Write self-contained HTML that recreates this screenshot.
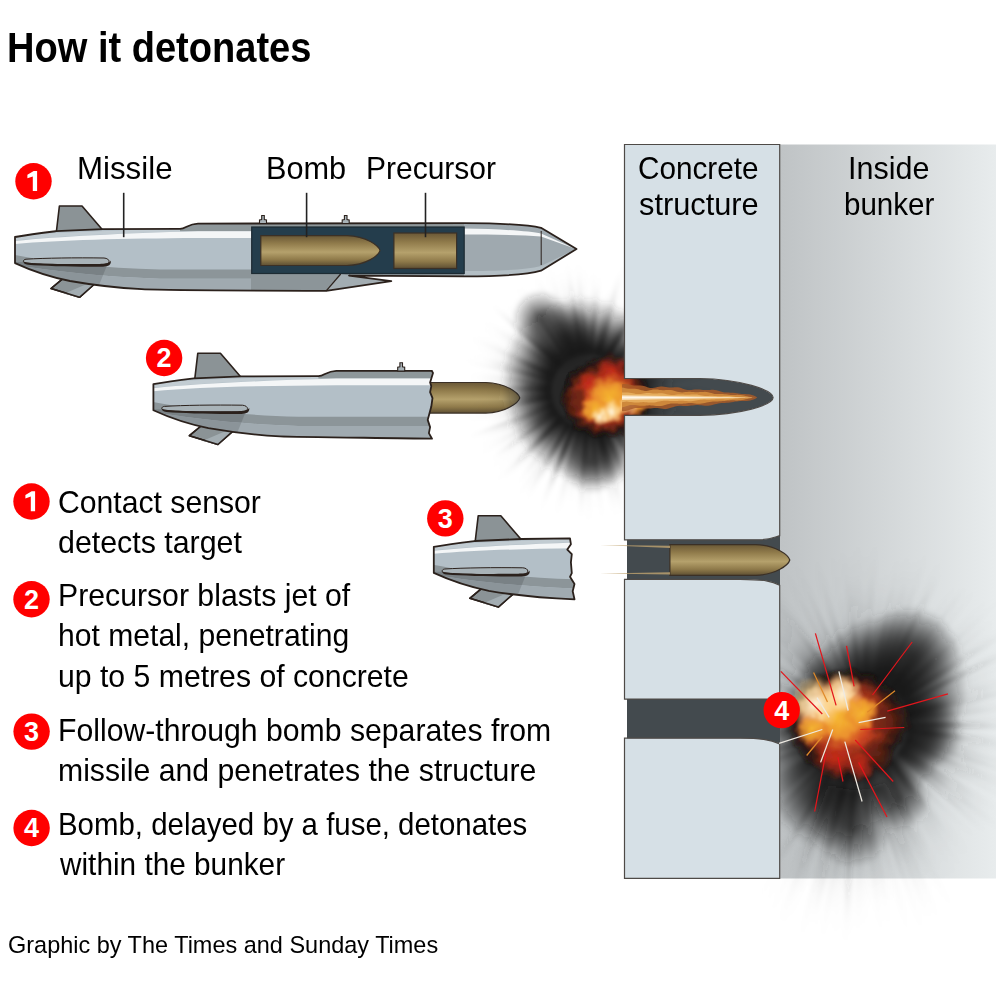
<!DOCTYPE html>
<html><head><meta charset="utf-8"><style>
html,body{margin:0;padding:0;background:#fff;width:996px;height:982px;overflow:hidden}
.t{position:absolute;white-space:pre;font-family:"Liberation Sans",sans-serif;color:#000;transform-origin:0 0}
svg{position:absolute;left:0;top:0}
.bd{font-family:"Liberation Sans",sans-serif;font-weight:bold;font-size:27px}
</style></head><body>
<svg width="996" height="982" viewBox="0 0 996 982">
<defs>
<linearGradient id="bunk" x1="0" x2="1" y1="0" y2="0"><stop offset="0" stop-color="#bfc3c5"/><stop offset="1" stop-color="#e8eced"/></linearGradient>
<linearGradient id="brass" x1="0" x2="0" y1="0" y2="1"><stop offset="0" stop-color="#6a5836"/><stop offset="0.25" stop-color="#8f7a4a"/><stop offset="0.55" stop-color="#b5a16c"/><stop offset="0.8" stop-color="#8f7a4a"/><stop offset="1" stop-color="#5e4f33"/></linearGradient>
</defs>
<g id="m1">
<polygon points="59.4,206.0 82.0,206.0 103.5,231.0 56.0,235.0" fill="#8b9396" stroke="#2b211c" stroke-width="1.6" stroke-linejoin="round"/>
<polygon points="51.0,288.5 79.5,297.3 94.0,284.5 65.0,276.8" fill="#8b9396" stroke="#2b211c" stroke-width="1.6" stroke-linejoin="round"/>
<polygon points="64.0,293.8 79.5,297.3 94.0,284.5 88.0,283.5" fill="#a3adb2"/>
<polygon points="51.0,288.5 79.5,297.3 94.0,284.5 65.0,276.8" fill="none" stroke="#2b211c" stroke-width="1.6" stroke-linejoin="round"/>
<clipPath id="c1"><path d="M15,237 C30,234.5 45,232.6 56,231.2 L103,229.2 L180,228.9 C186,228.8 188,223.8 198,223.6 L464,223.2 C505,223.4 530,225 541,227.8 L576.5,249 L541,270.7 C528,274.5 500,276.3 464,276.3 L349,275.6 L391.3,281.2 L326.2,290.8 C250,290.7 160,290 141.6,289.2 C110,287.5 90,284.5 70,281 C50,277 30,270 15,263.1 Z"/></clipPath>
<g clip-path="url(#c1)">
<rect x="0" y="200" width="600" height="100" fill="#b3bfc7"/>
<path d="M10,235 L180,228 L200,222 L600,222 L600,231.3 L198,231.3 C120,233 60,236 10,241 Z" fill="#c2ccd2"/>
<path d="M180,220 L600,220 L600,231.3 L180,231.3 Z" fill="#8e979a"/>
<path d="M15,241 C60,236.5 120,233.5 198,231.3 L600,231.3 L600,238 L198,238 C120,238.5 60,240 15,244 Z" fill="#f4f6f7"/>
<path d="M10,254 C50,262 100,268 160,269.6 L600,269.6 L600,278.7 L160,278.7 C100,277 50,271 10,264 Z" fill="#8c9599"/>
<path d="M10,264 C50,271 100,277 160,278.7 L600,278.7 L600,300 L10,300 Z" fill="#a0aab0"/>
<path d="M22,262 L108,263 L93,300 L10,300 L10,262 Z" fill="#000" opacity="0.13"/>

<rect x="464" y="200" width="130" height="100" fill="#9fa9af"/>
<path d="M464,228.5 C500,229 530,231 541,233.5 L576,249 L541,236.5 C520,235 490,234.5 464,234.5 Z" fill="#f4f6f7"/>
<path d="M464,271 C500,271 525,270 541,266 L576,249 L576,300 L464,300 Z" fill="#b3bec4"/>
<path d="M251,273.5 L464,273.5 L464,300 L251,300Z" fill="#8c9599"/>
<path d="M326.2,291 L340.7,274 L349,275.6 L391.3,281.2 Z" fill="#a3adb2"/>
<path d="M326.2,291 L200,300 L200,278.7 L340.7,278.7 Z" fill="none"/>

</g>
<path d="M15,237 C30,234.5 45,232.6 56,231.2 L103,229.2 L180,228.9 C186,228.8 188,223.8 198,223.6 L464,223.2 C505,223.4 530,225 541,227.8 L576.5,249 L541,270.7 C528,274.5 500,276.3 464,276.3 L349,275.6 L391.3,281.2 L326.2,290.8 C250,290.7 160,290 141.6,289.2 C110,287.5 90,284.5 70,281 C50,277 30,270 15,263.1 Z" fill="none" stroke="#2b211c" stroke-width="1.8" stroke-linejoin="round"/>
<path d="M26,259.2 C45,258 75,257.6 104,258.0 C110.5,258.5 111,264 104,264.6 C75,265.3 45,264.6 26,263.2 C22.5,262.8 22.5,259.6 26,259.2 Z" fill="#a9b3b8" stroke="#2b211c" stroke-width="1.0"/>
<path d="M23.6,261.6 C26,263.3 40,264.1 75,264.1 C90,264.1 100,263.9 103,263.7 C108,263.5 110.4,262 110.8,260.6 C111.5,265 108.5,266.6 103,266.7 C75,267.1 45,266 28,264.8 C24.6,264.5 23.4,263 23.6,261.6 Z" fill="#2b211c"/>

<line x1="541.2" y1="231" x2="541.2" y2="265" stroke="#2b211c" stroke-width="1"/>
<line x1="326.2" y1="290.8" x2="340.7" y2="274" stroke="#2b211c" stroke-width="1.2"/>
<rect x="251.7" y="227" width="212.5" height="46.5" fill="#243d4c" stroke="#1d2b33" stroke-width="1.2"/>
<path d="M260.8,235.7 L347,235.7 C366.8,236.296 378.68,245.832 380,250.6 C378.68,255.368 366.8,264.904 347,265.5 L260.8,265.5 Z" fill="url(#brass)" stroke="#3b3026" stroke-width="1.2"/>
<rect x="393.9" y="233" width="62.7" height="35.5" fill="url(#brass)" stroke="#3b3026" stroke-width="1.2"/>
<path d="M261.7,215.5 L264.3,215.5 L264.3,219.5 L266.5,220.0 L266.5,223.5 L259.5,223.5 L259.5,220.0 L261.7,219.5 Z" fill="#a9b3b8" stroke="#2b211c" stroke-width="1.1"/><path d="M344.4,215.5 L347.0,215.5 L347.0,219.5 L349.2,220.0 L349.2,223.5 L342.2,223.5 L342.2,220.0 L344.4,219.5 Z" fill="#a9b3b8" stroke="#2b211c" stroke-width="1.1"/>

</g>
<path d="M415,382.5 L485.79999999999995,382.5 C506.19999999999993,383.112 518.4399999999999,392.904 519.8,397.8 C518.4399999999999,402.696 506.19999999999993,412.488 485.79999999999995,413.1 L415,413.1 Z" fill="url(#brass)" stroke="#3b3026" stroke-width="1.2"/>
<g transform="translate(138.4,147.2)">
<polygon points="59.4,206.0 82.0,206.0 103.5,231.0 56.0,235.0" fill="#8b9396" stroke="#2b211c" stroke-width="1.6" stroke-linejoin="round"/>
<polygon points="51.0,288.5 79.5,297.3 94.0,284.5 65.0,276.8" fill="#8b9396" stroke="#2b211c" stroke-width="1.6" stroke-linejoin="round"/>
<polygon points="64.0,293.8 79.5,297.3 94.0,284.5 88.0,283.5" fill="#a3adb2"/>
<polygon points="51.0,288.5 79.5,297.3 94.0,284.5 65.0,276.8" fill="none" stroke="#2b211c" stroke-width="1.6" stroke-linejoin="round"/>
<clipPath id="c2"><path d="M15,237 C30,234.5 45,232.6 56,231.2 L103,229.2 L180,228.9 C186,228.8 188,223.8 198,223.6 L293.6,223.6 L293.6,224 L294.6,225.7 L291.7,235.3 L292.9,238.9 L291.7,245 L294.1,251 L292.9,259.4 L289.3,272.7 L291.7,279.9 L290.5,285.9 L293.6,291.5 C250,290.7 160,290 141.6,289.2 C110,287.5 90,284.5 70,281 C50,277 30,270 15,263.1 Z"/></clipPath>
<g clip-path="url(#c2)">
<rect x="0" y="200" width="600" height="100" fill="#b3bfc7"/>
<path d="M10,235 L180,228 L200,222 L600,222 L600,231.3 L198,231.3 C120,233 60,236 10,241 Z" fill="#c2ccd2"/>
<path d="M180,220 L600,220 L600,231.3 L180,231.3 Z" fill="#8e979a"/>
<path d="M15,241 C60,236.5 120,233.5 198,231.3 L600,231.3 L600,238 L198,238 C120,238.5 60,240 15,244 Z" fill="#f4f6f7"/>
<path d="M10,254 C50,262 100,268 160,269.6 L600,269.6 L600,278.7 L160,278.7 C100,277 50,271 10,264 Z" fill="#8c9599"/>
<path d="M10,264 C50,271 100,277 160,278.7 L600,278.7 L600,300 L10,300 Z" fill="#a0aab0"/>
<path d="M22,262 L108,263 L93,300 L10,300 L10,262 Z" fill="#000" opacity="0.13"/>

</g>
<path d="M15,237 C30,234.5 45,232.6 56,231.2 L103,229.2 L180,228.9 C186,228.8 188,223.8 198,223.6 L293.6,223.6 L293.6,224 L294.6,225.7 L291.7,235.3 L292.9,238.9 L291.7,245 L294.1,251 L292.9,259.4 L289.3,272.7 L291.7,279.9 L290.5,285.9 L293.6,291.5 C250,290.7 160,290 141.6,289.2 C110,287.5 90,284.5 70,281 C50,277 30,270 15,263.1 Z" fill="none" stroke="#2b211c" stroke-width="1.8" stroke-linejoin="round"/>
<path d="M26,259.2 C45,258 75,257.6 104,258.0 C110.5,258.5 111,264 104,264.6 C75,265.3 45,264.6 26,263.2 C22.5,262.8 22.5,259.6 26,259.2 Z" fill="#a9b3b8" stroke="#2b211c" stroke-width="1.0"/>
<path d="M23.6,261.6 C26,263.3 40,264.1 75,264.1 C90,264.1 100,263.9 103,263.7 C108,263.5 110.4,262 110.8,260.6 C111.5,265 108.5,266.6 103,266.7 C75,267.1 45,266 28,264.8 C24.6,264.5 23.4,263 23.6,261.6 Z" fill="#2b211c"/>
<path d="M261.5,215.5 L264.1,215.5 L264.1,219.5 L266.3,220.0 L266.3,223.8 L259.3,223.8 L259.3,220.0 L261.5,219.5 Z" fill="#a9b3b8" stroke="#2b211c" stroke-width="1.1"/>
</g>
<g transform="translate(418.8,309.8)">
<polygon points="59.4,206.0 82.0,206.0 103.5,231.0 56.0,235.0" fill="#8b9396" stroke="#2b211c" stroke-width="1.6" stroke-linejoin="round"/>
<polygon points="51.0,288.5 79.5,297.3 94.0,284.5 65.0,276.8" fill="#8b9396" stroke="#2b211c" stroke-width="1.6" stroke-linejoin="round"/>
<polygon points="64.0,293.8 79.5,297.3 94.0,284.5 88.0,283.5" fill="#a3adb2"/>
<polygon points="51.0,288.5 79.5,297.3 94.0,284.5 65.0,276.8" fill="none" stroke="#2b211c" stroke-width="1.6" stroke-linejoin="round"/>
<clipPath id="c3"><path d="M15,237 C30,234.5 45,232.6 56,231.2 L103,229.2 L151.2,228.6 L151.2,228.6 L152.1,234.4 L148.5,239.8 L153,244.4 L152.1,252.5 L153,263.3 L151.2,267 L155.7,274.2 L153.9,281.4 L155.7,289.5 C120,288 90,284.5 70,281 C50,277 30,270 15,263.1 Z"/></clipPath>
<g clip-path="url(#c3)">
<rect x="0" y="200" width="600" height="100" fill="#b3bfc7"/>
<path d="M10,235 L180,228 L200,222 L600,222 L600,231.3 L198,231.3 C120,233 60,236 10,241 Z" fill="#c2ccd2"/>
<path d="M180,220 L600,220 L600,231.3 L180,231.3 Z" fill="#8e979a"/>
<path d="M15,241 C60,236.5 120,233.5 198,231.3 L600,231.3 L600,238 L198,238 C120,238.5 60,240 15,244 Z" fill="#f4f6f7"/>
<path d="M10,254 C50,262 100,268 160,269.6 L600,269.6 L600,278.7 L160,278.7 C100,277 50,271 10,264 Z" fill="#8c9599"/>
<path d="M10,264 C50,271 100,277 160,278.7 L600,278.7 L600,300 L10,300 Z" fill="#a0aab0"/>
<path d="M22,262 L108,263 L93,300 L10,300 L10,262 Z" fill="#000" opacity="0.13"/>

</g>
<path d="M15,237 C30,234.5 45,232.6 56,231.2 L103,229.2 L151.2,228.6 L151.2,228.6 L152.1,234.4 L148.5,239.8 L153,244.4 L152.1,252.5 L153,263.3 L151.2,267 L155.7,274.2 L153.9,281.4 L155.7,289.5 C120,288 90,284.5 70,281 C50,277 30,270 15,263.1 Z" fill="none" stroke="#2b211c" stroke-width="1.8" stroke-linejoin="round"/>
<path d="M26,259.2 C45,258 75,257.6 104,258.0 C110.5,258.5 111,264 104,264.6 C75,265.3 45,264.6 26,263.2 C22.5,262.8 22.5,259.6 26,259.2 Z" fill="#a9b3b8" stroke="#2b211c" stroke-width="1.0"/>
<path d="M23.6,261.6 C26,263.3 40,264.1 75,264.1 C90,264.1 100,263.9 103,263.7 C108,263.5 110.4,262 110.8,260.6 C111.5,265 108.5,266.6 103,266.7 C75,267.1 45,266 28,264.8 C24.6,264.5 23.4,263 23.6,261.6 Z" fill="#2b211c"/>

</g>
<rect x="780" y="144.5" width="216" height="734" fill="url(#bunk)"/>
<path d="M627,378.5 L700,378.5 C740,379 773.1,390 773.1,397.6 C773.1,405 740,415 700,415.3 L627,415.3 Z" fill="#434a4e"/>
<radialGradient id="s1g" gradientUnits="userSpaceOnUse" cx="588" cy="391" r="140.6"><stop offset="0" stop-color="#111" stop-opacity="1"/><stop offset="0.421" stop-color="#151515" stop-opacity="0.85"/><stop offset="0.632" stop-color="#2a2a2a" stop-opacity="0.35"/><stop offset="1" stop-color="#555" stop-opacity="0"/></radialGradient>
<radialGradient id="s1c" gradientUnits="userSpaceOnUse" cx="588" cy="391" r="85.1"><stop offset="0" stop-color="#111" stop-opacity="0.93"/><stop offset="0.45" stop-color="#141414" stop-opacity="0.93"/><stop offset="0.72" stop-color="#1c1c1c" stop-opacity="0.51"/><stop offset="1" stop-color="#333" stop-opacity="0"/></radialGradient>
<radialGradient id="s1l" gradientUnits="objectBoundingBox" cx="0.5" cy="0.5" r="0.5"><stop offset="0" stop-color="#111" stop-opacity="0.7"/><stop offset="0.4" stop-color="#151515" stop-opacity="0.45"/><stop offset="1" stop-color="#222" stop-opacity="0"/></radialGradient>
<filter id="s1f" x="-50%" y="-50%" width="200%" height="200%"><feTurbulence type="fractalNoise" baseFrequency="0.025" numOctaves="2" seed="11" result="n"/><feDisplacementMap in="SourceGraphic" in2="n" scale="0" xChannelSelector="R" yChannelSelector="G" result="d"/><feGaussianBlur in="d" stdDeviation="2.2"/></filter>
<g filter="url(#s1f)">
<g transform="translate(588,391) rotate(-25) scale(1.0,1.15) translate(-588,-391)"><circle cx="588" cy="391" r="85.1" fill="url(#s1c)"/></g>
<circle cx="562" cy="338" r="36" fill="url(#s1l)"/>
<circle cx="592" cy="462" r="32" fill="url(#s1l)"/>
<circle cx="540" cy="318" r="28" fill="url(#s1l)"/>
<path d="M553.0,403.1 L484.8,422.8 L552.3,400.7 Z" fill="url(#s1g)" opacity="0.36"/>
<path d="M551.0,389.7 L478.1,385.6 L551.1,388.6 Z" fill="url(#s1g)" opacity="0.38"/>
<path d="M562.3,364.4 L502.2,299.7 L563.0,363.7 Z" fill="url(#s1g)" opacity="0.29"/>
<path d="M619.7,410.1 L694.5,459.2 L618.6,411.8 Z" fill="url(#s1g)" opacity="0.17"/>
<path d="M624.6,385.9 L725.1,375.6 L624.9,387.8 Z" fill="url(#s1g)" opacity="0.43"/>
<path d="M609.0,421.4 L625.2,447.6 L607.6,422.4 Z" fill="url(#s1g)" opacity="0.18"/>
<path d="M601.9,425.3 L619.0,469.6 L601.2,425.6 Z" fill="url(#s1g)" opacity="0.36"/>
<path d="M553.9,405.3 L468.0,438.1 L553.3,403.7 Z" fill="url(#s1g)" opacity="0.44"/>
<path d="M551.0,391.8 L472.4,391.2 L551.0,390.3 Z" fill="url(#s1g)" opacity="0.28"/>
<path d="M625.0,389.3 L728.3,388.9 L625.0,391.6 Z" fill="url(#s1g)" opacity="0.47"/>
<path d="M573.8,425.2 L554.7,467.7 L572.7,424.7 Z" fill="url(#s1g)" opacity="0.18"/>
<path d="M590.6,354.1 L597.8,295.3 L592.9,354.3 Z" fill="url(#s1g)" opacity="0.32"/>
<path d="M623.6,381.0 L712.8,357.3 L623.8,381.7 Z" fill="url(#s1g)" opacity="0.24"/>
<path d="M618.6,370.2 L673.7,336.8 L619.9,372.3 Z" fill="url(#s1g)" opacity="0.33"/>
<path d="M621.6,406.4 L689.5,441.1 L620.7,408.4 Z" fill="url(#s1g)" opacity="0.27"/>
<path d="M620.2,409.2 L665.9,438.5 L618.9,411.3 Z" fill="url(#s1g)" opacity="0.49"/>
<path d="M615.6,415.6 L650.6,448.3 L615.0,416.3 Z" fill="url(#s1g)" opacity="0.18"/>
<path d="M597.9,355.4 L611.2,314.7 L599.6,355.9 Z" fill="url(#s1g)" opacity="0.35"/>
<path d="M601.9,425.3 L632.0,503.5 L601.0,425.6 Z" fill="url(#s1g)" opacity="0.44"/>
<path d="M615.9,415.3 L660.7,456.3 L615.1,416.1 Z" fill="url(#s1g)" opacity="0.27"/>
<path d="M624.3,383.6 L712.0,368.1 L624.5,384.9 Z" fill="url(#s1g)" opacity="0.55"/>
<path d="M598.2,426.6 L611.4,483.9 L595.9,427.1 Z" fill="url(#s1g)" opacity="0.44"/>
<path d="M618.2,412.3 L700.9,473.4 L617.6,413.3 Z" fill="url(#s1g)" opacity="0.27"/>
<path d="M592.6,354.3 L600.9,301.0 L593.9,354.5 Z" fill="url(#s1g)" opacity="0.18"/>
<path d="M619.5,410.3 L680.6,449.9 L618.9,411.3 Z" fill="url(#s1g)" opacity="0.42"/>
<path d="M563.3,418.6 L518.7,463.3 L561.5,416.8 Z" fill="url(#s1g)" opacity="0.37"/>
<path d="M554.7,374.8 L471.4,332.0 L555.2,373.8 Z" fill="url(#s1g)" opacity="0.22"/>
<path d="M618.7,370.4 L694.6,321.8 L619.4,371.4 Z" fill="url(#s1g)" opacity="0.24"/>
<path d="M585.0,354.1 L579.0,255.1 L586.1,354.0 Z" fill="url(#s1g)" opacity="0.58"/>
<path d="M614.8,365.5 L670.1,316.0 L615.8,366.6 Z" fill="url(#s1g)" opacity="0.20"/>
<path d="M624.0,399.3 L721.8,424.2 L623.8,400.5 Z" fill="url(#s1g)" opacity="0.47"/>
<path d="M587.3,428.0 L582.4,518.4 L585.5,427.9 Z" fill="url(#s1g)" opacity="0.28"/>
<path d="M605.1,423.8 L642.1,498.0 L604.3,424.2 Z" fill="url(#s1g)" opacity="0.25"/>
<path d="M553.2,378.4 L467.2,343.7 L553.9,376.6 Z" fill="url(#s1g)" opacity="0.28"/>
<path d="M619.9,372.3 L658.9,350.5 L620.3,373.0 Z" fill="url(#s1g)" opacity="0.27"/>
<path d="M553.3,403.9 L521.0,414.8 L553.0,402.9 Z" fill="url(#s1g)" opacity="0.32"/>
<path d="M554.4,375.4 L519.4,357.6 L555.1,374.2 Z" fill="url(#s1g)" opacity="0.55"/>
<path d="M624.6,385.5 L702.3,376.9 L624.8,387.5 Z" fill="url(#s1g)" opacity="0.41"/>
<path d="M611.8,419.3 L632.0,444.4 L611.2,419.8 Z" fill="url(#s1g)" opacity="0.56"/>
<path d="M576.4,355.9 L546.2,259.6 L577.2,355.6 Z" fill="url(#s1g)" opacity="0.44"/>
<path d="M551.3,395.8 L468.1,404.4 L551.2,394.5 Z" fill="url(#s1g)" opacity="0.60"/>
<path d="M621.4,406.9 L683.3,439.7 L620.4,408.8 Z" fill="url(#s1g)" opacity="0.56"/>
<path d="M583.9,354.2 L578.4,272.7 L586.1,354.0 Z" fill="url(#s1g)" opacity="0.56"/>
<path d="M566.9,421.4 L518.0,485.1 L565.0,419.9 Z" fill="url(#s1g)" opacity="0.54"/>
<path d="M556.5,410.4 L479.5,453.2 L555.3,408.4 Z" fill="url(#s1g)" opacity="0.41"/>
<path d="M561.2,365.5 L520.9,323.9 L562.5,364.2 Z" fill="url(#s1g)" opacity="0.42"/>
<path d="M621.0,407.7 L687.8,446.0 L619.8,410.0 Z" fill="url(#s1g)" opacity="0.55"/>
<path d="M581.9,354.5 L575.0,296.5 L584.0,354.2 Z" fill="url(#s1g)" opacity="0.41"/>
<path d="M553.7,404.9 L468.2,438.0 L553.4,404.1 Z" fill="url(#s1g)" opacity="0.49"/>
<path d="M624.5,397.1 L697.2,411.7 L624.2,398.7 Z" fill="url(#s1g)" opacity="0.25"/>
<path d="M575.3,356.2 L555.0,293.0 L577.1,355.6 Z" fill="url(#s1g)" opacity="0.56"/>
<path d="M587.3,428.0 L585.5,458.4 L586.0,427.9 Z" fill="url(#s1g)" opacity="0.46"/>
<path d="M600.0,426.0 L611.2,466.7 L597.7,426.7 Z" fill="url(#s1g)" opacity="0.45"/>
<path d="M553.7,404.8 L464.1,438.3 L553.2,403.6 Z" fill="url(#s1g)" opacity="0.45"/>
<path d="M600.8,425.7 L619.3,484.4 L598.7,426.4 Z" fill="url(#s1g)" opacity="0.56"/>
<path d="M614.4,365.1 L657.4,326.1 L615.6,366.4 Z" fill="url(#s1g)" opacity="0.29"/>
<path d="M613.1,418.2 L655.8,469.0 L611.4,419.7 Z" fill="url(#s1g)" opacity="0.53"/>
<path d="M578.5,355.2 L555.0,258.1 L579.7,354.9 Z" fill="url(#s1g)" opacity="0.23"/>
<path d="M552.9,402.8 L505.2,417.5 L552.6,401.7 Z" fill="url(#s1g)" opacity="0.34"/>
<path d="M561.5,365.2 L515.4,317.7 L562.4,364.3 Z" fill="url(#s1g)" opacity="0.53"/>
<path d="M624.7,386.4 L687.4,379.7 L624.8,387.3 Z" fill="url(#s1g)" opacity="0.16"/>
<path d="M613.1,363.8 L636.6,341.1 L614.5,365.2 Z" fill="url(#s1g)" opacity="0.41"/>
<path d="M575.0,425.6 L542.6,507.7 L574.2,425.3 Z" fill="url(#s1g)" opacity="0.21"/>
<path d="M552.8,402.4 L522.3,410.2 L552.2,400.3 Z" fill="url(#s1g)" opacity="0.26"/>
<path d="M612.2,419.0 L632.4,445.2 L610.7,420.2 Z" fill="url(#s1g)" opacity="0.35"/>
<path d="M561.9,364.8 L509.2,307.1 L563.5,363.3 Z" fill="url(#s1g)" opacity="0.58"/>
<path d="M572.5,357.4 L555.5,316.4 L573.9,356.8 Z" fill="url(#s1g)" opacity="0.23"/>
<path d="M625.0,392.5 L689.3,397.9 L624.8,394.5 Z" fill="url(#s1g)" opacity="0.23"/>
<path d="M583.8,427.8 L575.1,482.3 L581.8,427.5 Z" fill="url(#s1g)" opacity="0.38"/>
<path d="M559.7,367.2 L495.8,310.3 L560.7,366.1 Z" fill="url(#s1g)" opacity="0.51"/>
<path d="M618.1,369.4 L648.7,350.4 L619.4,371.5 Z" fill="url(#s1g)" opacity="0.48"/>
<path d="M614.0,417.3 L656.6,464.0 L612.6,418.6 Z" fill="url(#s1g)" opacity="0.56"/>
<path d="M562.4,417.7 L510.3,467.0 L560.7,416.0 Z" fill="url(#s1g)" opacity="0.51"/>
<path d="M622.4,377.4 L682.8,356.4 L623.1,379.2 Z" fill="url(#s1g)" opacity="0.24"/>
<path d="M580.6,354.8 L565.7,265.8 L582.5,354.4 Z" fill="url(#s1g)" opacity="0.47"/>
<path d="M597.7,426.7 L618.4,520.7 L595.2,427.3 Z" fill="url(#s1g)" opacity="0.59"/>
<path d="M551.8,383.1 L466.2,362.2 L552.2,381.8 Z" fill="url(#s1g)" opacity="0.56"/>
<path d="M610.5,361.6 L645.0,318.3 L611.2,362.2 Z" fill="url(#s1g)" opacity="0.35"/>
<path d="M552.6,380.3 L470.7,352.6 L553.1,378.7 Z" fill="url(#s1g)" opacity="0.16"/>
<path d="M600.4,356.1 L613.9,324.5 L602.5,356.9 Z" fill="url(#s1g)" opacity="0.23"/>
<path d="M569.6,423.1 L524.4,498.5 L568.7,422.6 Z" fill="url(#s1g)" opacity="0.22"/>
<path d="M551.1,388.3 L468.5,378.5 L551.3,386.0 Z" fill="url(#s1g)" opacity="0.46"/>
<path d="M622.4,377.5 L685.1,356.5 L623.3,379.8 Z" fill="url(#s1g)" opacity="0.19"/>
<path d="M595.2,427.3 L606.9,494.9 L594.0,427.5 Z" fill="url(#s1g)" opacity="0.48"/>
<path d="M563.3,363.4 L520.3,310.4 L565.1,361.9 Z" fill="url(#s1g)" opacity="0.40"/>
<path d="M575.1,425.7 L552.2,478.8 L573.0,424.8 Z" fill="url(#s1g)" opacity="0.56"/>
<path d="M598.8,426.4 L621.6,516.1 L596.4,427.0 Z" fill="url(#s1g)" opacity="0.39"/>
<path d="M554.4,375.4 L514.9,354.9 L555.2,373.8 Z" fill="url(#s1g)" opacity="0.38"/>
<path d="M558.0,369.3 L533.8,348.8 L559.6,367.3 Z" fill="url(#s1g)" opacity="0.38"/>
<path d="M558.5,413.4 L485.9,464.6 L557.5,411.9 Z" fill="url(#s1g)" opacity="0.37"/>
<path d="M573.8,356.8 L562.1,324.4 L575.4,356.2 Z" fill="url(#s1g)" opacity="0.34"/>
<path d="M623.5,380.5 L718.0,354.9 L623.8,381.7 Z" fill="url(#s1g)" opacity="0.36"/>
<path d="M614.6,416.7 L656.9,461.6 L613.0,418.3 Z" fill="url(#s1g)" opacity="0.56"/>
<path d="M551.5,397.0 L498.9,404.2 L551.3,395.9 Z" fill="url(#s1g)" opacity="0.43"/>
<path d="M620.5,373.3 L655.9,356.5 L621.5,375.2 Z" fill="url(#s1g)" opacity="0.16"/>
<path d="M601.7,425.4 L616.7,469.3 L599.8,426.1 Z" fill="url(#s1g)" opacity="0.29"/>
<path d="M565.6,420.5 L518.9,479.7 L564.9,419.9 Z" fill="url(#s1g)" opacity="0.48"/>
<path d="M614.9,416.4 L662.8,463.8 L614.1,417.2 Z" fill="url(#s1g)" opacity="0.24"/>
<path d="M551.5,384.7 L490.9,372.2 L551.8,383.3 Z" fill="url(#s1g)" opacity="0.34"/>
<path d="M551.5,384.8 L510.9,376.6 L551.7,383.7 Z" fill="url(#s1g)" opacity="0.43"/>
<path d="M563.3,363.5 L519.8,310.1 L565.0,362.0 Z" fill="url(#s1g)" opacity="0.43"/>
<path d="M610.2,361.4 L640.1,325.3 L611.8,362.7 Z" fill="url(#s1g)" opacity="0.51"/>
<path d="M617.9,369.2 L661.7,339.3 L618.7,370.3 Z" fill="url(#s1g)" opacity="0.57"/>
<path d="M596.5,427.0 L615.9,528.7 L594.2,427.5 Z" fill="url(#s1g)" opacity="0.21"/>
<path d="M591.1,427.9 L596.1,511.1 L589.9,428.0 Z" fill="url(#s1g)" opacity="0.19"/>
<path d="M605.3,358.3 L636.3,305.9 L607.2,359.4 Z" fill="url(#s1g)" opacity="0.21"/>
<path d="M557.9,412.5 L491.9,458.3 L557.5,411.9 Z" fill="url(#s1g)" opacity="0.24"/>
<path d="M571.6,357.8 L532.8,268.9 L573.9,356.8 Z" fill="url(#s1g)" opacity="0.20"/>
<path d="M551.0,390.5 L465.4,386.6 L551.1,388.8 Z" fill="url(#s1g)" opacity="0.46"/>
<path d="M602.3,425.1 L614.9,457.6 L601.4,425.5 Z" fill="url(#s1g)" opacity="0.17"/>
<path d="M552.7,380.1 L488.8,357.6 L553.2,378.4 Z" fill="url(#s1g)" opacity="0.22"/>
<path d="M603.8,424.4 L620.7,465.9 L601.7,425.4 Z" fill="url(#s1g)" opacity="0.60"/>
<path d="M621.0,374.2 L654.0,358.3 L621.4,375.0 Z" fill="url(#s1g)" opacity="0.58"/>
<path d="M552.2,400.4 L468.3,420.1 L551.9,399.1 Z" fill="url(#s1g)" opacity="0.36"/>
<path d="M551.1,388.4 L490.0,381.6 L551.3,386.5 Z" fill="url(#s1g)" opacity="0.16"/>
<path d="M576.3,355.9 L548.9,268.0 L577.3,355.6 Z" fill="url(#s1g)" opacity="0.35"/>
<path d="M585.0,354.1 L581.5,294.6 L586.1,354.1 Z" fill="url(#s1g)" opacity="0.22"/>
<path d="M551.0,389.3 L520.5,385.7 L551.2,386.9 Z" fill="url(#s1g)" opacity="0.51"/>
<path d="M576.7,355.8 L551.4,266.0 L578.5,355.2 Z" fill="url(#s1g)" opacity="0.33"/>
<path d="M557.3,370.4 L503.8,330.1 L558.8,368.3 Z" fill="url(#s1g)" opacity="0.51"/>
<path d="M587.1,428.0 L581.0,524.9 L585.0,427.9 Z" fill="url(#s1g)" opacity="0.50"/>
<path d="M601.5,356.6 L626.2,302.2 L603.7,357.5 Z" fill="url(#s1g)" opacity="0.55"/>
<path d="M574.4,356.6 L546.1,275.0 L576.4,355.9 Z" fill="url(#s1g)" opacity="0.33"/>
<path d="M581.0,354.7 L575.7,320.2 L582.3,354.4 Z" fill="url(#s1g)" opacity="0.36"/>
<path d="M625.0,392.5 L680.7,397.2 L624.8,394.4 Z" fill="url(#s1g)" opacity="0.43"/>
<path d="M593.1,427.6 L603.3,526.6 L591.2,427.9 Z" fill="url(#s1g)" opacity="0.30"/>
<path d="M567.4,360.3 L529.6,299.3 L568.9,359.3 Z" fill="url(#s1g)" opacity="0.33"/>
<path d="M625.0,390.0 L702.1,390.9 L625.0,392.0 Z" fill="url(#s1g)" opacity="0.49"/>
<path d="M624.6,385.5 L655.8,382.5 L624.8,387.3 Z" fill="url(#s1g)" opacity="0.48"/>
<path d="M586.9,428.0 L584.0,487.2 L586.0,427.9 Z" fill="url(#s1g)" opacity="0.24"/>
<path d="M562.2,417.5 L535.5,443.0 L561.3,416.6 Z" fill="url(#s1g)" opacity="0.56"/>
<path d="M552.4,380.8 L488.9,358.8 L553.2,378.4 Z" fill="url(#s1g)" opacity="0.41"/>
<path d="M624.9,388.7 L701.8,387.5 L625.0,391.0 Z" fill="url(#s1g)" opacity="0.18"/>
<path d="M557.5,370.1 L487.6,320.4 L558.0,369.4 Z" fill="url(#s1g)" opacity="0.57"/>
<path d="M608.3,421.9 L642.4,476.7 L607.4,422.5 Z" fill="url(#s1g)" opacity="0.37"/>
<path d="M558.9,368.2 L533.7,345.4 L560.5,366.3 Z" fill="url(#s1g)" opacity="0.34"/>
<path d="M551.4,385.5 L478.7,372.5 L551.6,384.1 Z" fill="url(#s1g)" opacity="0.28"/>
<path d="M566.7,360.7 L527.3,301.6 L567.8,360.0 Z" fill="url(#s1g)" opacity="0.47"/>
<path d="M578.0,426.6 L568.7,455.8 L576.9,426.3 Z" fill="url(#s1g)" opacity="0.17"/>
<path d="M609.1,421.4 L655.8,493.0 L607.9,422.2 Z" fill="url(#s1g)" opacity="0.55"/>
<path d="M586.3,354.0 L587.3,320.7 L588.9,354.0 Z" fill="url(#s1g)" opacity="0.58"/>
<path d="M621.5,406.8 L707.6,450.5 L620.8,408.2 Z" fill="url(#s1g)" opacity="0.36"/>
<path d="M624.3,384.0 L671.4,376.8 L624.6,385.6 Z" fill="url(#s1g)" opacity="0.57"/>
<path d="M580.4,354.8 L570.7,291.2 L583.0,354.3 Z" fill="url(#s1g)" opacity="0.52"/>
<path d="M558.0,369.3 L528.2,345.5 L559.2,367.8 Z" fill="url(#s1g)" opacity="0.36"/>
<path d="M599.4,426.2 L608.2,458.5 L597.8,426.7 Z" fill="url(#s1g)" opacity="0.21"/>
<path d="M553.6,404.7 L479.4,431.8 L553.1,403.3 Z" fill="url(#s1g)" opacity="0.27"/>
<path d="M555.3,373.7 L503.1,342.8 L556.4,371.8 Z" fill="url(#s1g)" opacity="0.39"/>
<path d="M625.0,389.4 L725.1,389.0 L625.0,391.5 Z" fill="url(#s1g)" opacity="0.26"/>
<path d="M616.6,414.4 L688.1,478.0 L615.2,416.1 Z" fill="url(#s1g)" opacity="0.43"/>
<path d="M565.3,420.3 L533.1,458.1 L563.8,419.0 Z" fill="url(#s1g)" opacity="0.40"/>
<path d="M556.4,371.7 L492.9,329.2 L557.6,370.0 Z" fill="url(#s1g)" opacity="0.24"/>
<path d="M589.5,428.0 L588.9,530.1 L587.0,428.0 Z" fill="url(#s1g)" opacity="0.55"/>
<path d="M624.0,399.5 L656.9,408.5 L623.7,400.7 Z" fill="url(#s1g)" opacity="0.34"/>
<path d="M561.0,365.7 L535.0,339.1 L562.2,364.5 Z" fill="url(#s1g)" opacity="0.18"/>
<path d="M620.1,409.4 L687.9,451.3 L619.2,410.9 Z" fill="url(#s1g)" opacity="0.43"/>
<path d="M562.5,417.9 L516.7,464.0 L561.7,417.1 Z" fill="url(#s1g)" opacity="0.30"/>
<path d="M586.4,354.0 L583.8,262.4 L587.2,354.0 Z" fill="url(#s1g)" opacity="0.20"/>
<path d="M600.4,356.2 L629.0,286.0 L602.4,356.9 Z" fill="url(#s1g)" opacity="0.25"/>
<path d="M555.6,408.9 L511.8,430.2 L554.6,406.9 Z" fill="url(#s1g)" opacity="0.32"/>
<path d="M566.4,361.0 L508.4,276.0 L567.5,360.2 Z" fill="url(#s1g)" opacity="0.40"/>
<path d="M586.3,354.0 L584.7,256.3 L587.9,354.0 Z" fill="url(#s1g)" opacity="0.32"/>
<path d="M618.6,411.8 L695.7,466.2 L618.1,412.5 Z" fill="url(#s1g)" opacity="0.19"/>
<path d="M553.6,377.4 L493.7,350.8 L554.4,375.6 Z" fill="url(#s1g)" opacity="0.28"/>
<path d="M593.3,354.4 L599.5,319.7 L594.5,354.6 Z" fill="url(#s1g)" opacity="0.45"/>
<path d="M620.7,408.3 L665.6,434.8 L619.7,410.1 Z" fill="url(#s1g)" opacity="0.46"/>
<path d="M581.1,427.3 L572.2,466.5 L579.7,427.1 Z" fill="url(#s1g)" opacity="0.48"/>
<path d="M564.1,419.2 L537.7,447.0 L562.5,417.8 Z" fill="url(#s1g)" opacity="0.41"/>
<path d="M619.6,371.8 L706.7,324.3 L620.8,374.0 Z" fill="url(#s1g)" opacity="0.35"/>
<path d="M599.5,355.8 L617.2,306.8 L600.7,356.3 Z" fill="url(#s1g)" opacity="0.33"/>
<path d="M621.7,375.7 L709.8,338.0 L622.2,376.8 Z" fill="url(#s1g)" opacity="0.31"/>
<path d="M564.0,419.2 L525.9,460.9 L562.9,418.2 Z" fill="url(#s1g)" opacity="0.32"/>
<path d="M601.6,425.4 L624.7,492.9 L599.5,426.2 Z" fill="url(#s1g)" opacity="0.39"/>
<path d="M606.7,359.0 L643.9,298.3 L607.6,359.6 Z" fill="url(#s1g)" opacity="0.49"/>
<path d="M614.8,365.5 L652.1,331.5 L615.4,366.1 Z" fill="url(#s1g)" opacity="0.38"/>
<path d="M552.1,382.1 L483.6,361.3 L552.8,379.7 Z" fill="url(#s1g)" opacity="0.44"/>
<path d="M599.6,355.9 L611.9,323.8 L601.2,356.4 Z" fill="url(#s1g)" opacity="0.50"/>
<path d="M620.5,408.7 L650.7,427.6 L619.4,410.5 Z" fill="url(#s1g)" opacity="0.55"/>
<path d="M620.1,409.3 L685.8,448.6 L619.6,410.2 Z" fill="url(#s1g)" opacity="0.49"/>
<path d="M565.6,361.5 L537.7,322.7 L566.5,360.9 Z" fill="url(#s1g)" opacity="0.49"/>
<path d="M551.2,386.7 L465.9,374.4 L551.4,385.3 Z" fill="url(#s1g)" opacity="0.30"/>
<path d="M624.1,382.9 L702.1,368.0 L624.4,384.5 Z" fill="url(#s1g)" opacity="0.39"/>
<path d="M580.1,354.9 L566.4,274.0 L582.5,354.4 Z" fill="url(#s1g)" opacity="0.33"/>
<path d="M604.0,357.6 L641.4,288.1 L606.1,358.7 Z" fill="url(#s1g)" opacity="0.51"/>
<path d="M605.5,358.4 L654.5,276.6 L607.7,359.7 Z" fill="url(#s1g)" opacity="0.44"/>
<path d="M551.3,386.6 L470.2,373.2 L551.6,384.4 Z" fill="url(#s1g)" opacity="0.34"/>
<path d="M556.0,409.7 L520.1,428.1 L555.0,407.8 Z" fill="url(#s1g)" opacity="0.60"/>
<path d="M562.1,417.5 L532.0,446.7 L561.4,416.7 Z" fill="url(#s1g)" opacity="0.34"/>
<path d="M578.8,426.8 L551.9,524.6 L577.9,426.6 Z" fill="url(#s1g)" opacity="0.29"/>
<path d="M616.5,414.6 L674.0,466.7 L615.1,416.2 Z" fill="url(#s1g)" opacity="0.23"/>
<path d="M622.5,404.3 L680.9,429.4 L621.8,406.0 Z" fill="url(#s1g)" opacity="0.56"/>
<path d="M624.2,398.9 L660.7,407.9 L623.9,399.9 Z" fill="url(#s1g)" opacity="0.25"/>
<path d="M592.3,427.7 L599.0,510.2 L590.5,427.9 Z" fill="url(#s1g)" opacity="0.25"/>
<path d="M603.2,424.7 L622.7,471.2 L602.2,425.2 Z" fill="url(#s1g)" opacity="0.49"/>
<path d="M575.1,425.7 L547.5,490.2 L573.0,424.8 Z" fill="url(#s1g)" opacity="0.37"/>
<path d="M586.8,428.0 L579.3,523.0 L584.4,427.8 Z" fill="url(#s1g)" opacity="0.30"/>
<path d="M552.4,380.9 L456.6,350.7 L552.9,379.4 Z" fill="url(#s1g)" opacity="0.25"/>
<path d="M623.5,401.3 L718.1,433.0 L622.9,403.4 Z" fill="url(#s1g)" opacity="0.32"/>
<path d="M551.5,385.2 L484.8,372.9 L551.7,384.0 Z" fill="url(#s1g)" opacity="0.60"/>
<path d="M567.4,360.3 L541.8,320.6 L568.0,359.9 Z" fill="url(#s1g)" opacity="0.36"/>
<path d="M563.2,418.4 L501.2,481.7 L561.7,417.0 Z" fill="url(#s1g)" opacity="0.42"/>
<path d="M608.9,421.5 L631.0,456.3 L607.8,422.3 Z" fill="url(#s1g)" opacity="0.27"/>
<path d="M612.5,363.3 L659.4,314.3 L613.9,364.6 Z" fill="url(#s1g)" opacity="0.60"/>
<path d="M584.7,427.9 L577.0,496.6 L583.7,427.7 Z" fill="url(#s1g)" opacity="0.50"/>
<path d="M625.0,390.2 L715.4,392.1 L625.0,392.5 Z" fill="url(#s1g)" opacity="0.52"/>
<path d="M620.6,408.4 L663.2,433.9 L619.6,410.2 Z" fill="url(#s1g)" opacity="0.19"/>
<path d="M551.5,396.9 L487.5,403.6 L551.2,394.4 Z" fill="url(#s1g)" opacity="0.41"/>
<path d="M610.2,361.4 L643.6,321.4 L612.0,362.8 Z" fill="url(#s1g)" opacity="0.34"/>
<path d="M619.5,371.5 L651.5,354.4 L620.6,373.5 Z" fill="url(#s1g)" opacity="0.24"/>
<path d="M552.2,381.5 L486.4,362.6 L552.5,380.5 Z" fill="url(#s1g)" opacity="0.52"/>
<path d="M574.5,425.4 L554.3,474.0 L573.7,425.1 Z" fill="url(#s1g)" opacity="0.29"/>
<path d="M551.9,399.3 L471.0,415.4 L551.6,397.9 Z" fill="url(#s1g)" opacity="0.46"/>
<path d="M617.6,413.2 L663.4,450.1 L616.6,414.4 Z" fill="url(#s1g)" opacity="0.59"/>
<path d="M605.4,358.4 L643.2,290.1 L606.1,358.7 Z" fill="url(#s1g)" opacity="0.32"/>
<path d="M577.9,355.4 L567.1,309.5 L579.7,355.0 Z" fill="url(#s1g)" opacity="0.36"/>
<path d="M625.0,392.3 L727.7,400.2 L624.8,394.5 Z" fill="url(#s1g)" opacity="0.24"/>
<path d="M559.9,366.9 L522.3,332.3 L560.9,365.8 Z" fill="url(#s1g)" opacity="0.39"/>
<path d="M577.7,426.5 L560.7,478.4 L576.3,426.1 Z" fill="url(#s1g)" opacity="0.45"/>
<path d="M587.5,428.0 L584.7,472.3 L585.5,427.9 Z" fill="url(#s1g)" opacity="0.30"/>
<path d="M622.4,377.5 L689.9,354.4 L623.2,379.5 Z" fill="url(#s1g)" opacity="0.30"/>
<path d="M604.7,358.0 L622.1,326.0 L605.6,358.5 Z" fill="url(#s1g)" opacity="0.19"/>
<path d="M571.3,358.0 L535.8,284.1 L572.2,357.5 Z" fill="url(#s1g)" opacity="0.33"/>
<path d="M606.8,359.1 L645.4,296.6 L607.6,359.6 Z" fill="url(#s1g)" opacity="0.25"/>
<path d="M609.0,421.5 L629.8,454.2 L607.8,422.3 Z" fill="url(#s1g)" opacity="0.18"/>
<path d="M620.1,372.6 L674.2,344.0 L620.9,374.0 Z" fill="url(#s1g)" opacity="0.44"/>
<path d="M591.2,354.1 L601.5,264.4 L592.6,354.3 Z" fill="url(#s1g)" opacity="0.30"/>
<path d="M556.9,411.0 L530.3,426.5 L556.1,409.8 Z" fill="url(#s1g)" opacity="0.46"/>
<path d="M624.6,385.8 L712.2,376.9 L624.9,387.8 Z" fill="url(#s1g)" opacity="0.42"/>
<path d="M624.8,394.6 L678.5,401.6 L624.7,396.0 Z" fill="url(#s1g)" opacity="0.44"/>
<path d="M617.6,413.2 L662.2,449.5 L616.5,414.6 Z" fill="url(#s1g)" opacity="0.50"/>
<path d="M604.4,357.8 L638.9,291.4 L605.3,358.3 Z" fill="url(#s1g)" opacity="0.49"/>
<path d="M617.9,369.3 L675.9,329.7 L618.7,370.4 Z" fill="url(#s1g)" opacity="0.38"/>
<path d="M612.3,418.9 L663.1,483.8 L610.3,420.6 Z" fill="url(#s1g)" opacity="0.38"/>
<path d="M579.5,355.0 L560.3,265.6 L580.6,354.8 Z" fill="url(#s1g)" opacity="0.58"/>
<path d="M561.9,364.8 L531.3,332.8 L562.5,364.2 Z" fill="url(#s1g)" opacity="0.26"/>
<path d="M554.9,374.5 L483.2,336.4 L555.5,373.3 Z" fill="url(#s1g)" opacity="0.57"/>
<path d="M564.6,419.6 L523.1,468.2 L563.8,419.0 Z" fill="url(#s1g)" opacity="0.59"/>
<path d="M613.0,418.3 L675.9,491.5 L611.7,419.4 Z" fill="url(#s1g)" opacity="0.40"/>
<path d="M553.2,378.4 L508.0,359.1 L554.1,376.2 Z" fill="url(#s1g)" opacity="0.60"/>
<path d="M602.8,357.1 L633.7,289.7 L603.7,357.5 Z" fill="url(#s1g)" opacity="0.52"/>
<path d="M579.7,427.1 L556.1,520.1 L578.5,426.8 Z" fill="url(#s1g)" opacity="0.41"/>
<path d="M605.2,358.2 L627.0,320.8 L606.7,359.1 Z" fill="url(#s1g)" opacity="0.18"/>
<path d="M624.5,397.1 L666.3,407.0 L624.0,399.6 Z" fill="url(#s1g)" opacity="0.57"/>
<path d="M567.0,360.5 L539.3,316.0 L568.7,359.4 Z" fill="url(#s1g)" opacity="0.48"/>
<path d="M561.5,416.9 L506.7,465.7 L560.0,415.2 Z" fill="url(#s1g)" opacity="0.16"/>
<path d="M600.0,426.0 L619.6,487.2 L599.1,426.3 Z" fill="url(#s1g)" opacity="0.32"/>
<path d="M554.1,376.1 L516.0,357.4 L554.8,374.6 Z" fill="url(#s1g)" opacity="0.27"/>
<path d="M553.9,376.5 L505.0,353.2 L554.7,374.8 Z" fill="url(#s1g)" opacity="0.17"/>
<path d="M569.3,359.1 L551.2,323.0 L571.5,357.9 Z" fill="url(#s1g)" opacity="0.42"/>
<path d="M551.8,398.9 L492.7,409.2 L551.5,397.0 Z" fill="url(#s1g)" opacity="0.46"/>
<path d="M589.0,354.0 L594.2,268.9 L590.7,354.1 Z" fill="url(#s1g)" opacity="0.60"/>
<path d="M606.8,359.2 L656.4,280.6 L608.1,359.9 Z" fill="url(#s1g)" opacity="0.35"/>
<path d="M553.8,376.9 L465.7,337.2 L554.5,375.3 Z" fill="url(#s1g)" opacity="0.39"/>
<path d="M554.6,406.9 L466.4,446.2 L554.0,405.7 Z" fill="url(#s1g)" opacity="0.17"/>
<path d="M581.3,354.6 L567.6,259.4 L583.4,354.3 Z" fill="url(#s1g)" opacity="0.42"/>
<path d="M587.5,354.0 L589.1,301.9 L589.4,354.0 Z" fill="url(#s1g)" opacity="0.18"/>
<path d="M614.8,416.5 L658.7,461.2 L613.7,417.7 Z" fill="url(#s1g)" opacity="0.33"/>
<path d="M623.3,402.1 L699.8,428.9 L622.8,403.7 Z" fill="url(#s1g)" opacity="0.26"/>
<path d="M575.7,425.9 L554.8,480.9 L574.6,425.5 Z" fill="url(#s1g)" opacity="0.18"/>
<path d="M618.9,370.6 L705.2,317.9 L619.9,372.3 Z" fill="url(#s1g)" opacity="0.54"/>
<path d="M555.7,409.0 L476.9,450.8 L555.2,408.0 Z" fill="url(#s1g)" opacity="0.49"/>
<path d="M554.0,376.3 L466.1,336.6 L554.4,375.5 Z" fill="url(#s1g)" opacity="0.51"/>
<path d="M615.2,416.1 L663.8,465.7 L613.5,417.8 Z" fill="url(#s1g)" opacity="0.15"/>
<path d="M590.1,427.9 L591.4,479.7 L588.7,428.0 Z" fill="url(#s1g)" opacity="0.18"/>
<path d="M616.8,367.8 L688.4,313.3 L617.7,368.9 Z" fill="url(#s1g)" opacity="0.31"/>
<path d="M556.0,372.4 L527.9,355.2 L556.4,371.7 Z" fill="url(#s1g)" opacity="0.55"/>
<path d="M576.0,426.0 L551.2,487.7 L573.7,425.1 Z" fill="url(#s1g)" opacity="0.59"/>
<path d="M551.7,398.0 L507.3,405.0 L551.4,396.7 Z" fill="url(#s1g)" opacity="0.57"/>
<path d="M616.8,367.8 L652.6,342.0 L618.2,369.6 Z" fill="url(#s1g)" opacity="0.31"/>
<path d="M551.8,398.5 L509.9,404.6 L551.4,396.2 Z" fill="url(#s1g)" opacity="0.60"/>
<path d="M599.5,426.2 L621.7,499.3 L598.5,426.5 Z" fill="url(#s1g)" opacity="0.55"/>
<path d="M623.5,401.4 L658.8,414.0 L622.9,403.4 Z" fill="url(#s1g)" opacity="0.29"/>
<path d="M617.4,368.5 L694.1,314.2 L618.6,370.2 Z" fill="url(#s1g)" opacity="0.21"/>
<path d="M574.9,356.4 L542.7,262.8 L576.4,355.9 Z" fill="url(#s1g)" opacity="0.19"/>
<path d="M595.2,427.3 L603.0,479.1 L593.2,427.6 Z" fill="url(#s1g)" opacity="0.24"/>
<path d="M604.4,424.2 L623.3,467.3 L602.6,425.0 Z" fill="url(#s1g)" opacity="0.51"/>
<path d="M563.1,418.4 L507.6,474.0 L561.4,416.7 Z" fill="url(#s1g)" opacity="0.42"/>
<path d="M594.1,427.5 L599.7,479.1 L591.6,427.8 Z" fill="url(#s1g)" opacity="0.45"/>
<path d="M582.2,427.5 L568.9,503.3 L581.3,427.4 Z" fill="url(#s1g)" opacity="0.59"/>
<path d="M553.9,405.3 L489.6,429.7 L553.3,403.7 Z" fill="url(#s1g)" opacity="0.17"/>
<path d="M557.7,369.8 L517.0,339.6 L558.4,368.8 Z" fill="url(#s1g)" opacity="0.51"/>
<path d="M620.1,409.3 L662.9,436.7 L619.0,411.2 Z" fill="url(#s1g)" opacity="0.26"/>
<path d="M581.8,427.5 L568.5,496.4 L580.7,427.3 Z" fill="url(#s1g)" opacity="0.55"/>
<path d="M624.8,387.4 L656.9,385.7 L624.9,388.9 Z" fill="url(#s1g)" opacity="0.49"/>
<path d="M560.8,416.1 L486.6,480.7 L559.7,414.9 Z" fill="url(#s1g)" opacity="0.23"/>
<path d="M553.0,378.9 L480.7,351.6 L553.5,377.6 Z" fill="url(#s1g)" opacity="0.45"/>
<path d="M594.8,354.6 L609.6,288.4 L596.4,355.0 Z" fill="url(#s1g)" opacity="0.53"/>
<path d="M572.0,357.6 L545.8,294.7 L574.3,356.6 Z" fill="url(#s1g)" opacity="0.23"/>
<path d="M593.9,354.5 L602.6,313.5 L595.8,354.8 Z" fill="url(#s1g)" opacity="0.26"/>
<path d="M554.0,405.5 L472.8,436.3 L553.2,403.5 Z" fill="url(#s1g)" opacity="0.51"/>
<path d="M591.8,427.8 L597.1,493.4 L590.7,427.9 Z" fill="url(#s1g)" opacity="0.41"/>
<path d="M551.0,392.2 L518.8,391.5 L551.0,390.3 Z" fill="url(#s1g)" opacity="0.47"/>
<path d="M554.6,375.2 L470.2,333.2 L555.0,374.2 Z" fill="url(#s1g)" opacity="0.22"/>
<path d="M624.8,394.4 L690.7,402.5 L624.7,395.9 Z" fill="url(#s1g)" opacity="0.35"/>
<path d="M585.4,427.9 L577.8,516.3 L584.6,427.8 Z" fill="url(#s1g)" opacity="0.56"/>
<path d="M554.0,376.5 L491.1,346.2 L554.9,374.5 Z" fill="url(#s1g)" opacity="0.26"/>
<path d="M610.8,420.2 L642.4,462.2 L610.1,420.7 Z" fill="url(#s1g)" opacity="0.29"/>
<path d="M560.8,365.9 L511.7,318.2 L561.6,365.0 Z" fill="url(#s1g)" opacity="0.41"/>
<path d="M619.7,410.1 L696.1,458.2 L619.1,411.0 Z" fill="url(#s1g)" opacity="0.26"/>
<path d="M608.8,421.6 L651.2,490.3 L606.9,422.8 Z" fill="url(#s1g)" opacity="0.50"/>
<path d="M622.6,404.2 L677.9,427.3 L622.0,405.5 Z" fill="url(#s1g)" opacity="0.25"/>
<path d="M624.2,383.4 L656.5,378.2 L624.5,385.0 Z" fill="url(#s1g)" opacity="0.49"/>
<path d="M624.8,387.0 L665.0,384.3 L624.9,388.6 Z" fill="url(#s1g)" opacity="0.49"/>
<path d="M624.2,398.9 L669.9,411.6 L623.6,401.2 Z" fill="url(#s1g)" opacity="0.21"/>
<path d="M559.5,414.6 L518.7,446.2 L558.6,413.5 Z" fill="url(#s1g)" opacity="0.18"/>
<path d="M624.4,397.9 L725.1,421.0 L623.9,400.0 Z" fill="url(#s1g)" opacity="0.48"/>
<path d="M593.5,427.6 L598.8,475.7 L591.8,427.8 Z" fill="url(#s1g)" opacity="0.26"/>
<path d="M552.2,400.5 L456.3,423.4 L551.9,399.2 Z" fill="url(#s1g)" opacity="0.30"/>
<path d="M624.7,386.2 L699.0,377.9 L624.8,387.1 Z" fill="url(#s1g)" opacity="0.33"/>
<path d="M565.7,361.5 L546.2,333.7 L566.8,360.7 Z" fill="url(#s1g)" opacity="0.46"/>
<path d="M611.5,362.4 L660.6,308.0 L613.3,364.0 Z" fill="url(#s1g)" opacity="0.36"/>
<path d="M559.5,414.6 L487.1,471.4 L558.6,413.5 Z" fill="url(#s1g)" opacity="0.50"/>
<path d="M596.5,427.0 L607.9,481.1 L595.5,427.2 Z" fill="url(#s1g)" opacity="0.40"/>
<path d="M607.5,422.4 L630.1,461.0 L606.6,423.0 Z" fill="url(#s1g)" opacity="0.36"/>
<path d="M575.9,426.0 L552.2,484.0 L573.5,425.0 Z" fill="url(#s1g)" opacity="0.46"/>
<path d="M611.5,362.4 L641.2,328.9 L612.6,363.4 Z" fill="url(#s1g)" opacity="0.18"/>
<path d="M574.1,356.7 L554.3,303.8 L575.3,356.3 Z" fill="url(#s1g)" opacity="0.16"/>
<path d="M604.0,424.4 L623.6,469.3 L602.7,425.0 Z" fill="url(#s1g)" opacity="0.57"/>
<path d="M579.3,355.0 L569.2,306.6 L580.7,354.7 Z" fill="url(#s1g)" opacity="0.22"/>
<path d="M621.7,375.7 L673.9,354.9 L622.5,377.7 Z" fill="url(#s1g)" opacity="0.48"/>
<path d="M618.5,370.0 L644.8,353.5 L619.2,371.2 Z" fill="url(#s1g)" opacity="0.32"/>
<path d="M620.4,408.9 L702.3,456.8 L619.7,410.0 Z" fill="url(#s1g)" opacity="0.50"/>
<path d="M551.2,387.3 L517.9,382.5 L551.4,385.8 Z" fill="url(#s1g)" opacity="0.26"/>
<path d="M624.0,399.5 L663.2,410.7 L623.5,401.3 Z" fill="url(#s1g)" opacity="0.16"/>
<path d="M574.7,425.5 L550.6,481.6 L573.1,424.9 Z" fill="url(#s1g)" opacity="0.21"/>
<path d="M577.0,355.7 L564.9,308.3 L579.0,355.1 Z" fill="url(#s1g)" opacity="0.45"/>
<path d="M610.8,420.2 L637.2,456.3 L609.8,420.9 Z" fill="url(#s1g)" opacity="0.47"/>
<path d="M558.0,412.7 L509.2,444.4 L556.7,410.8 Z" fill="url(#s1g)" opacity="0.25"/>
<path d="M578.9,426.9 L563.9,479.9 L577.8,426.6 Z" fill="url(#s1g)" opacity="0.17"/>
<path d="M624.7,395.8 L699.9,408.4 L624.4,397.6 Z" fill="url(#s1g)" opacity="0.51"/>
<path d="M624.4,384.4 L675.6,377.5 L624.7,386.3 Z" fill="url(#s1g)" opacity="0.56"/>
<path d="M596.8,426.9 L612.8,506.0 L594.8,427.4 Z" fill="url(#s1g)" opacity="0.58"/>
<path d="M612.3,363.1 L644.8,329.2 L613.7,364.4 Z" fill="url(#s1g)" opacity="0.19"/>
<path d="M554.9,407.6 L502.1,433.0 L554.6,406.9 Z" fill="url(#s1g)" opacity="0.32"/>
<path d="M571.1,423.9 L539.2,482.2 L570.0,423.3 Z" fill="url(#s1g)" opacity="0.22"/>
<path d="M558.0,412.7 L504.8,449.5 L557.4,411.9 Z" fill="url(#s1g)" opacity="0.45"/>
<path d="M591.1,427.9 L592.7,464.3 L589.7,428.0 Z" fill="url(#s1g)" opacity="0.34"/>
<path d="M610.4,420.4 L652.0,480.1 L608.8,421.6 Z" fill="url(#s1g)" opacity="0.40"/>
<path d="M575.9,356.0 L567.0,326.0 L577.3,355.6 Z" fill="url(#s1g)" opacity="0.31"/>
<path d="M622.3,404.9 L677.1,428.2 L622.0,405.6 Z" fill="url(#s1g)" opacity="0.37"/>
<path d="M555.9,372.6 L501.1,339.0 L556.6,371.4 Z" fill="url(#s1g)" opacity="0.26"/>
<path d="M624.8,395.3 L679.3,404.6 L624.4,397.6 Z" fill="url(#s1g)" opacity="0.40"/>
<path d="M585.8,427.9 L579.3,506.7 L584.7,427.9 Z" fill="url(#s1g)" opacity="0.36"/>
<path d="M559.8,367.0 L485.2,300.1 L560.8,366.0 Z" fill="url(#s1g)" opacity="0.41"/>
<path d="M622.3,377.0 L703.7,347.2 L622.9,378.8 Z" fill="url(#s1g)" opacity="0.43"/>
<path d="M557.0,411.2 L505.5,442.7 L556.3,410.1 Z" fill="url(#s1g)" opacity="0.52"/>
<path d="M614.1,364.8 L657.0,325.9 L615.7,366.5 Z" fill="url(#s1g)" opacity="0.17"/>
<path d="M612.8,418.4 L656.4,469.5 L611.8,419.3 Z" fill="url(#s1g)" opacity="0.31"/>
<path d="M624.5,385.1 L664.9,379.8 L624.7,386.2 Z" fill="url(#s1g)" opacity="0.25"/>
<path d="M571.9,357.7 L552.3,315.0 L572.6,357.3 Z" fill="url(#s1g)" opacity="0.39"/>
<path d="M559.4,414.5 L521.7,443.1 L558.4,413.2 Z" fill="url(#s1g)" opacity="0.44"/>
<path d="M552.4,380.8 L480.3,357.4 L553.0,379.1 Z" fill="url(#s1g)" opacity="0.52"/>
<path d="M624.2,383.1 L677.5,373.2 L624.4,384.5 Z" fill="url(#s1g)" opacity="0.55"/>
<path d="M574.6,425.5 L541.6,501.2 L572.7,424.7 Z" fill="url(#s1g)" opacity="0.46"/>
<path d="M623.9,382.2 L712.3,362.3 L624.2,383.2 Z" fill="url(#s1g)" opacity="0.43"/>
<path d="M551.1,393.9 L479.9,397.4 L551.0,392.5 Z" fill="url(#s1g)" opacity="0.28"/>
<path d="M587.2,354.0 L587.3,284.9 L588.3,354.0 Z" fill="url(#s1g)" opacity="0.26"/>
<path d="M572.0,424.3 L551.8,462.1 L570.5,423.6 Z" fill="url(#s1g)" opacity="0.21"/>
<path d="M622.3,404.9 L654.1,418.7 L621.9,405.7 Z" fill="url(#s1g)" opacity="0.47"/>
<path d="M616.8,414.2 L663.9,456.1 L615.4,415.9 Z" fill="url(#s1g)" opacity="0.37"/>
<path d="M608.3,421.9 L656.2,502.5 L606.3,423.2 Z" fill="url(#s1g)" opacity="0.17"/>
<path d="M588.2,428.0 L585.5,495.1 L586.0,427.9 Z" fill="url(#s1g)" opacity="0.33"/>
<path d="M579.1,355.1 L569.9,307.7 L581.2,354.6 Z" fill="url(#s1g)" opacity="0.30"/>
<path d="M570.4,423.5 L526.3,497.1 L568.4,422.4 Z" fill="url(#s1g)" opacity="0.52"/>
<path d="M553.9,376.7 L498.9,350.8 L554.7,374.9 Z" fill="url(#s1g)" opacity="0.43"/>
<path d="M605.6,358.5 L649.3,281.1 L606.5,358.9 Z" fill="url(#s1g)" opacity="0.32"/>
<path d="M569.6,358.9 L547.4,317.8 L570.5,358.4 Z" fill="url(#s1g)" opacity="0.16"/>
<path d="M555.6,373.2 L471.0,321.3 L556.9,371.0 Z" fill="url(#s1g)" opacity="0.21"/>
<path d="M573.0,357.2 L550.7,300.8 L574.7,356.5 Z" fill="url(#s1g)" opacity="0.33"/>
<path d="M621.6,375.6 L715.7,334.2 L622.0,376.3 Z" fill="url(#s1g)" opacity="0.47"/>
<path d="M615.7,415.6 L639.3,438.2 L614.8,416.5 Z" fill="url(#s1g)" opacity="0.48"/>
<path d="M624.9,388.8 L663.4,388.0 L625.0,390.2 Z" fill="url(#s1g)" opacity="0.16"/>
<path d="M552.1,381.9 L489.3,364.0 L552.5,380.5 Z" fill="url(#s1g)" opacity="0.29"/>
<path d="M598.9,355.7 L628.1,268.8 L600.1,356.0 Z" fill="url(#s1g)" opacity="0.33"/>
<path d="M559.8,367.0 L497.0,307.9 L561.6,365.1 Z" fill="url(#s1g)" opacity="0.33"/>
<path d="M574.2,356.7 L551.2,290.5 L576.3,355.9 Z" fill="url(#s1g)" opacity="0.22"/>
<path d="M605.9,423.4 L621.8,457.4 L603.7,424.5 Z" fill="url(#s1g)" opacity="0.26"/>
<path d="M551.2,394.4 L512.7,396.6 L551.1,393.1 Z" fill="url(#s1g)" opacity="0.16"/>
<path d="M553.8,377.0 L517.3,359.9 L554.5,375.2 Z" fill="url(#s1g)" opacity="0.27"/>
<path d="M593.9,427.5 L602.4,492.3 L592.5,427.7 Z" fill="url(#s1g)" opacity="0.27"/>
<path d="M623.5,401.6 L655.7,413.6 L622.7,403.8 Z" fill="url(#s1g)" opacity="0.29"/>
<path d="M621.0,407.8 L658.6,428.9 L620.2,409.2 Z" fill="url(#s1g)" opacity="0.60"/>
<path d="M599.7,426.1 L626.7,515.9 L598.2,426.6 Z" fill="url(#s1g)" opacity="0.34"/>
<path d="M600.6,356.2 L621.6,301.2 L601.4,356.5 Z" fill="url(#s1g)" opacity="0.40"/>
<path d="M567.0,360.5 L525.8,297.0 L568.1,359.8 Z" fill="url(#s1g)" opacity="0.57"/>
<path d="M611.8,362.7 L680.4,285.6 L613.0,363.7 Z" fill="url(#s1g)" opacity="0.53"/>
<path d="M581.8,354.5 L575.5,312.4 L582.6,354.4 Z" fill="url(#s1g)" opacity="0.23"/>
<path d="M615.6,415.6 L641.0,440.0 L614.7,416.6 Z" fill="url(#s1g)" opacity="0.49"/>
<path d="M574.7,425.5 L549.5,488.3 L574.0,425.3 Z" fill="url(#s1g)" opacity="0.24"/>
<path d="M623.6,380.8 L653.2,373.9 L624.0,382.5 Z" fill="url(#s1g)" opacity="0.51"/>
<path d="M597.0,355.1 L619.8,274.2 L598.4,355.5 Z" fill="url(#s1g)" opacity="0.51"/>
<path d="M604.2,357.7 L645.9,282.0 L606.5,358.9 Z" fill="url(#s1g)" opacity="0.20"/>
<path d="M622.9,378.7 L679.7,361.4 L623.5,380.6 Z" fill="url(#s1g)" opacity="0.26"/>
<path d="M618.7,370.3 L645.6,354.3 L619.7,371.9 Z" fill="url(#s1g)" opacity="0.25"/>
<path d="M560.4,415.6 L516.2,451.6 L559.1,414.1 Z" fill="url(#s1g)" opacity="0.51"/>
<path d="M564.1,419.3 L512.9,476.5 L563.1,418.3 Z" fill="url(#s1g)" opacity="0.28"/>
<path d="M618.4,369.9 L662.8,340.3 L618.9,370.6 Z" fill="url(#s1g)" opacity="0.30"/>
<path d="M585.0,354.1 L583.7,308.9 L587.1,354.0 Z" fill="url(#s1g)" opacity="0.40"/>
<path d="M571.9,357.7 L554.2,318.8 L572.7,357.3 Z" fill="url(#s1g)" opacity="0.21"/>
<path d="M566.5,421.1 L529.9,470.5 L565.9,420.7 Z" fill="url(#s1g)" opacity="0.38"/>
<path d="M558.1,412.8 L513.8,442.6 L557.1,411.4 Z" fill="url(#s1g)" opacity="0.58"/>
<path d="M599.0,426.3 L625.0,517.5 L597.8,426.7 Z" fill="url(#s1g)" opacity="0.49"/>
<path d="M617.2,413.7 L696.5,478.9 L616.3,414.9 Z" fill="url(#s1g)" opacity="0.58"/>
<path d="M596.0,427.1 L606.4,486.1 L594.0,427.5 Z" fill="url(#s1g)" opacity="0.23"/>
<path d="M583.8,427.8 L570.9,506.5 L581.4,427.4 Z" fill="url(#s1g)" opacity="0.30"/>
<path d="M604.2,424.3 L625.8,476.0 L601.8,425.3 Z" fill="url(#s1g)" opacity="0.22"/>
<path d="M562.8,363.9 L525.3,320.2 L564.2,362.7 Z" fill="url(#s1g)" opacity="0.25"/>
<path d="M559.7,367.2 L489.5,302.7 L561.2,365.5 Z" fill="url(#s1g)" opacity="0.43"/>
<path d="M551.0,390.3 L479.4,387.7 L551.0,389.4 Z" fill="url(#s1g)" opacity="0.53"/>
<path d="M573.4,357.0 L551.0,297.9 L575.3,356.3 Z" fill="url(#s1g)" opacity="0.34"/>
<path d="M560.9,416.2 L525.4,446.4 L559.7,414.8 Z" fill="url(#s1g)" opacity="0.41"/>
<path d="M551.1,388.4 L519.3,384.4 L551.3,386.5 Z" fill="url(#s1g)" opacity="0.35"/>
<path d="M556.5,371.6 L495.9,329.8 L557.9,369.5 Z" fill="url(#s1g)" opacity="0.22"/>
<path d="M551.9,399.3 L450.6,418.4 L551.5,397.2 Z" fill="url(#s1g)" opacity="0.29"/>
<path d="M584.2,354.2 L576.4,251.7 L585.7,354.1 Z" fill="url(#s1g)" opacity="0.54"/>
<path d="M614.5,416.9 L685.8,490.9 L613.3,418.0 Z" fill="url(#s1g)" opacity="0.26"/>
<path d="M606.8,359.1 L649.6,294.3 L608.9,360.5 Z" fill="url(#s1g)" opacity="0.52"/>
<path d="M597.7,355.3 L618.8,291.2 L600.1,356.0 Z" fill="url(#s1g)" opacity="0.18"/>
<path d="M612.9,363.6 L669.7,304.1 L613.8,364.5 Z" fill="url(#s1g)" opacity="0.51"/>
<path d="M552.9,402.6 L486.1,421.3 L552.2,400.4 Z" fill="url(#s1g)" opacity="0.24"/>
<path d="M581.6,427.4 L566.9,503.3 L580.7,427.3 Z" fill="url(#s1g)" opacity="0.40"/>
<path d="M596.0,354.9 L611.8,290.9 L597.1,355.1 Z" fill="url(#s1g)" opacity="0.51"/>
<path d="M610.0,361.2 L663.8,293.3 L611.4,362.3 Z" fill="url(#s1g)" opacity="0.56"/>
<path d="M598.0,355.4 L610.5,316.5 L599.4,355.8 Z" fill="url(#s1g)" opacity="0.20"/>
<path d="M624.3,398.3 L677.7,412.1 L623.7,400.6 Z" fill="url(#s1g)" opacity="0.53"/>
<path d="M615.9,415.3 L647.2,444.8 L614.9,416.4 Z" fill="url(#s1g)" opacity="0.53"/>
<path d="M560.3,366.5 L489.1,301.5 L560.9,365.9 Z" fill="url(#s1g)" opacity="0.59"/>
<path d="M599.1,426.3 L618.4,500.0 L596.8,426.9 Z" fill="url(#s1g)" opacity="0.48"/>
<path d="M600.8,425.7 L625.9,500.7 L599.4,426.2 Z" fill="url(#s1g)" opacity="0.16"/>
<path d="M569.1,422.8 L540.0,467.1 L567.5,421.8 Z" fill="url(#s1g)" opacity="0.28"/>
<path d="M558.2,369.1 L493.9,319.8 L558.8,368.3 Z" fill="url(#s1g)" opacity="0.21"/>
<path d="M574.7,356.5 L553.0,296.1 L575.7,356.1 Z" fill="url(#s1g)" opacity="0.20"/>
<path d="M622.2,377.0 L692.2,350.5 L622.7,378.3 Z" fill="url(#s1g)" opacity="0.24"/>
<path d="M624.9,388.8 L705.7,387.2 L625.0,390.9 Z" fill="url(#s1g)" opacity="0.31"/>
<path d="M574.8,425.6 L552.2,481.0 L573.9,425.2 Z" fill="url(#s1g)" opacity="0.43"/>
<path d="M555.4,408.5 L474.7,449.0 L554.7,407.2 Z" fill="url(#s1g)" opacity="0.36"/>
<path d="M551.0,390.2 L451.8,385.4 L551.1,388.8 Z" fill="url(#s1g)" opacity="0.47"/>
<path d="M592.1,427.8 L598.3,500.0 L590.8,427.9 Z" fill="url(#s1g)" opacity="0.54"/>
<path d="M580.6,427.2 L558.5,517.4 L578.6,426.8 Z" fill="url(#s1g)" opacity="0.35"/>
<path d="M621.4,375.1 L675.1,352.4 L622.2,377.0 Z" fill="url(#s1g)" opacity="0.42"/>
<path d="M553.2,403.5 L520.4,413.7 L552.7,402.1 Z" fill="url(#s1g)" opacity="0.28"/>
<path d="M553.8,405.0 L460.1,440.8 L553.3,403.8 Z" fill="url(#s1g)" opacity="0.46"/>
<path d="M569.9,358.7 L548.2,316.2 L571.3,358.0 Z" fill="url(#s1g)" opacity="0.21"/>
<path d="M616.8,367.8 L655.5,338.9 L617.7,369.0 Z" fill="url(#s1g)" opacity="0.30"/>
<path d="M603.0,357.2 L643.5,274.0 L604.7,358.0 Z" fill="url(#s1g)" opacity="0.40"/>
<path d="M618.3,412.3 L695.8,468.8 L617.7,413.0 Z" fill="url(#s1g)" opacity="0.31"/>
<path d="M562.6,417.9 L503.3,476.2 L561.2,416.5 Z" fill="url(#s1g)" opacity="0.30"/>
<path d="M617.4,368.5 L697.7,309.1 L617.9,369.2 Z" fill="url(#s1g)" opacity="0.43"/>
<path d="M551.9,398.9 L496.4,409.0 L551.5,397.3 Z" fill="url(#s1g)" opacity="0.29"/>
<path d="M569.2,359.1 L534.9,293.1 L571.5,357.9 Z" fill="url(#s1g)" opacity="0.59"/>
<path d="M624.9,388.1 L683.7,386.5 L625.0,390.4 Z" fill="url(#s1g)" opacity="0.44"/>
<path d="M576.4,355.9 L545.5,257.2 L577.2,355.6 Z" fill="url(#s1g)" opacity="0.36"/>
<path d="M558.2,413.0 L494.3,457.9 L557.6,412.0 Z" fill="url(#s1g)" opacity="0.60"/>
<path d="M597.8,426.7 L611.7,481.9 L596.8,426.9 Z" fill="url(#s1g)" opacity="0.33"/>
<path d="M585.6,354.1 L584.3,318.3 L586.6,354.0 Z" fill="url(#s1g)" opacity="0.44"/>
<path d="M561.1,365.6 L501.0,306.2 L561.9,364.7 Z" fill="url(#s1g)" opacity="0.52"/>
<path d="M583.1,354.3 L573.1,267.9 L584.0,354.2 Z" fill="url(#s1g)" opacity="0.36"/>
<path d="M624.9,393.4 L717.6,403.9 L624.7,395.9 Z" fill="url(#s1g)" opacity="0.55"/>
<path d="M624.7,395.7 L679.5,405.0 L624.4,397.5 Z" fill="url(#s1g)" opacity="0.39"/>
<path d="M616.7,414.3 L683.7,471.4 L615.9,415.3 Z" fill="url(#s1g)" opacity="0.38"/>
<path d="M614.6,416.7 L665.0,467.6 L613.9,417.4 Z" fill="url(#s1g)" opacity="0.19"/>
<path d="M551.0,389.3 L499.9,384.2 L551.2,387.1 Z" fill="url(#s1g)" opacity="0.26"/>
<path d="M556.6,410.5 L527.5,427.4 L556.0,409.6 Z" fill="url(#s1g)" opacity="0.35"/>
<path d="M553.0,378.9 L494.0,355.1 L553.9,376.7 Z" fill="url(#s1g)" opacity="0.20"/>
<path d="M608.7,360.4 L633.9,327.9 L610.8,361.8 Z" fill="url(#s1g)" opacity="0.39"/>
<path d="M557.9,412.5 L494.9,453.1 L556.6,410.5 Z" fill="url(#s1g)" opacity="0.58"/>
<path d="M556.6,410.6 L530.3,425.9 L556.1,409.7 Z" fill="url(#s1g)" opacity="0.52"/>
<path d="M583.9,354.2 L576.3,272.2 L584.9,354.1 Z" fill="url(#s1g)" opacity="0.39"/>
<path d="M624.5,397.0 L661.6,404.3 L624.3,398.2 Z" fill="url(#s1g)" opacity="0.58"/>
<path d="M564.6,362.3 L507.5,289.8 L565.3,361.8 Z" fill="url(#s1g)" opacity="0.34"/>
<path d="M620.8,408.1 L663.7,431.6 L620.4,408.9 Z" fill="url(#s1g)" opacity="0.56"/>
<path d="M571.3,424.0 L539.2,481.4 L569.6,423.1 Z" fill="url(#s1g)" opacity="0.55"/>
<path d="M622.6,378.0 L690.5,355.1 L623.2,379.6 Z" fill="url(#s1g)" opacity="0.56"/>
<path d="M559.5,414.6 L518.1,445.6 L558.2,412.9 Z" fill="url(#s1g)" opacity="0.27"/>
<path d="M563.6,418.9 L521.6,463.6 L562.4,417.8 Z" fill="url(#s1g)" opacity="0.31"/>
<path d="M554.7,407.0 L497.4,433.3 L554.3,406.3 Z" fill="url(#s1g)" opacity="0.53"/>
<path d="M622.6,404.2 L685.8,431.0 L621.9,405.8 Z" fill="url(#s1g)" opacity="0.33"/>
<path d="M595.0,427.3 L600.6,463.9 L593.6,427.6 Z" fill="url(#s1g)" opacity="0.29"/>
<path d="M551.3,395.8 L504.8,399.4 L551.1,393.7 Z" fill="url(#s1g)" opacity="0.37"/>
<path d="M625.0,391.8 L684.5,396.4 L624.8,394.3 Z" fill="url(#s1g)" opacity="0.15"/>
<path d="M556.8,371.1 L473.3,314.8 L557.6,369.9 Z" fill="url(#s1g)" opacity="0.42"/>
<path d="M563.6,418.8 L527.6,456.2 L562.2,417.5 Z" fill="url(#s1g)" opacity="0.42"/>
<path d="M574.1,425.3 L546.8,485.9 L572.5,424.6 Z" fill="url(#s1g)" opacity="0.49"/>
<path d="M623.2,402.5 L657.4,415.0 L622.8,403.7 Z" fill="url(#s1g)" opacity="0.27"/>
<path d="M597.3,355.2 L615.7,296.9 L599.6,355.9 Z" fill="url(#s1g)" opacity="0.33"/>
<path d="M580.2,427.2 L561.9,505.0 L579.3,427.0 Z" fill="url(#s1g)" opacity="0.59"/>
<path d="M605.6,358.4 L632.6,311.8 L606.7,359.1 Z" fill="url(#s1g)" opacity="0.52"/>
<path d="M596.4,355.0 L615.2,280.2 L597.2,355.2 Z" fill="url(#s1g)" opacity="0.49"/>
<path d="M623.6,401.1 L695.7,424.5 L623.1,402.8 Z" fill="url(#s1g)" opacity="0.57"/>
<path d="M563.3,363.5 L544.1,338.8 L565.1,361.9 Z" fill="url(#s1g)" opacity="0.49"/>
<path d="M555.1,374.1 L529.2,358.8 L556.1,372.3 Z" fill="url(#s1g)" opacity="0.34"/>
<path d="M571.1,358.1 L528.4,265.0 L573.3,357.1 Z" fill="url(#s1g)" opacity="0.18"/>
<path d="M594.2,354.5 L607.4,293.7 L596.3,354.9 Z" fill="url(#s1g)" opacity="0.32"/>
<path d="M553.1,403.4 L494.4,422.9 L552.8,402.5 Z" fill="url(#s1g)" opacity="0.29"/>
<path d="M584.0,354.2 L581.1,319.4 L584.9,354.1 Z" fill="url(#s1g)" opacity="0.53"/>
<path d="M569.0,359.2 L534.2,298.3 L569.8,358.8 Z" fill="url(#s1g)" opacity="0.20"/>
<path d="M575.2,425.7 L537.5,518.5 L573.5,425.1 Z" fill="url(#s1g)" opacity="0.57"/>
<path d="M597.8,426.7 L611.5,485.4 L596.1,427.1 Z" fill="url(#s1g)" opacity="0.53"/>
<path d="M615.0,416.3 L681.8,482.8 L613.9,417.5 Z" fill="url(#s1g)" opacity="0.16"/>
<path d="M554.8,407.2 L502.0,430.2 L553.9,405.4 Z" fill="url(#s1g)" opacity="0.57"/>
<path d="M551.1,393.2 L470.5,395.7 L551.0,391.8 Z" fill="url(#s1g)" opacity="0.50"/>
<path d="M617.5,413.3 L683.9,465.6 L616.9,414.1 Z" fill="url(#s1g)" opacity="0.41"/>
<path d="M599.5,426.2 L615.3,479.1 L598.5,426.5 Z" fill="url(#s1g)" opacity="0.31"/>
<path d="M556.5,371.5 L499.8,333.9 L557.3,370.3 Z" fill="url(#s1g)" opacity="0.41"/>
<path d="M607.5,359.6 L639.0,313.1 L609.0,360.6 Z" fill="url(#s1g)" opacity="0.37"/>
<path d="M624.6,385.5 L678.2,380.0 L624.8,387.5 Z" fill="url(#s1g)" opacity="0.26"/>
<path d="M586.3,428.0 L579.5,511.3 L584.5,427.8 Z" fill="url(#s1g)" opacity="0.27"/>
<path d="M622.3,404.9 L705.4,441.1 L621.7,406.2 Z" fill="url(#s1g)" opacity="0.47"/>
<path d="M554.6,407.0 L485.6,437.1 L553.9,405.4 Z" fill="url(#s1g)" opacity="0.59"/>
<path d="M618.7,370.4 L672.6,337.0 L619.6,371.8 Z" fill="url(#s1g)" opacity="0.25"/>
<path d="M588.1,354.0 L589.5,316.8 L589.4,354.0 Z" fill="url(#s1g)" opacity="0.53"/>
<path d="M624.3,398.2 L703.4,416.9 L623.9,400.0 Z" fill="url(#s1g)" opacity="0.40"/>
<path d="M570.7,423.7 L549.2,458.5 L568.5,422.4 Z" fill="url(#s1g)" opacity="0.49"/>
<path d="M599.7,355.9 L613.3,321.7 L601.7,356.6 Z" fill="url(#s1g)" opacity="0.25"/>
<path d="M600.5,425.8 L621.3,491.8 L598.7,426.4 Z" fill="url(#s1g)" opacity="0.20"/>
<path d="M590.3,354.1 L598.2,281.8 L592.7,354.3 Z" fill="url(#s1g)" opacity="0.57"/>
<path d="M573.1,357.1 L553.2,304.2 L575.4,356.2 Z" fill="url(#s1g)" opacity="0.47"/>
<path d="M579.6,427.0 L555.0,516.8 L577.6,426.5 Z" fill="url(#s1g)" opacity="0.27"/>
<path d="M589.1,428.0 L588.3,459.1 L587.3,428.0 Z" fill="url(#s1g)" opacity="0.26"/>
<path d="M578.6,426.8 L565.2,473.2 L577.6,426.5 Z" fill="url(#s1g)" opacity="0.37"/>
<path d="M583.4,427.7 L575.6,477.8 L582.1,427.5 Z" fill="url(#s1g)" opacity="0.38"/>
<path d="M613.1,363.8 L643.1,335.1 L614.8,365.5 Z" fill="url(#s1g)" opacity="0.53"/>
<path d="M558.7,368.3 L505.4,323.2 L560.1,366.7 Z" fill="url(#s1g)" opacity="0.39"/>
<path d="M567.3,360.4 L515.8,277.4 L569.1,359.2 Z" fill="url(#s1g)" opacity="0.27"/>
<path d="M623.1,402.7 L716.1,436.5 L622.6,404.0 Z" fill="url(#s1g)" opacity="0.50"/>
<path d="M592.6,427.7 L598.4,490.6 L591.1,427.9 Z" fill="url(#s1g)" opacity="0.48"/>
<path d="M622.4,377.3 L685.6,354.9 L623.0,379.0 Z" fill="url(#s1g)" opacity="0.31"/>
<path d="M592.6,427.7 L603.3,527.0 L591.7,427.8 Z" fill="url(#s1g)" opacity="0.57"/>
<path d="M566.6,360.8 L548.4,331.0 L568.6,359.5 Z" fill="url(#s1g)" opacity="0.20"/>
<path d="M553.6,377.4 L518.8,360.8 L554.6,375.0 Z" fill="url(#s1g)" opacity="0.29"/>
<path d="M613.0,363.7 L637.4,339.8 L614.4,365.1 Z" fill="url(#s1g)" opacity="0.18"/>
<path d="M624.6,396.6 L695.0,411.2 L624.1,399.1 Z" fill="url(#s1g)" opacity="0.46"/>
<path d="M610.1,361.3 L664.6,292.6 L611.4,362.3 Z" fill="url(#s1g)" opacity="0.18"/>
<path d="M551.4,385.6 L508.9,377.5 L551.7,383.9 Z" fill="url(#s1g)" opacity="0.31"/>
<path d="M551.0,392.3 L506.8,391.5 L551.0,390.2 Z" fill="url(#s1g)" opacity="0.34"/>
<path d="M551.2,395.1 L515.9,397.4 L551.1,393.5 Z" fill="url(#s1g)" opacity="0.40"/>
<path d="M624.4,384.2 L694.5,372.4 L624.5,385.1 Z" fill="url(#s1g)" opacity="0.29"/>
<path d="M570.1,423.4 L527.2,492.8 L568.0,422.1 Z" fill="url(#s1g)" opacity="0.59"/>
<path d="M622.8,378.5 L716.4,349.2 L623.5,380.7 Z" fill="url(#s1g)" opacity="0.57"/>
<path d="M624.8,394.8 L690.0,404.0 L624.6,396.6 Z" fill="url(#s1g)" opacity="0.46"/>
<path d="M559.1,367.9 L503.0,318.2 L560.7,366.0 Z" fill="url(#s1g)" opacity="0.19"/>
<path d="M551.2,386.9 L451.4,374.4 L551.3,386.1 Z" fill="url(#s1g)" opacity="0.20"/>
<path d="M612.9,363.6 L681.5,290.3 L613.5,364.1 Z" fill="url(#s1g)" opacity="0.16"/>
<path d="M605.0,358.1 L644.5,287.9 L606.5,359.0 Z" fill="url(#s1g)" opacity="0.41"/>
<path d="M589.3,354.0 L593.9,264.8 L590.1,354.1 Z" fill="url(#s1g)" opacity="0.18"/>
<path d="M597.0,355.1 L626.0,257.5 L599.2,355.7 Z" fill="url(#s1g)" opacity="0.33"/>
<path d="M569.4,423.0 L540.8,470.3 L568.7,422.6 Z" fill="url(#s1g)" opacity="0.50"/>
<path d="M586.0,427.9 L579.5,500.6 L584.3,427.8 Z" fill="url(#s1g)" opacity="0.30"/>
<path d="M570.7,358.3 L542.4,301.7 L571.7,357.8 Z" fill="url(#s1g)" opacity="0.55"/>
<path d="M605.2,423.8 L623.0,460.4 L604.1,424.3 Z" fill="url(#s1g)" opacity="0.37"/>
<path d="M595.2,354.7 L607.2,301.8 L596.3,355.0 Z" fill="url(#s1g)" opacity="0.44"/>
<path d="M586.2,428.0 L581.2,496.1 L585.0,427.9 Z" fill="url(#s1g)" opacity="0.54"/>
<path d="M603.4,424.6 L621.5,467.8 L602.2,425.2 Z" fill="url(#s1g)" opacity="0.30"/>
<path d="M581.5,354.6 L570.8,275.8 L583.6,354.3 Z" fill="url(#s1g)" opacity="0.39"/>
<path d="M620.9,408.0 L696.4,449.3 L620.3,409.1 Z" fill="url(#s1g)" opacity="0.25"/>
<path d="M556.6,410.6 L467.9,462.7 L555.9,409.3 Z" fill="url(#s1g)" opacity="0.31"/>
<path d="M619.0,370.8 L706.6,316.8 L619.7,372.0 Z" fill="url(#s1g)" opacity="0.21"/>
<path d="M596.5,355.0 L618.7,270.3 L597.8,355.3 Z" fill="url(#s1g)" opacity="0.51"/>
<path d="M561.8,417.1 L524.2,451.3 L560.5,415.7 Z" fill="url(#s1g)" opacity="0.48"/>
<path d="M551.5,397.0 L462.3,410.2 L551.4,396.2 Z" fill="url(#s1g)" opacity="0.37"/>
<path d="M561.8,417.1 L535.8,439.8 L560.1,415.4 Z" fill="url(#s1g)" opacity="0.21"/>
<path d="M599.4,426.2 L624.2,517.5 L597.0,426.9 Z" fill="url(#s1g)" opacity="0.57"/>
<path d="M568.2,422.3 L514.0,504.5 L567.4,421.7 Z" fill="url(#s1g)" opacity="0.47"/>
<path d="M622.7,378.1 L664.2,363.9 L623.0,379.1 Z" fill="url(#s1g)" opacity="0.46"/>
<path d="M614.5,365.2 L677.0,310.0 L616.2,367.0 Z" fill="url(#s1g)" opacity="0.35"/>
<path d="M562.7,418.0 L535.5,445.3 L561.8,417.2 Z" fill="url(#s1g)" opacity="0.57"/>
<path d="M621.6,406.5 L660.3,425.9 L621.0,407.7 Z" fill="url(#s1g)" opacity="0.17"/>
<path d="M575.5,425.8 L559.9,466.1 L574.6,425.5 Z" fill="url(#s1g)" opacity="0.39"/>
<path d="M551.9,382.8 L482.9,363.8 L552.5,380.7 Z" fill="url(#s1g)" opacity="0.39"/>
<path d="M622.8,378.4 L656.7,367.3 L623.2,379.5 Z" fill="url(#s1g)" opacity="0.18"/>
<path d="M575.7,425.9 L543.2,505.4 L573.4,425.0 Z" fill="url(#s1g)" opacity="0.38"/>
<path d="M608.5,421.8 L636.6,468.0 L607.0,422.8 Z" fill="url(#s1g)" opacity="0.28"/>
<path d="M597.1,355.1 L624.8,257.4 L598.6,355.5 Z" fill="url(#s1g)" opacity="0.42"/>
<path d="M608.5,360.2 L645.3,307.8 L609.4,360.8 Z" fill="url(#s1g)" opacity="0.57"/>
<path d="M624.5,384.8 L655.7,381.5 L624.8,386.9 Z" fill="url(#s1g)" opacity="0.33"/>
<path d="M623.2,402.3 L662.5,416.2 L622.9,403.4 Z" fill="url(#s1g)" opacity="0.48"/>
<path d="M597.4,426.8 L604.3,457.1 L596.3,427.1 Z" fill="url(#s1g)" opacity="0.51"/>
<path d="M551.0,392.0 L473.1,391.6 L551.0,390.4 Z" fill="url(#s1g)" opacity="0.23"/>
<path d="M624.9,394.1 L676.7,399.5 L624.8,394.9 Z" fill="url(#s1g)" opacity="0.27"/>
<path d="M560.3,366.5 L519.0,327.2 L561.4,365.3 Z" fill="url(#s1g)" opacity="0.43"/>
<path d="M573.9,425.2 L549.9,475.8 L571.8,424.3 Z" fill="url(#s1g)" opacity="0.41"/>
<path d="M556.3,410.1 L495.6,444.1 L555.5,408.7 Z" fill="url(#s1g)" opacity="0.30"/>
<path d="M619.0,370.9 L659.8,347.7 L620.3,373.0 Z" fill="url(#s1g)" opacity="0.53"/>
<path d="M614.7,365.4 L646.0,337.9 L615.8,366.6 Z" fill="url(#s1g)" opacity="0.59"/>
<path d="M580.1,427.1 L568.9,467.9 L578.1,426.7 Z" fill="url(#s1g)" opacity="0.26"/>
<path d="M555.4,373.5 L520.3,351.7 L556.6,371.4 Z" fill="url(#s1g)" opacity="0.28"/>
<path d="M618.7,411.6 L684.3,458.2 L617.9,412.7 Z" fill="url(#s1g)" opacity="0.40"/>
<path d="M551.0,392.5 L453.2,393.4 L551.0,390.8 Z" fill="url(#s1g)" opacity="0.32"/>
<path d="M625.0,390.8 L691.3,392.1 L625.0,392.0 Z" fill="url(#s1g)" opacity="0.41"/>
<path d="M562.7,364.0 L519.9,316.7 L563.3,363.4 Z" fill="url(#s1g)" opacity="0.37"/>
<path d="M551.4,396.5 L474.7,404.0 L551.1,394.0 Z" fill="url(#s1g)" opacity="0.28"/>
<path d="M553.8,405.1 L519.8,416.7 L553.0,403.0 Z" fill="url(#s1g)" opacity="0.26"/>
<path d="M605.1,358.2 L647.9,280.5 L606.2,358.8 Z" fill="url(#s1g)" opacity="0.56"/>
<path d="M551.0,391.0 L489.9,388.6 L551.0,389.2 Z" fill="url(#s1g)" opacity="0.58"/>
<path d="M551.1,394.0 L485.9,397.5 L551.0,392.7 Z" fill="url(#s1g)" opacity="0.53"/>
<path d="M551.0,390.8 L496.1,389.3 L551.0,389.7 Z" fill="url(#s1g)" opacity="0.25"/>
<path d="M605.6,358.4 L651.6,282.2 L607.8,359.7 Z" fill="url(#s1g)" opacity="0.56"/>
<path d="M572.4,357.5 L538.2,275.7 L574.3,356.6 Z" fill="url(#s1g)" opacity="0.51"/>
<path d="M598.6,355.6 L613.2,315.5 L600.8,356.3 Z" fill="url(#s1g)" opacity="0.29"/>
<path d="M589.8,428.0 L593.0,525.6 L589.0,428.0 Z" fill="url(#s1g)" opacity="0.38"/>
<path d="M568.3,422.3 L518.8,495.4 L566.8,421.3 Z" fill="url(#s1g)" opacity="0.56"/>
<path d="M621.5,375.4 L692.2,344.0 L621.9,376.2 Z" fill="url(#s1g)" opacity="0.45"/>
<path d="M617.3,413.6 L695.7,479.4 L615.8,415.4 Z" fill="url(#s1g)" opacity="0.29"/>
<path d="M603.5,424.6 L634.2,499.5 L601.5,425.4 Z" fill="url(#s1g)" opacity="0.59"/>
<path d="M560.8,365.9 L533.6,338.1 L562.2,364.5 Z" fill="url(#s1g)" opacity="0.18"/>
<path d="M612.1,362.9 L671.2,299.8 L613.7,364.4 Z" fill="url(#s1g)" opacity="0.54"/>
<path d="M554.0,376.3 L464.3,333.6 L554.9,374.6 Z" fill="url(#s1g)" opacity="0.37"/>
<path d="M560.6,415.9 L518.6,452.6 L560.1,415.3 Z" fill="url(#s1g)" opacity="0.22"/>
<path d="M597.5,355.2 L611.6,310.9 L599.4,355.8 Z" fill="url(#s1g)" opacity="0.50"/>
<path d="M574.7,356.5 L552.2,292.5 L576.0,356.0 Z" fill="url(#s1g)" opacity="0.27"/>
<path d="M603.1,424.8 L631.9,496.8 L601.3,425.5 Z" fill="url(#s1g)" opacity="0.57"/>
<path d="M571.1,423.9 L522.4,509.2 L569.0,422.8 Z" fill="url(#s1g)" opacity="0.28"/>
<path d="M622.9,378.8 L695.4,357.6 L623.7,381.2 Z" fill="url(#s1g)" opacity="0.50"/>
<path d="M570.3,423.5 L544.4,466.6 L568.8,422.6 Z" fill="url(#s1g)" opacity="0.37"/>
<path d="M624.3,398.3 L715.2,419.8 L623.9,400.0 Z" fill="url(#s1g)" opacity="0.36"/>
<path d="M586.2,354.0 L585.1,306.0 L587.3,354.0 Z" fill="url(#s1g)" opacity="0.41"/>
<path d="M590.4,427.9 L592.9,481.7 L589.6,428.0 Z" fill="url(#s1g)" opacity="0.17"/>
<path d="M566.3,420.9 L523.1,474.3 L564.3,419.4 Z" fill="url(#s1g)" opacity="0.44"/>
<path d="M556.5,410.5 L505.0,440.5 L555.9,409.4 Z" fill="url(#s1g)" opacity="0.36"/>
<path d="M623.6,380.8 L661.1,371.8 L624.0,382.3 Z" fill="url(#s1g)" opacity="0.46"/>
<path d="M589.9,354.1 L596.4,283.7 L591.8,354.2 Z" fill="url(#s1g)" opacity="0.57"/>
<path d="M617.8,369.0 L657.7,342.0 L618.8,370.5 Z" fill="url(#s1g)" opacity="0.60"/>
<path d="M551.4,385.7 L508.6,377.0 L551.8,383.5 Z" fill="url(#s1g)" opacity="0.18"/>
<path d="M610.2,420.6 L651.0,478.0 L609.2,421.3 Z" fill="url(#s1g)" opacity="0.47"/>
<path d="M581.6,354.6 L574.9,301.7 L583.7,354.3 Z" fill="url(#s1g)" opacity="0.44"/>
<path d="M577.2,355.6 L560.6,294.4 L578.6,355.2 Z" fill="url(#s1g)" opacity="0.20"/>
<path d="M551.7,398.0 L452.5,412.6 L551.3,395.6 Z" fill="url(#s1g)" opacity="0.18"/>
<path d="M621.8,406.1 L666.1,428.4 L620.9,407.9 Z" fill="url(#s1g)" opacity="0.35"/>
<path d="M614.3,417.0 L656.1,461.6 L613.0,418.2 Z" fill="url(#s1g)" opacity="0.48"/>
<path d="M558.2,413.0 L494.0,456.6 L557.1,411.3 Z" fill="url(#s1g)" opacity="0.43"/>
<path d="M623.6,401.2 L702.1,425.3 L623.3,402.1 Z" fill="url(#s1g)" opacity="0.17"/>
<path d="M551.6,397.5 L521.1,402.2 L551.4,396.7 Z" fill="url(#s1g)" opacity="0.33"/>
<path d="M552.0,399.5 L515.0,405.6 L551.5,397.0 Z" fill="url(#s1g)" opacity="0.53"/>
<path d="M551.2,394.8 L478.3,400.2 L551.1,393.4 Z" fill="url(#s1g)" opacity="0.59"/>
<path d="M615.4,415.9 L653.0,452.0 L614.6,416.7 Z" fill="url(#s1g)" opacity="0.54"/>
<path d="M551.0,389.7 L491.2,385.6 L551.1,388.2 Z" fill="url(#s1g)" opacity="0.55"/>
<path d="M587.3,428.0 L582.2,516.0 L585.3,427.9 Z" fill="url(#s1g)" opacity="0.35"/>
<path d="M564.0,419.2 L522.2,464.9 L562.8,418.1 Z" fill="url(#s1g)" opacity="0.29"/>
<path d="M561.2,365.5 L518.9,322.9 L562.1,364.6 Z" fill="url(#s1g)" opacity="0.50"/>
<path d="M552.8,402.4 L490.4,419.3 L552.1,400.2 Z" fill="url(#s1g)" opacity="0.35"/>
<path d="M562.6,417.9 L493.3,484.5 L560.8,416.1 Z" fill="url(#s1g)" opacity="0.50"/>
<path d="M558.5,413.3 L493.3,458.5 L557.3,411.6 Z" fill="url(#s1g)" opacity="0.28"/>
<path d="M581.0,354.7 L565.7,255.9 L582.9,354.3 Z" fill="url(#s1g)" opacity="0.45"/>
<path d="M554.3,406.2 L482.5,436.6 L553.8,405.1 Z" fill="url(#s1g)" opacity="0.50"/>
<path d="M552.0,382.7 L453.1,357.1 L552.3,381.3 Z" fill="url(#s1g)" opacity="0.47"/>
<path d="M624.9,393.8 L684.9,401.2 L624.7,396.0 Z" fill="url(#s1g)" opacity="0.27"/>
<path d="M559.5,367.4 L525.3,336.7 L560.5,366.2 Z" fill="url(#s1g)" opacity="0.60"/>
<path d="M600.6,425.8 L632.1,517.7 L599.8,426.1 Z" fill="url(#s1g)" opacity="0.41"/>
<path d="M603.4,357.3 L643.7,275.1 L604.7,358.0 Z" fill="url(#s1g)" opacity="0.42"/>
<path d="M578.3,355.3 L559.0,271.5 L580.3,354.8 Z" fill="url(#s1g)" opacity="0.41"/>
</g>
<radialGradient id="f1r" gradientUnits="objectBoundingBox" cx="0.5" cy="0.5" r="0.5"><stop offset="0" stop-color="#e0662a"/><stop offset="0.4" stop-color="#cc4422"/><stop offset="0.68" stop-color="#9a2e18" stop-opacity="0.9"/><stop offset="0.86" stop-color="#2a120c" stop-opacity="0.75"/><stop offset="1" stop-color="#141010" stop-opacity="0"/></radialGradient>
<radialGradient id="f1b" gradientUnits="objectBoundingBox" cx="0.5" cy="0.5" r="0.5"><stop offset="0" stop-color="#fff6e0" stop-opacity="1"/><stop offset="0.5" stop-color="#ffe0a0" stop-opacity="0.8"/><stop offset="1" stop-color="#ffd080" stop-opacity="0"/></radialGradient>
<radialGradient id="f1y" gradientUnits="objectBoundingBox" cx="0.5" cy="0.5" r="0.5"><stop offset="0" stop-color="#f6b830" stop-opacity="1"/><stop offset="0.6" stop-color="#f0a030" stop-opacity="0.8"/><stop offset="1" stop-color="#e07028" stop-opacity="0"/></radialGradient>
<radialGradient id="f1d" gradientUnits="objectBoundingBox" cx="0.5" cy="0.5" r="0.5"><stop offset="0" stop-color="#c82a1a" stop-opacity="0.9"/><stop offset="0.6" stop-color="#b82818" stop-opacity="0.6"/><stop offset="1" stop-color="#802010" stop-opacity="0"/></radialGradient>
<radialGradient id="f1k" gradientUnits="objectBoundingBox" cx="0.5" cy="0.5" r="0.5"><stop offset="0" stop-color="#6a2414" stop-opacity="0.85"/><stop offset="0.6" stop-color="#4a1a10" stop-opacity="0.5"/><stop offset="1" stop-color="#2a1008" stop-opacity="0"/></radialGradient>
<filter id="f1f" x="-50%" y="-50%" width="200%" height="200%"><feTurbulence type="fractalNoise" baseFrequency="0.09" numOctaves="2" seed="5" result="n"/><feDisplacementMap in="SourceGraphic" in2="n" scale="11" xChannelSelector="R" yChannelSelector="G" result="d"/><feGaussianBlur in="d" stdDeviation="0.9"/></filter>
<g filter="url(#f1f)"><ellipse cx="606" cy="398" rx="47" ry="41" fill="url(#f1r)"/>
<circle cx="574" cy="402" r="14" fill="url(#f1k)"/>
<circle cx="612" cy="372" r="19" fill="url(#f1d)"/>
<circle cx="588" cy="384" r="13" fill="url(#f1d)"/>
<circle cx="610" cy="398" r="26" fill="url(#f1y)"/>
<circle cx="636" cy="400" r="14" fill="url(#f1y)"/>
<circle cx="594" cy="410" r="14" fill="url(#f1y)"/>
<circle cx="612" cy="411" r="12" fill="url(#f1b)"/>
<circle cx="628" cy="405" r="10" fill="url(#f1b)"/>
<circle cx="600" cy="417" r="9" fill="url(#f1b)"/>
</g>
<radialGradient id="s2g" gradientUnits="userSpaceOnUse" cx="864" cy="724" r="202.39999999999998"><stop offset="0" stop-color="#111" stop-opacity="1"/><stop offset="0.348" stop-color="#151515" stop-opacity="0.85"/><stop offset="0.522" stop-color="#2a2a2a" stop-opacity="0.35"/><stop offset="1" stop-color="#555" stop-opacity="0"/></radialGradient>
<radialGradient id="s2c" gradientUnits="userSpaceOnUse" cx="864" cy="724" r="101.19999999999999"><stop offset="0" stop-color="#111" stop-opacity="0.92"/><stop offset="0.45" stop-color="#141414" stop-opacity="0.92"/><stop offset="0.72" stop-color="#1c1c1c" stop-opacity="0.51"/><stop offset="1" stop-color="#333" stop-opacity="0"/></radialGradient>
<radialGradient id="s2l" gradientUnits="objectBoundingBox" cx="0.5" cy="0.5" r="0.5"><stop offset="0" stop-color="#111" stop-opacity="0.7"/><stop offset="0.4" stop-color="#151515" stop-opacity="0.45"/><stop offset="1" stop-color="#222" stop-opacity="0"/></radialGradient>
<filter id="s2f" x="-50%" y="-50%" width="200%" height="200%"><feTurbulence type="fractalNoise" baseFrequency="0.025" numOctaves="2" seed="23" result="n"/><feDisplacementMap in="SourceGraphic" in2="n" scale="0" xChannelSelector="R" yChannelSelector="G" result="d"/><feGaussianBlur in="d" stdDeviation="2.5"/></filter>
<g filter="url(#s2f)">
<g transform="translate(864,724) rotate(-52) scale(1.28,0.85) translate(-864,-724)"><circle cx="864" cy="724" r="101.19999999999999" fill="url(#s2c)"/></g>
<circle cx="910" cy="655" r="50" fill="url(#s2l)"/>
<circle cx="826" cy="800" r="50" fill="url(#s2l)"/>
<circle cx="928" cy="732" r="36" fill="url(#s2l)"/>
<circle cx="852" cy="828" r="40" fill="url(#s2l)"/>
<circle cx="898" cy="800" r="32" fill="url(#s2l)"/>
<path d="M902.5,702.7 L1038.6,634.8 L903.8,705.3 Z" fill="url(#s2g)" opacity="0.15"/>
<path d="M826.6,700.8 L754.0,652.2 L827.7,699.1 Z" fill="url(#s2g)" opacity="0.17"/>
<path d="M880.3,764.9 L911.8,849.2 L879.0,765.3 Z" fill="url(#s2g)" opacity="0.29"/>
<path d="M907.6,729.6 L952.7,737.9 L907.3,732.0 Z" fill="url(#s2g)" opacity="0.28"/>
<path d="M820.1,721.3 L694.9,710.5 L820.2,719.7 Z" fill="url(#s2g)" opacity="0.14"/>
<path d="M871.9,680.7 L895.3,575.5 L874.2,681.2 Z" fill="url(#s2g)" opacity="0.36"/>
<path d="M907.0,714.7 L985.8,701.3 L907.5,717.2 Z" fill="url(#s2g)" opacity="0.26"/>
<path d="M824.1,705.5 L719.6,653.8 L824.8,704.1 Z" fill="url(#s2g)" opacity="0.15"/>
<path d="M820.8,732.2 L698.6,751.2 L820.4,730.1 Z" fill="url(#s2g)" opacity="0.29"/>
<path d="M836.0,690.1 L800.4,644.7 L837.0,689.3 Z" fill="url(#s2g)" opacity="0.24"/>
<path d="M881.2,683.5 L905.5,629.4 L882.2,683.9 Z" fill="url(#s2g)" opacity="0.16"/>
<path d="M906.9,733.6 L973.8,751.4 L906.4,735.7 Z" fill="url(#s2g)" opacity="0.43"/>
<path d="M843.3,762.8 L803.4,833.0 L841.9,762.1 Z" fill="url(#s2g)" opacity="0.24"/>
<path d="M870.9,680.5 L889.3,579.4 L872.3,680.8 Z" fill="url(#s2g)" opacity="0.16"/>
<path d="M872.0,680.7 L899.1,561.4 L874.6,681.3 Z" fill="url(#s2g)" opacity="0.21"/>
<path d="M821.5,712.6 L679.4,669.8 L822.1,710.6 Z" fill="url(#s2g)" opacity="0.48"/>
<path d="M886.3,761.9 L963.0,897.0 L885.4,762.4 Z" fill="url(#s2g)" opacity="0.28"/>
<path d="M907.7,729.3 L1041.0,750.2 L907.3,731.6 Z" fill="url(#s2g)" opacity="0.49"/>
<path d="M877.9,682.3 L930.4,539.5 L879.9,683.0 Z" fill="url(#s2g)" opacity="0.50"/>
<path d="M862.2,680.0 L863.2,602.2 L865.2,680.0 Z" fill="url(#s2g)" opacity="0.26"/>
<path d="M880.2,764.9 L894.9,807.0 L878.4,765.6 Z" fill="url(#s2g)" opacity="0.19"/>
<path d="M903.9,705.5 L1043.4,644.4 L904.5,706.8 Z" fill="url(#s2g)" opacity="0.16"/>
<path d="M820.6,717.1 L765.5,705.9 L820.9,715.0 Z" fill="url(#s2g)" opacity="0.43"/>
<path d="M864.6,768.0 L861.5,855.1 L861.7,767.9 Z" fill="url(#s2g)" opacity="0.29"/>
<path d="M840.9,761.5 L759.9,881.9 L838.7,760.0 Z" fill="url(#s2g)" opacity="0.46"/>
<path d="M846.1,683.8 L814.4,603.8 L848.3,682.9 Z" fill="url(#s2g)" opacity="0.44"/>
<path d="M835.3,690.7 L794.5,640.6 L836.4,689.7 Z" fill="url(#s2g)" opacity="0.28"/>
<path d="M868.9,680.3 L884.1,577.5 L871.0,680.6 Z" fill="url(#s2g)" opacity="0.43"/>
<path d="M898.7,751.1 L985.9,822.9 L897.7,752.3 Z" fill="url(#s2g)" opacity="0.33"/>
<path d="M885.2,685.4 L920.1,629.6 L887.7,687.0 Z" fill="url(#s2g)" opacity="0.15"/>
<path d="M823.0,707.9 L729.0,668.6 L823.6,706.6 Z" fill="url(#s2g)" opacity="0.33"/>
<path d="M821.0,733.3 L731.7,748.6 L820.5,730.8 Z" fill="url(#s2g)" opacity="0.12"/>
<path d="M832.9,755.1 L737.9,846.7 L832.1,754.3 Z" fill="url(#s2g)" opacity="0.45"/>
<path d="M877.3,766.0 L910.9,880.2 L876.0,766.3 Z" fill="url(#s2g)" opacity="0.29"/>
<path d="M825.7,745.6 L785.1,765.8 L824.6,743.5 Z" fill="url(#s2g)" opacity="0.30"/>
<path d="M846.6,683.6 L809.6,588.9 L848.5,682.8 Z" fill="url(#s2g)" opacity="0.32"/>
<path d="M851.5,766.2 L807.8,905.4 L850.5,765.9 Z" fill="url(#s2g)" opacity="0.45"/>
<path d="M891.8,689.9 L955.9,617.7 L893.7,691.6 Z" fill="url(#s2g)" opacity="0.38"/>
<path d="M828.8,697.6 L773.1,653.4 L829.7,696.4 Z" fill="url(#s2g)" opacity="0.25"/>
<path d="M850.6,765.9 L800.4,910.9 L849.1,765.4 Z" fill="url(#s2g)" opacity="0.27"/>
<path d="M826.0,746.1 L706.7,811.1 L825.0,744.5 Z" fill="url(#s2g)" opacity="0.33"/>
<path d="M863.0,768.0 L860.1,837.4 L861.9,768.0 Z" fill="url(#s2g)" opacity="0.20"/>
<path d="M861.2,767.9 L847.9,907.5 L859.2,767.7 Z" fill="url(#s2g)" opacity="0.16"/>
<path d="M821.5,735.2 L772.5,745.8 L821.0,733.2 Z" fill="url(#s2g)" opacity="0.29"/>
<path d="M890.6,688.9 L933.9,637.6 L892.7,690.7 Z" fill="url(#s2g)" opacity="0.21"/>
<path d="M907.7,718.7 L1020.4,706.8 L907.8,719.7 Z" fill="url(#s2g)" opacity="0.43"/>
<path d="M857.5,767.5 L844.1,846.2 L856.3,767.3 Z" fill="url(#s2g)" opacity="0.44"/>
<path d="M901.6,746.9 L1007.5,815.5 L900.6,748.4 Z" fill="url(#s2g)" opacity="0.38"/>
<path d="M853.6,766.8 L840.3,809.6 L850.9,766.0 Z" fill="url(#s2g)" opacity="0.37"/>
<path d="M886.5,761.8 L960.4,898.6 L884.0,763.2 Z" fill="url(#s2g)" opacity="0.19"/>
<path d="M907.8,728.7 L1017.4,742.5 L907.6,729.9 Z" fill="url(#s2g)" opacity="0.40"/>
<path d="M821.1,733.6 L700.6,756.4 L820.6,731.5 Z" fill="url(#s2g)" opacity="0.41"/>
<path d="M882.2,683.9 L930.8,585.8 L884.1,684.9 Z" fill="url(#s2g)" opacity="0.24"/>
<path d="M894.3,755.9 L924.3,791.6 L892.2,757.7 Z" fill="url(#s2g)" opacity="0.20"/>
<path d="M825.1,744.6 L758.1,776.6 L824.1,742.6 Z" fill="url(#s2g)" opacity="0.32"/>
<path d="M891.2,689.4 L948.1,621.1 L892.5,690.5 Z" fill="url(#s2g)" opacity="0.37"/>
<path d="M861.8,680.1 L857.7,530.9 L863.3,680.0 Z" fill="url(#s2g)" opacity="0.46"/>
<path d="M907.6,718.3 L1062.9,700.7 L907.8,719.5 Z" fill="url(#s2g)" opacity="0.26"/>
<path d="M870.1,680.4 L891.3,544.5 L871.1,680.6 Z" fill="url(#s2g)" opacity="0.27"/>
<path d="M855.9,680.8 L836.1,553.7 L857.9,680.4 Z" fill="url(#s2g)" opacity="0.20"/>
<path d="M827.8,749.0 L792.0,771.8 L826.9,747.7 Z" fill="url(#s2g)" opacity="0.28"/>
<path d="M882.7,684.2 L931.2,587.9 L884.3,684.9 Z" fill="url(#s2g)" opacity="0.21"/>
<path d="M847.3,764.7 L799.5,872.4 L845.6,764.0 Z" fill="url(#s2g)" opacity="0.19"/>
<path d="M881.8,683.8 L929.4,588.9 L884.5,685.1 Z" fill="url(#s2g)" opacity="0.32"/>
<path d="M831.7,694.1 L769.6,631.9 L833.3,692.5 Z" fill="url(#s2g)" opacity="0.47"/>
<path d="M907.6,717.9 L1023.5,705.2 L907.8,719.7 Z" fill="url(#s2g)" opacity="0.14"/>
<path d="M886.9,686.4 L932.4,616.5 L888.3,687.3 Z" fill="url(#s2g)" opacity="0.14"/>
<path d="M907.3,731.9 L988.4,751.1 L906.6,734.8 Z" fill="url(#s2g)" opacity="0.40"/>
<path d="M852.0,681.7 L822.6,567.8 L853.5,681.3 Z" fill="url(#s2g)" opacity="0.18"/>
<path d="M828.1,698.5 L794.4,671.8 L829.5,696.8 Z" fill="url(#s2g)" opacity="0.32"/>
<path d="M821.4,712.9 L773.2,699.2 L821.7,711.9 Z" fill="url(#s2g)" opacity="0.30"/>
<path d="M891.5,758.4 L960.5,849.4 L890.2,759.3 Z" fill="url(#s2g)" opacity="0.36"/>
<path d="M863.0,680.0 L864.2,570.1 L865.1,680.0 Z" fill="url(#s2g)" opacity="0.19"/>
<path d="M839.4,760.5 L749.5,887.6 L838.2,759.6 Z" fill="url(#s2g)" opacity="0.23"/>
<path d="M820.1,727.2 L717.7,730.2 L820.0,724.5 Z" fill="url(#s2g)" opacity="0.23"/>
<path d="M906.5,712.5 L943.7,705.0 L907.1,715.1 Z" fill="url(#s2g)" opacity="0.34"/>
<path d="M899.1,697.4 L943.7,666.9 L900.5,699.4 Z" fill="url(#s2g)" opacity="0.48"/>
<path d="M840.8,686.6 L817.7,643.3 L843.4,685.1 Z" fill="url(#s2g)" opacity="0.49"/>
<path d="M898.1,751.8 L1003.0,840.2 L897.4,752.6 Z" fill="url(#s2g)" opacity="0.15"/>
<path d="M874.9,681.4 L911.2,562.9 L877.8,682.2 Z" fill="url(#s2g)" opacity="0.36"/>
<path d="M820.1,721.8 L751.6,715.7 L820.2,719.7 Z" fill="url(#s2g)" opacity="0.50"/>
<path d="M836.9,689.4 L750.9,575.0 L837.9,688.6 Z" fill="url(#s2g)" opacity="0.40"/>
<path d="M857.6,680.5 L854.0,636.6 L860.3,680.2 Z" fill="url(#s2g)" opacity="0.19"/>
<path d="M874.1,766.8 L881.7,808.9 L871.8,767.3 Z" fill="url(#s2g)" opacity="0.17"/>
<path d="M907.3,716.0 L942.3,712.0 L907.7,718.6 Z" fill="url(#s2g)" opacity="0.41"/>
<path d="M823.6,706.6 L728.3,660.9 L824.7,704.3 Z" fill="url(#s2g)" opacity="0.36"/>
<path d="M892.8,757.3 L977.6,860.2 L891.5,758.3 Z" fill="url(#s2g)" opacity="0.34"/>
<path d="M820.1,721.5 L674.0,709.1 L820.2,719.7 Z" fill="url(#s2g)" opacity="0.44"/>
<path d="M902.9,744.6 L968.0,782.7 L901.7,746.7 Z" fill="url(#s2g)" opacity="0.35"/>
<path d="M884.6,685.1 L915.8,632.9 L886.9,686.4 Z" fill="url(#s2g)" opacity="0.42"/>
<path d="M892.3,757.7 L924.1,799.4 L890.6,759.1 Z" fill="url(#s2g)" opacity="0.49"/>
<path d="M830.1,695.9 L764.4,637.5 L831.4,694.4 Z" fill="url(#s2g)" opacity="0.43"/>
<path d="M820.3,718.9 L720.1,703.7 L820.6,716.8 Z" fill="url(#s2g)" opacity="0.47"/>
<path d="M877.0,682.0 L920.9,550.5 L878.4,682.4 Z" fill="url(#s2g)" opacity="0.35"/>
<path d="M882.2,683.9 L938.3,573.7 L884.8,685.2 Z" fill="url(#s2g)" opacity="0.47"/>
<path d="M895.2,755.0 L962.6,825.9 L894.0,756.2 Z" fill="url(#s2g)" opacity="0.20"/>
<path d="M820.0,725.1 L663.6,723.0 L820.0,722.5 Z" fill="url(#s2g)" opacity="0.16"/>
<path d="M866.0,768.0 L865.8,848.7 L863.2,768.0 Z" fill="url(#s2g)" opacity="0.29"/>
<path d="M888.3,760.7 L943.1,847.9 L887.1,761.5 Z" fill="url(#s2g)" opacity="0.13"/>
<path d="M826.6,700.9 L695.9,613.3 L828.0,698.7 Z" fill="url(#s2g)" opacity="0.40"/>
<path d="M890.2,759.4 L949.2,845.5 L888.3,760.7 Z" fill="url(#s2g)" opacity="0.41"/>
<path d="M822.9,739.8 L783.0,752.2 L822.0,737.1 Z" fill="url(#s2g)" opacity="0.22"/>
<path d="M859.5,680.2 L854.1,588.0 L862.1,680.0 Z" fill="url(#s2g)" opacity="0.25"/>
<path d="M901.3,747.3 L974.3,796.4 L900.2,749.0 Z" fill="url(#s2g)" opacity="0.42"/>
<path d="M828.3,749.7 L731.3,815.7 L827.3,748.3 Z" fill="url(#s2g)" opacity="0.40"/>
<path d="M885.5,762.4 L950.0,890.8 L882.8,763.8 Z" fill="url(#s2g)" opacity="0.13"/>
<path d="M890.8,689.1 L974.2,588.0 L892.6,690.6 Z" fill="url(#s2g)" opacity="0.16"/>
<path d="M858.1,680.4 L845.3,550.7 L860.4,680.1 Z" fill="url(#s2g)" opacity="0.49"/>
<path d="M905.1,708.2 L1012.6,672.5 L906.0,711.0 Z" fill="url(#s2g)" opacity="0.17"/>
<path d="M851.8,766.3 L820.8,861.9 L849.9,765.7 Z" fill="url(#s2g)" opacity="0.48"/>
<path d="M834.3,691.6 L761.7,606.6 L836.0,690.1 Z" fill="url(#s2g)" opacity="0.48"/>
<path d="M829.0,750.7 L726.0,823.7 L827.7,748.9 Z" fill="url(#s2g)" opacity="0.27"/>
<path d="M841.0,761.5 L811.9,807.2 L840.3,761.1 Z" fill="url(#s2g)" opacity="0.25"/>
<path d="M851.3,766.1 L836.3,808.8 L849.4,765.5 Z" fill="url(#s2g)" opacity="0.25"/>
<path d="M902.8,703.2 L1020.7,645.4 L903.8,705.3 Z" fill="url(#s2g)" opacity="0.44"/>
<path d="M858.3,767.6 L849.6,816.4 L856.1,767.3 Z" fill="url(#s2g)" opacity="0.21"/>
<path d="M907.7,718.5 L995.0,711.7 L907.9,721.3 Z" fill="url(#s2g)" opacity="0.21"/>
<path d="M901.2,747.4 L994.1,810.9 L899.9,749.4 Z" fill="url(#s2g)" opacity="0.22"/>
<path d="M902.9,703.4 L1042.4,635.6 L903.9,705.5 Z" fill="url(#s2g)" opacity="0.49"/>
<path d="M907.6,718.1 L960.9,713.7 L907.9,720.6 Z" fill="url(#s2g)" opacity="0.40"/>
<path d="M858.0,680.4 L850.2,603.8 L860.0,680.2 Z" fill="url(#s2g)" opacity="0.34"/>
<path d="M889.2,687.9 L914.3,654.8 L890.5,688.9 Z" fill="url(#s2g)" opacity="0.24"/>
<path d="M874.9,681.4 L888.2,633.6 L875.8,681.6 Z" fill="url(#s2g)" opacity="0.16"/>
<path d="M897.7,752.3 L963.1,812.5 L895.9,754.3 Z" fill="url(#s2g)" opacity="0.25"/>
<path d="M899.9,749.5 L994.2,820.0 L898.9,750.8 Z" fill="url(#s2g)" opacity="0.34"/>
<path d="M862.1,680.0 L862.0,588.6 L864.6,680.0 Z" fill="url(#s2g)" opacity="0.36"/>
<path d="M889.1,687.9 L967.3,585.1 L891.4,689.6 Z" fill="url(#s2g)" opacity="0.40"/>
<path d="M856.4,767.3 L835.6,862.5 L853.9,766.8 Z" fill="url(#s2g)" opacity="0.42"/>
<path d="M857.2,680.5 L841.5,542.3 L859.9,680.2 Z" fill="url(#s2g)" opacity="0.33"/>
<path d="M835.3,690.6 L810.3,658.6 L836.8,689.4 Z" fill="url(#s2g)" opacity="0.40"/>
<path d="M901.2,700.5 L1021.2,629.0 L902.1,702.0 Z" fill="url(#s2g)" opacity="0.21"/>
<path d="M896.7,694.5 L984.5,618.5 L897.5,695.5 Z" fill="url(#s2g)" opacity="0.13"/>
<path d="M895.3,693.1 L972.3,619.8 L896.1,693.9 Z" fill="url(#s2g)" opacity="0.50"/>
<path d="M825.8,702.2 L716.6,634.0 L827.2,699.9 Z" fill="url(#s2g)" opacity="0.22"/>
<path d="M820.3,718.9 L764.6,709.9 L820.6,716.7 Z" fill="url(#s2g)" opacity="0.29"/>
<path d="M874.3,681.2 L887.2,633.5 L875.6,681.6 Z" fill="url(#s2g)" opacity="0.27"/>
<path d="M908.0,722.9 L993.3,725.3 L908.0,725.9 Z" fill="url(#s2g)" opacity="0.45"/>
<path d="M883.3,763.5 L941.3,888.4 L882.1,764.1 Z" fill="url(#s2g)" opacity="0.21"/>
<path d="M834.9,691.0 L789.1,636.2 L835.9,690.1 Z" fill="url(#s2g)" opacity="0.15"/>
<path d="M884.8,762.8 L909.7,816.2 L882.2,764.0 Z" fill="url(#s2g)" opacity="0.14"/>
<path d="M821.1,714.2 L762.0,697.7 L821.7,711.8 Z" fill="url(#s2g)" opacity="0.12"/>
<path d="M833.9,756.1 L746.5,846.9 L833.3,755.5 Z" fill="url(#s2g)" opacity="0.28"/>
<path d="M844.8,763.6 L800.2,847.3 L842.8,762.5 Z" fill="url(#s2g)" opacity="0.15"/>
<path d="M892.3,690.3 L938.9,640.1 L894.2,692.0 Z" fill="url(#s2g)" opacity="0.17"/>
<path d="M900.9,748.0 L949.7,781.3 L900.3,748.9 Z" fill="url(#s2g)" opacity="0.21"/>
<path d="M893.2,756.9 L921.5,793.1 L891.1,758.7 Z" fill="url(#s2g)" opacity="0.32"/>
<path d="M820.1,726.3 L722.2,727.1 L820.0,723.6 Z" fill="url(#s2g)" opacity="0.14"/>
<path d="M906.3,735.9 L1018.8,769.3 L906.1,736.8 Z" fill="url(#s2g)" opacity="0.31"/>
<path d="M832.6,693.2 L733.9,594.1 L833.2,692.6 Z" fill="url(#s2g)" opacity="0.27"/>
<path d="M847.5,764.8 L805.9,863.0 L846.6,764.4 Z" fill="url(#s2g)" opacity="0.41"/>
<path d="M906.1,711.1 L1005.5,684.8 L906.7,713.4 Z" fill="url(#s2g)" opacity="0.44"/>
<path d="M887.6,686.9 L964.1,574.2 L889.3,688.0 Z" fill="url(#s2g)" opacity="0.15"/>
<path d="M875.0,681.4 L914.5,547.9 L877.3,682.1 Z" fill="url(#s2g)" opacity="0.24"/>
<path d="M907.3,716.3 L1018.0,699.6 L907.6,717.9 Z" fill="url(#s2g)" opacity="0.42"/>
<path d="M872.5,767.2 L881.6,831.4 L869.7,767.6 Z" fill="url(#s2g)" opacity="0.14"/>
<path d="M893.3,691.2 L951.5,630.5 L894.8,692.6 Z" fill="url(#s2g)" opacity="0.38"/>
<path d="M899.7,698.3 L951.0,662.9 L900.3,699.2 Z" fill="url(#s2g)" opacity="0.31"/>
<path d="M871.7,767.3 L885.3,853.7 L870.6,767.5 Z" fill="url(#s2g)" opacity="0.15"/>
<path d="M823.6,706.6 L786.0,688.8 L824.2,705.2 Z" fill="url(#s2g)" opacity="0.27"/>
<path d="M901.2,747.5 L1011.6,824.3 L899.6,749.9 Z" fill="url(#s2g)" opacity="0.13"/>
<path d="M878.2,682.4 L899.3,629.5 L880.5,683.2 Z" fill="url(#s2g)" opacity="0.14"/>
<path d="M862.0,680.0 L858.5,530.0 L863.5,680.0 Z" fill="url(#s2g)" opacity="0.18"/>
<path d="M841.4,761.8 L764.3,880.0 L839.2,760.4 Z" fill="url(#s2g)" opacity="0.18"/>
<path d="M899.0,697.3 L1002.9,625.5 L900.7,699.8 Z" fill="url(#s2g)" opacity="0.49"/>
<path d="M888.3,760.7 L955.9,865.7 L887.5,761.2 Z" fill="url(#s2g)" opacity="0.19"/>
<path d="M821.0,714.7 L758.9,699.5 L821.3,713.3 Z" fill="url(#s2g)" opacity="0.26"/>
<path d="M821.7,736.1 L677.9,772.5 L821.2,734.0 Z" fill="url(#s2g)" opacity="0.33"/>
<path d="M854.3,681.1 L844.3,623.5 L856.9,680.6 Z" fill="url(#s2g)" opacity="0.41"/>
<path d="M880.3,683.1 L916.9,600.2 L882.2,684.0 Z" fill="url(#s2g)" opacity="0.15"/>
<path d="M821.9,736.8 L710.9,764.9 L821.1,733.9 Z" fill="url(#s2g)" opacity="0.46"/>
<path d="M841.8,762.0 L772.3,870.0 L839.4,760.5 Z" fill="url(#s2g)" opacity="0.49"/>
<path d="M844.1,684.7 L813.4,615.4 L846.7,683.6 Z" fill="url(#s2g)" opacity="0.13"/>
<path d="M823.3,707.2 L740.4,668.2 L824.5,704.6 Z" fill="url(#s2g)" opacity="0.36"/>
<path d="M877.9,765.7 L894.4,818.8 L877.0,766.0 Z" fill="url(#s2g)" opacity="0.41"/>
<path d="M872.5,680.8 L890.0,601.5 L873.8,681.1 Z" fill="url(#s2g)" opacity="0.33"/>
<path d="M879.5,765.2 L912.4,859.7 L878.0,765.7 Z" fill="url(#s2g)" opacity="0.24"/>
<path d="M847.3,683.3 L824.3,621.6 L848.8,682.7 Z" fill="url(#s2g)" opacity="0.33"/>
<path d="M904.8,707.6 L955.2,689.1 L905.4,709.0 Z" fill="url(#s2g)" opacity="0.22"/>
<path d="M847.8,764.9 L808.7,851.8 L845.3,763.8 Z" fill="url(#s2g)" opacity="0.19"/>
<path d="M854.4,681.1 L838.2,594.1 L856.5,680.6 Z" fill="url(#s2g)" opacity="0.31"/>
<path d="M828.2,698.4 L783.2,662.9 L829.6,696.6 Z" fill="url(#s2g)" opacity="0.27"/>
<path d="M872.5,680.8 L896.4,574.9 L874.2,681.2 Z" fill="url(#s2g)" opacity="0.50"/>
<path d="M883.5,763.4 L898.9,797.0 L882.5,763.9 Z" fill="url(#s2g)" opacity="0.38"/>
<path d="M901.2,747.6 L1006.3,816.7 L900.6,748.5 Z" fill="url(#s2g)" opacity="0.23"/>
<path d="M831.7,694.1 L805.2,667.2 L833.0,692.8 Z" fill="url(#s2g)" opacity="0.50"/>
<path d="M856.5,680.6 L846.4,598.1 L859.3,680.2 Z" fill="url(#s2g)" opacity="0.34"/>
<path d="M879.6,682.9 L909.4,611.2 L881.2,683.5 Z" fill="url(#s2g)" opacity="0.39"/>
<path d="M866.4,680.1 L875.3,559.9 L867.6,680.1 Z" fill="url(#s2g)" opacity="0.28"/>
<path d="M846.2,764.3 L819.2,822.0 L845.2,763.8 Z" fill="url(#s2g)" opacity="0.40"/>
<path d="M892.1,757.9 L941.4,819.4 L891.4,758.5 Z" fill="url(#s2g)" opacity="0.39"/>
<path d="M831.9,693.9 L801.3,661.1 L834.0,691.8 Z" fill="url(#s2g)" opacity="0.50"/>
<path d="M862.8,680.0 L864.0,545.5 L865.2,680.0 Z" fill="url(#s2g)" opacity="0.13"/>
<path d="M858.1,767.6 L848.3,831.2 L857.2,767.5 Z" fill="url(#s2g)" opacity="0.36"/>
<path d="M826.4,701.2 L760.0,656.9 L827.7,699.1 Z" fill="url(#s2g)" opacity="0.21"/>
<path d="M856.2,767.3 L846.0,815.6 L854.9,767.0 Z" fill="url(#s2g)" opacity="0.44"/>
<path d="M820.2,728.2 L694.4,734.7 L820.0,725.4 Z" fill="url(#s2g)" opacity="0.37"/>
<path d="M836.1,758.0 L736.4,875.9 L835.3,757.4 Z" fill="url(#s2g)" opacity="0.28"/>
<path d="M896.5,694.3 L986.5,616.1 L897.6,695.5 Z" fill="url(#s2g)" opacity="0.43"/>
<path d="M865.4,680.0 L872.3,555.9 L866.9,680.1 Z" fill="url(#s2g)" opacity="0.38"/>
<path d="M838.6,688.1 L762.1,572.4 L840.3,686.9 Z" fill="url(#s2g)" opacity="0.47"/>
<path d="M854.7,681.0 L844.4,620.8 L856.8,680.6 Z" fill="url(#s2g)" opacity="0.19"/>
<path d="M830.4,695.6 L775.7,643.7 L832.5,693.3 Z" fill="url(#s2g)" opacity="0.25"/>
<path d="M874.1,681.2 L909.1,547.5 L875.7,681.6 Z" fill="url(#s2g)" opacity="0.34"/>
<path d="M869.7,767.6 L877.6,848.7 L867.8,767.8 Z" fill="url(#s2g)" opacity="0.39"/>
<path d="M820.0,722.9 L765.1,718.9 L820.1,720.6 Z" fill="url(#s2g)" opacity="0.32"/>
<path d="M820.4,718.5 L731.6,702.9 L820.8,715.7 Z" fill="url(#s2g)" opacity="0.37"/>
<path d="M840.1,687.1 L789.7,604.2 L841.6,686.2 Z" fill="url(#s2g)" opacity="0.28"/>
<path d="M844.5,684.6 L806.4,603.9 L845.4,684.1 Z" fill="url(#s2g)" opacity="0.20"/>
<path d="M905.8,737.7 L944.5,752.1 L905.3,739.3 Z" fill="url(#s2g)" opacity="0.26"/>
<path d="M821.8,736.6 L763.9,752.1 L821.5,735.2 Z" fill="url(#s2g)" opacity="0.29"/>
<path d="M853.9,766.8 L836.0,831.8 L852.0,766.3 Z" fill="url(#s2g)" opacity="0.41"/>
<path d="M905.2,739.5 L939.1,754.1 L904.5,741.2 Z" fill="url(#s2g)" opacity="0.46"/>
<path d="M833.2,692.6 L780.1,632.5 L835.4,690.6 Z" fill="url(#s2g)" opacity="0.38"/>
<path d="M883.6,684.6 L947.5,561.2 L884.5,685.1 Z" fill="url(#s2g)" opacity="0.19"/>
<path d="M873.8,681.1 L896.4,600.8 L876.6,681.8 Z" fill="url(#s2g)" opacity="0.15"/>
<path d="M904.3,706.5 L1008.0,664.8 L905.0,708.1 Z" fill="url(#s2g)" opacity="0.44"/>
<path d="M821.0,714.9 L731.6,694.0 L821.2,713.6 Z" fill="url(#s2g)" opacity="0.42"/>
<path d="M891.1,758.6 L934.5,816.3 L890.3,759.3 Z" fill="url(#s2g)" opacity="0.13"/>
<path d="M852.1,766.4 L839.3,805.0 L850.3,765.8 Z" fill="url(#s2g)" opacity="0.25"/>
<path d="M907.8,728.2 L999.5,739.5 L907.6,729.7 Z" fill="url(#s2g)" opacity="0.21"/>
<path d="M821.3,713.2 L747.8,693.3 L821.6,712.3 Z" fill="url(#s2g)" opacity="0.47"/>
<path d="M907.1,715.1 L970.7,704.8 L907.5,717.4 Z" fill="url(#s2g)" opacity="0.34"/>
<path d="M865.1,768.0 L865.3,869.5 L863.7,768.0 Z" fill="url(#s2g)" opacity="0.22"/>
<path d="M822.1,737.4 L782.9,748.5 L821.7,736.0 Z" fill="url(#s2g)" opacity="0.49"/>
<path d="M868.0,680.2 L879.2,604.9 L871.1,680.6 Z" fill="url(#s2g)" opacity="0.24"/>
<path d="M889.0,687.8 L934.6,628.3 L891.3,689.5 Z" fill="url(#s2g)" opacity="0.29"/>
<path d="M893.9,691.7 L930.6,654.7 L895.1,692.9 Z" fill="url(#s2g)" opacity="0.25"/>
<path d="M872.1,680.8 L900.8,541.9 L873.3,681.0 Z" fill="url(#s2g)" opacity="0.28"/>
<path d="M885.1,762.6 L904.8,801.2 L884.0,763.2 Z" fill="url(#s2g)" opacity="0.15"/>
<path d="M851.3,766.1 L821.7,849.3 L848.6,765.2 Z" fill="url(#s2g)" opacity="0.37"/>
<path d="M866.2,680.1 L872.1,604.3 L867.8,680.2 Z" fill="url(#s2g)" opacity="0.28"/>
<path d="M869.5,767.7 L872.8,805.2 L868.0,767.8 Z" fill="url(#s2g)" opacity="0.47"/>
<path d="M906.0,737.2 L998.1,768.6 L905.5,738.5 Z" fill="url(#s2g)" opacity="0.41"/>
<path d="M907.0,733.2 L1002.0,757.7 L906.4,735.6 Z" fill="url(#s2g)" opacity="0.30"/>
<path d="M891.7,758.2 L981.1,872.0 L890.9,758.8 Z" fill="url(#s2g)" opacity="0.47"/>
<path d="M881.0,683.4 L942.1,552.9 L883.5,684.6 Z" fill="url(#s2g)" opacity="0.26"/>
<path d="M832.4,693.4 L767.8,626.4 L833.9,691.9 Z" fill="url(#s2g)" opacity="0.26"/>
<path d="M890.0,688.5 L935.6,631.3 L891.7,689.8 Z" fill="url(#s2g)" opacity="0.15"/>
<path d="M905.3,739.1 L1039.6,791.8 L904.7,740.6 Z" fill="url(#s2g)" opacity="0.26"/>
<path d="M907.8,719.4 L1031.5,708.9 L907.9,720.6 Z" fill="url(#s2g)" opacity="0.33"/>
<path d="M820.3,729.4 L711.2,740.3 L820.2,727.9 Z" fill="url(#s2g)" opacity="0.22"/>
<path d="M905.0,708.0 L1007.5,672.0 L905.7,710.0 Z" fill="url(#s2g)" opacity="0.38"/>
<path d="M863.3,680.0 L865.4,622.8 L865.9,680.0 Z" fill="url(#s2g)" opacity="0.30"/>
<path d="M891.0,758.8 L933.2,819.8 L888.5,760.5 Z" fill="url(#s2g)" opacity="0.44"/>
<path d="M899.5,698.0 L979.7,643.6 L900.8,699.8 Z" fill="url(#s2g)" opacity="0.27"/>
<path d="M859.0,680.3 L850.1,579.5 L860.6,680.1 Z" fill="url(#s2g)" opacity="0.49"/>
<path d="M820.0,725.1 L779.8,723.5 L820.0,722.4 Z" fill="url(#s2g)" opacity="0.16"/>
<path d="M856.4,767.3 L838.7,856.6 L855.1,767.1 Z" fill="url(#s2g)" opacity="0.29"/>
<path d="M823.5,741.3 L729.7,777.3 L822.7,739.2 Z" fill="url(#s2g)" opacity="0.38"/>
<path d="M906.0,737.2 L967.0,757.8 L905.6,738.2 Z" fill="url(#s2g)" opacity="0.25"/>
<path d="M821.7,736.2 L686.6,773.2 L821.5,735.3 Z" fill="url(#s2g)" opacity="0.43"/>
<path d="M889.7,759.7 L959.1,865.4 L887.4,761.3 Z" fill="url(#s2g)" opacity="0.49"/>
<path d="M824.5,704.5 L787.5,684.6 L825.2,703.2 Z" fill="url(#s2g)" opacity="0.29"/>
<path d="M842.7,685.5 L773.4,547.4 L845.2,684.2 Z" fill="url(#s2g)" opacity="0.14"/>
<path d="M894.9,755.4 L974.1,839.3 L893.9,756.3 Z" fill="url(#s2g)" opacity="0.34"/>
<path d="M820.0,722.3 L717.9,715.5 L820.1,720.6 Z" fill="url(#s2g)" opacity="0.47"/>
<path d="M852.7,766.5 L830.7,843.1 L851.5,766.2 Z" fill="url(#s2g)" opacity="0.23"/>
<path d="M893.9,756.3 L970.1,841.1 L893.2,756.9 Z" fill="url(#s2g)" opacity="0.21"/>
<path d="M878.9,682.6 L929.6,551.9 L880.4,683.2 Z" fill="url(#s2g)" opacity="0.40"/>
<path d="M879.1,682.7 L922.6,575.9 L881.2,683.5 Z" fill="url(#s2g)" opacity="0.41"/>
<path d="M846.0,764.2 L813.2,832.7 L844.7,763.6 Z" fill="url(#s2g)" opacity="0.21"/>
<path d="M820.1,721.0 L718.9,711.8 L820.2,719.7 Z" fill="url(#s2g)" opacity="0.15"/>
<path d="M907.6,730.2 L968.2,740.3 L907.4,731.4 Z" fill="url(#s2g)" opacity="0.36"/>
<path d="M879.6,682.8 L918.8,589.7 L881.7,683.7 Z" fill="url(#s2g)" opacity="0.28"/>
<path d="M903.8,742.7 L1016.9,801.2 L902.7,745.0 Z" fill="url(#s2g)" opacity="0.18"/>
<path d="M848.8,765.3 L803.4,875.6 L846.6,764.4 Z" fill="url(#s2g)" opacity="0.18"/>
<path d="M831.3,753.4 L767.9,806.5 L829.9,751.9 Z" fill="url(#s2g)" opacity="0.43"/>
<path d="M891.8,758.1 L940.1,823.9 L889.5,759.9 Z" fill="url(#s2g)" opacity="0.19"/>
<path d="M884.6,762.9 L942.3,881.7 L882.5,763.9 Z" fill="url(#s2g)" opacity="0.30"/>
<path d="M821.8,736.5 L780.1,746.4 L821.2,734.2 Z" fill="url(#s2g)" opacity="0.22"/>
<path d="M823.3,740.8 L683.4,793.7 L822.6,738.9 Z" fill="url(#s2g)" opacity="0.27"/>
<path d="M838.5,759.8 L795.4,815.4 L836.7,758.5 Z" fill="url(#s2g)" opacity="0.39"/>
<path d="M897.5,752.5 L923.7,776.8 L896.4,753.8 Z" fill="url(#s2g)" opacity="0.18"/>
<path d="M827.6,699.2 L783.4,666.4 L828.8,697.6 Z" fill="url(#s2g)" opacity="0.30"/>
<path d="M907.2,715.9 L981.0,704.1 L907.5,717.3 Z" fill="url(#s2g)" opacity="0.25"/>
<path d="M839.7,687.3 L805.3,632.4 L840.8,686.6 Z" fill="url(#s2g)" opacity="0.39"/>
<path d="M820.5,717.2 L777.5,707.8 L821.0,714.5 Z" fill="url(#s2g)" opacity="0.17"/>
<path d="M852.3,766.4 L822.0,864.3 L850.5,765.9 Z" fill="url(#s2g)" opacity="0.41"/>
<path d="M890.8,758.9 L959.4,852.3 L889.7,759.7 Z" fill="url(#s2g)" opacity="0.16"/>
<path d="M849.6,682.4 L808.8,558.1 L850.6,682.1 Z" fill="url(#s2g)" opacity="0.13"/>
<path d="M877.9,765.8 L909.7,866.9 L876.9,766.1 Z" fill="url(#s2g)" opacity="0.48"/>
<path d="M907.8,727.7 L1033.5,743.5 L907.5,730.3 Z" fill="url(#s2g)" opacity="0.27"/>
<path d="M880.3,683.1 L904.0,631.5 L882.7,684.2 Z" fill="url(#s2g)" opacity="0.34"/>
<path d="M889.1,687.9 L969.3,581.7 L891.2,689.4 Z" fill="url(#s2g)" opacity="0.45"/>
<path d="M863.4,768.0 L861.7,807.0 L862.2,768.0 Z" fill="url(#s2g)" opacity="0.40"/>
<path d="M820.2,720.0 L724.9,708.4 L820.4,718.1 Z" fill="url(#s2g)" opacity="0.13"/>
<path d="M902.8,703.3 L997.4,657.1 L903.8,705.2 Z" fill="url(#s2g)" opacity="0.31"/>
<path d="M896.3,694.1 L966.9,632.9 L897.6,695.6 Z" fill="url(#s2g)" opacity="0.42"/>
<path d="M891.1,758.6 L971.9,869.2 L889.3,760.0 Z" fill="url(#s2g)" opacity="0.25"/>
<path d="M890.8,758.9 L948.9,838.6 L889.6,759.8 Z" fill="url(#s2g)" opacity="0.12"/>
<path d="M882.6,684.1 L941.4,571.2 L885.1,685.4 Z" fill="url(#s2g)" opacity="0.41"/>
<path d="M827.9,749.1 L704.7,830.9 L827.1,747.9 Z" fill="url(#s2g)" opacity="0.22"/>
<path d="M821.0,733.2 L704.4,755.9 L820.7,732.1 Z" fill="url(#s2g)" opacity="0.14"/>
<path d="M903.4,704.5 L937.5,690.2 L904.5,706.8 Z" fill="url(#s2g)" opacity="0.30"/>
<path d="M906.4,712.1 L1043.2,677.9 L906.8,714.0 Z" fill="url(#s2g)" opacity="0.33"/>
<path d="M849.2,682.6 L827.5,618.7 L850.0,682.3 Z" fill="url(#s2g)" opacity="0.50"/>
<path d="M821.4,713.1 L692.9,675.9 L821.9,711.1 Z" fill="url(#s2g)" opacity="0.15"/>
<path d="M900.0,749.3 L950.3,789.1 L898.2,751.7 Z" fill="url(#s2g)" opacity="0.43"/>
<path d="M853.8,766.8 L828.5,853.4 L850.9,766.0 Z" fill="url(#s2g)" opacity="0.31"/>
<path d="M846.6,764.4 L805.2,855.8 L845.5,763.9 Z" fill="url(#s2g)" opacity="0.34"/>
<path d="M903.9,742.7 L993.0,786.4 L903.4,743.7 Z" fill="url(#s2g)" opacity="0.13"/>
<path d="M864.8,680.0 L868.5,582.7 L866.0,680.0 Z" fill="url(#s2g)" opacity="0.27"/>
<path d="M897.0,694.9 L958.1,643.8 L898.0,696.0 Z" fill="url(#s2g)" opacity="0.30"/>
<path d="M898.2,696.3 L986.7,629.2 L899.4,697.9 Z" fill="url(#s2g)" opacity="0.36"/>
<path d="M838.1,759.6 L747.1,879.2 L836.9,758.7 Z" fill="url(#s2g)" opacity="0.20"/>
<path d="M820.3,728.7 L686.7,737.9 L820.1,726.2 Z" fill="url(#s2g)" opacity="0.37"/>
<path d="M908.0,723.1 L1041.7,726.4 L908.0,726.0 Z" fill="url(#s2g)" opacity="0.17"/>
<path d="M879.1,765.3 L899.0,824.2 L878.0,765.7 Z" fill="url(#s2g)" opacity="0.18"/>
<path d="M820.0,724.4 L699.2,721.9 L820.0,722.5 Z" fill="url(#s2g)" opacity="0.33"/>
<path d="M845.7,684.0 L794.4,557.1 L848.5,682.8 Z" fill="url(#s2g)" opacity="0.39"/>
<path d="M820.0,725.6 L777.9,725.7 L820.0,724.1 Z" fill="url(#s2g)" opacity="0.19"/>
<path d="M906.4,712.3 L1027.4,681.3 L906.7,713.4 Z" fill="url(#s2g)" opacity="0.25"/>
<path d="M825.9,746.1 L725.9,797.9 L824.5,743.4 Z" fill="url(#s2g)" opacity="0.25"/>
<path d="M848.7,682.7 L822.9,600.6 L851.5,681.8 Z" fill="url(#s2g)" opacity="0.31"/>
<path d="M867.4,680.1 L879.8,573.8 L869.8,680.4 Z" fill="url(#s2g)" opacity="0.41"/>
<path d="M830.8,752.8 L760.4,809.3 L829.3,751.1 Z" fill="url(#s2g)" opacity="0.39"/>
<path d="M826.7,700.6 L760.9,656.0 L827.8,699.0 Z" fill="url(#s2g)" opacity="0.31"/>
<path d="M832.0,754.2 L776.7,804.5 L831.3,753.5 Z" fill="url(#s2g)" opacity="0.15"/>
<path d="M889.3,760.0 L914.3,798.6 L887.9,761.0 Z" fill="url(#s2g)" opacity="0.49"/>
<path d="M829.0,750.7 L708.5,835.9 L827.6,748.7 Z" fill="url(#s2g)" opacity="0.47"/>
<path d="M837.4,688.9 L749.7,563.3 L839.6,687.4 Z" fill="url(#s2g)" opacity="0.15"/>
<path d="M908.0,723.9 L1061.6,727.2 L908.0,725.5 Z" fill="url(#s2g)" opacity="0.37"/>
<path d="M905.8,710.3 L1056.2,666.1 L906.4,712.3 Z" fill="url(#s2g)" opacity="0.24"/>
<path d="M826.6,700.8 L724.9,635.1 L827.2,699.8 Z" fill="url(#s2g)" opacity="0.43"/>
<path d="M908.0,723.7 L991.0,727.0 L907.9,726.4 Z" fill="url(#s2g)" opacity="0.46"/>
<path d="M891.7,689.8 L984.1,582.3 L893.2,691.0 Z" fill="url(#s2g)" opacity="0.28"/>
<path d="M820.5,730.6 L722.4,743.3 L820.3,729.3 Z" fill="url(#s2g)" opacity="0.26"/>
<path d="M820.5,730.8 L783.2,734.6 L820.2,728.7 Z" fill="url(#s2g)" opacity="0.14"/>
<path d="M822.8,708.6 L783.5,692.4 L823.3,707.4 Z" fill="url(#s2g)" opacity="0.29"/>
<path d="M865.5,680.0 L876.5,523.4 L868.0,680.2 Z" fill="url(#s2g)" opacity="0.43"/>
<path d="M824.0,742.3 L732.6,780.5 L823.2,740.4 Z" fill="url(#s2g)" opacity="0.49"/>
<path d="M888.5,687.4 L910.7,658.1 L890.4,688.8 Z" fill="url(#s2g)" opacity="0.39"/>
<path d="M897.5,695.5 L1014.0,601.3 L898.6,696.8 Z" fill="url(#s2g)" opacity="0.28"/>
<path d="M869.4,767.7 L873.4,826.5 L866.6,767.9 Z" fill="url(#s2g)" opacity="0.40"/>
<path d="M884.1,684.9 L921.5,619.8 L886.4,686.1 Z" fill="url(#s2g)" opacity="0.13"/>
<path d="M820.0,725.2 L746.3,725.2 L820.0,723.7 Z" fill="url(#s2g)" opacity="0.50"/>
<path d="M908.0,723.7 L1060.8,727.9 L908.0,726.1 Z" fill="url(#s2g)" opacity="0.50"/>
<path d="M828.1,749.5 L706.4,830.3 L826.9,747.7 Z" fill="url(#s2g)" opacity="0.34"/>
<path d="M832.6,693.2 L786.5,643.9 L834.2,691.6 Z" fill="url(#s2g)" opacity="0.19"/>
<path d="M907.2,732.5 L1028.5,758.1 L907.0,733.4 Z" fill="url(#s2g)" opacity="0.47"/>
<path d="M871.2,767.4 L892.0,913.4 L869.7,767.6 Z" fill="url(#s2g)" opacity="0.39"/>
<path d="M841.3,761.7 L777.0,863.9 L840.2,761.0 Z" fill="url(#s2g)" opacity="0.21"/>
<path d="M860.8,767.9 L842.9,923.1 L857.9,767.6 Z" fill="url(#s2g)" opacity="0.27"/>
<path d="M906.3,711.9 L1051.6,673.0 L906.6,713.0 Z" fill="url(#s2g)" opacity="0.36"/>
<path d="M875.1,766.6 L892.5,842.3 L873.6,766.9 Z" fill="url(#s2g)" opacity="0.21"/>
<path d="M825.9,701.9 L773.3,669.2 L826.8,700.6 Z" fill="url(#s2g)" opacity="0.17"/>
<path d="M860.0,767.8 L845.0,897.6 L858.5,767.7 Z" fill="url(#s2g)" opacity="0.49"/>
<path d="M898.2,751.6 L927.4,776.9 L897.3,752.7 Z" fill="url(#s2g)" opacity="0.32"/>
<path d="M848.9,765.3 L816.3,843.3 L846.5,764.4 Z" fill="url(#s2g)" opacity="0.37"/>
<path d="M867.2,767.9 L874.2,911.3 L865.6,768.0 Z" fill="url(#s2g)" opacity="0.34"/>
<path d="M836.7,758.5 L753.9,856.7 L835.1,757.2 Z" fill="url(#s2g)" opacity="0.31"/>
<path d="M885.2,762.6 L905.5,802.4 L883.9,763.2 Z" fill="url(#s2g)" opacity="0.44"/>
<path d="M903.0,703.7 L979.2,665.6 L903.5,704.6 Z" fill="url(#s2g)" opacity="0.20"/>
<path d="M904.1,705.8 L951.3,686.4 L904.8,707.4 Z" fill="url(#s2g)" opacity="0.15"/>
<path d="M820.1,726.6 L742.4,727.0 L820.0,723.6 Z" fill="url(#s2g)" opacity="0.49"/>
<path d="M820.0,724.3 L681.9,720.5 L820.0,722.0 Z" fill="url(#s2g)" opacity="0.30"/>
<path d="M869.1,680.3 L874.8,641.3 L870.3,680.5 Z" fill="url(#s2g)" opacity="0.43"/>
<path d="M820.2,720.3 L701.6,706.0 L820.4,718.1 Z" fill="url(#s2g)" opacity="0.44"/>
<path d="M864.3,768.0 L862.9,825.0 L862.8,768.0 Z" fill="url(#s2g)" opacity="0.45"/>
<path d="M820.0,724.2 L690.8,719.6 L820.1,721.6 Z" fill="url(#s2g)" opacity="0.25"/>
<path d="M859.4,680.2 L849.7,548.4 L861.4,680.1 Z" fill="url(#s2g)" opacity="0.32"/>
<path d="M820.9,732.7 L731.0,748.6 L820.6,731.4 Z" fill="url(#s2g)" opacity="0.34"/>
<path d="M890.6,689.0 L932.7,637.3 L892.0,690.1 Z" fill="url(#s2g)" opacity="0.26"/>
<path d="M852.6,766.5 L808.6,909.2 L850.2,765.8 Z" fill="url(#s2g)" opacity="0.15"/>
<path d="M820.2,720.3 L742.4,711.3 L820.3,718.6 Z" fill="url(#s2g)" opacity="0.16"/>
<path d="M828.1,698.6 L765.2,649.9 L829.5,696.7 Z" fill="url(#s2g)" opacity="0.17"/>
<path d="M820.2,720.2 L731.0,709.1 L820.4,718.0 Z" fill="url(#s2g)" opacity="0.14"/>
<path d="M873.6,681.1 L897.8,584.1 L875.0,681.4 Z" fill="url(#s2g)" opacity="0.18"/>
<path d="M880.1,683.1 L895.5,649.6 L882.1,683.9 Z" fill="url(#s2g)" opacity="0.24"/>
<path d="M840.2,761.0 L754.6,889.3 L839.2,760.4 Z" fill="url(#s2g)" opacity="0.19"/>
<path d="M907.9,726.6 L987.9,732.9 L907.8,727.7 Z" fill="url(#s2g)" opacity="0.14"/>
<path d="M845.6,684.0 L784.6,545.2 L846.7,683.5 Z" fill="url(#s2g)" opacity="0.35"/>
<path d="M906.7,713.4 L962.3,701.0 L907.0,714.6 Z" fill="url(#s2g)" opacity="0.31"/>
<path d="M906.1,736.8 L1006.7,772.3 L905.2,739.4 Z" fill="url(#s2g)" opacity="0.45"/>
<path d="M897.9,752.1 L975.6,820.9 L896.6,753.6 Z" fill="url(#s2g)" opacity="0.29"/>
<path d="M882.3,764.0 L926.1,864.7 L881.2,764.5 Z" fill="url(#s2g)" opacity="0.38"/>
<path d="M902.0,746.2 L931.2,766.1 L900.5,748.5 Z" fill="url(#s2g)" opacity="0.25"/>
<path d="M827.6,748.7 L744.4,801.3 L826.5,747.1 Z" fill="url(#s2g)" opacity="0.13"/>
<path d="M881.7,683.7 L947.7,542.6 L883.1,684.4 Z" fill="url(#s2g)" opacity="0.23"/>
<path d="M857.3,767.5 L835.9,882.1 L855.3,767.1 Z" fill="url(#s2g)" opacity="0.33"/>
<path d="M829.7,696.5 L778.9,652.5 L831.0,694.9 Z" fill="url(#s2g)" opacity="0.32"/>
<path d="M832.0,693.8 L753.0,611.5 L834.2,691.6 Z" fill="url(#s2g)" opacity="0.17"/>
<path d="M820.1,721.7 L712.1,714.0 L820.1,720.5 Z" fill="url(#s2g)" opacity="0.26"/>
<path d="M866.4,767.9 L867.9,870.2 L864.0,768.0 Z" fill="url(#s2g)" opacity="0.22"/>
<path d="M821.4,735.2 L762.2,748.5 L821.0,733.4 Z" fill="url(#s2g)" opacity="0.50"/>
<path d="M896.9,694.8 L958.1,643.5 L898.0,696.0 Z" fill="url(#s2g)" opacity="0.19"/>
<path d="M896.2,694.0 L1006.7,593.7 L896.8,694.7 Z" fill="url(#s2g)" opacity="0.29"/>
<path d="M829.1,750.8 L776.1,787.9 L827.7,748.9 Z" fill="url(#s2g)" opacity="0.43"/>
<path d="M835.1,757.2 L728.7,871.5 L833.4,755.7 Z" fill="url(#s2g)" opacity="0.21"/>
<path d="M845.5,684.1 L825.6,636.4 L847.1,683.4 Z" fill="url(#s2g)" opacity="0.34"/>
<path d="M882.4,764.0 L900.9,808.6 L880.8,764.7 Z" fill="url(#s2g)" opacity="0.45"/>
<path d="M877.7,765.8 L903.6,855.6 L875.6,766.4 Z" fill="url(#s2g)" opacity="0.19"/>
<path d="M834.0,756.2 L733.1,856.1 L832.1,754.3 Z" fill="url(#s2g)" opacity="0.33"/>
<path d="M832.7,693.1 L807.9,667.0 L833.7,692.1 Z" fill="url(#s2g)" opacity="0.26"/>
<path d="M905.6,738.4 L990.1,771.3 L904.8,740.5 Z" fill="url(#s2g)" opacity="0.37"/>
<path d="M829.0,697.4 L753.5,634.5 L830.7,695.3 Z" fill="url(#s2g)" opacity="0.21"/>
<path d="M851.8,766.3 L832.0,827.7 L850.3,765.8 Z" fill="url(#s2g)" opacity="0.45"/>
<path d="M821.9,736.7 L679.4,775.3 L821.4,734.8 Z" fill="url(#s2g)" opacity="0.27"/>
<path d="M830.6,695.4 L801.8,668.3 L831.9,693.9 Z" fill="url(#s2g)" opacity="0.25"/>
<path d="M820.4,729.8 L735.4,737.6 L820.1,727.4 Z" fill="url(#s2g)" opacity="0.37"/>
<path d="M908.0,723.4 L1007.7,725.0 L908.0,725.2 Z" fill="url(#s2g)" opacity="0.26"/>
<path d="M881.8,764.2 L934.2,888.5 L880.7,764.7 Z" fill="url(#s2g)" opacity="0.22"/>
<path d="M844.3,763.4 L774.6,893.6 L842.6,762.5 Z" fill="url(#s2g)" opacity="0.18"/>
<path d="M875.5,766.5 L891.1,837.9 L872.9,767.1 Z" fill="url(#s2g)" opacity="0.12"/>
<path d="M866.7,767.9 L872.1,892.0 L865.6,768.0 Z" fill="url(#s2g)" opacity="0.34"/>
<path d="M886.3,686.1 L936.2,608.9 L888.4,687.4 Z" fill="url(#s2g)" opacity="0.33"/>
<path d="M895.7,693.5 L1010.5,589.9 L897.2,695.1 Z" fill="url(#s2g)" opacity="0.40"/>
<path d="M850.8,682.0 L813.1,550.1 L852.5,681.5 Z" fill="url(#s2g)" opacity="0.37"/>
<path d="M826.9,747.6 L705.0,818.3 L825.5,745.3 Z" fill="url(#s2g)" opacity="0.25"/>
<path d="M821.3,713.5 L670.5,670.5 L821.9,711.1 Z" fill="url(#s2g)" opacity="0.20"/>
<path d="M820.4,730.1 L775.6,735.0 L820.3,728.7 Z" fill="url(#s2g)" opacity="0.43"/>
<path d="M884.3,763.1 L931.4,863.6 L882.0,764.2 Z" fill="url(#s2g)" opacity="0.48"/>
<path d="M825.0,744.4 L786.9,762.5 L824.2,742.8 Z" fill="url(#s2g)" opacity="0.37"/>
<path d="M866.5,680.1 L876.6,539.7 L867.5,680.1 Z" fill="url(#s2g)" opacity="0.28"/>
<path d="M857.1,680.5 L849.8,612.1 L859.8,680.2 Z" fill="url(#s2g)" opacity="0.49"/>
<path d="M843.5,762.9 L790.5,859.5 L842.6,762.4 Z" fill="url(#s2g)" opacity="0.37"/>
<path d="M905.8,710.3 L1031.2,672.5 L906.3,711.8 Z" fill="url(#s2g)" opacity="0.47"/>
<path d="M908.0,724.3 L1012.5,726.9 L908.0,725.4 Z" fill="url(#s2g)" opacity="0.28"/>
<path d="M859.8,767.8 L852.1,817.8 L857.1,767.4 Z" fill="url(#s2g)" opacity="0.43"/>
<path d="M820.8,715.5 L767.0,702.5 L821.3,713.5 Z" fill="url(#s2g)" opacity="0.21"/>
<path d="M821.6,712.2 L709.4,675.3 L822.5,709.4 Z" fill="url(#s2g)" opacity="0.21"/>
<path d="M860.9,767.9 L853.3,825.6 L857.9,767.6 Z" fill="url(#s2g)" opacity="0.43"/>
<path d="M839.0,760.2 L785.6,830.5 L836.8,758.6 Z" fill="url(#s2g)" opacity="0.34"/>
<path d="M825.9,702.0 L753.4,656.5 L827.0,700.2 Z" fill="url(#s2g)" opacity="0.12"/>
<path d="M885.4,762.5 L947.4,886.5 L882.8,763.8 Z" fill="url(#s2g)" opacity="0.33"/>
<path d="M839.5,687.5 L792.1,612.4 L840.9,686.6 Z" fill="url(#s2g)" opacity="0.34"/>
<path d="M872.0,680.7 L901.7,536.7 L873.4,681.0 Z" fill="url(#s2g)" opacity="0.29"/>
<path d="M823.6,741.4 L704.5,786.6 L822.5,738.8 Z" fill="url(#s2g)" opacity="0.49"/>
<path d="M842.2,685.8 L789.6,589.7 L843.2,685.2 Z" fill="url(#s2g)" opacity="0.14"/>
<path d="M907.7,728.9 L1018.2,744.9 L907.4,731.0 Z" fill="url(#s2g)" opacity="0.13"/>
<path d="M895.9,693.7 L986.2,614.3 L897.5,695.5 Z" fill="url(#s2g)" opacity="0.21"/>
<path d="M850.3,765.8 L815.6,863.2 L848.8,765.3 Z" fill="url(#s2g)" opacity="0.33"/>
<path d="M838.3,688.3 L776.7,598.1 L839.6,687.4 Z" fill="url(#s2g)" opacity="0.50"/>
<path d="M863.5,768.0 L859.3,872.0 L861.8,767.9 Z" fill="url(#s2g)" opacity="0.13"/>
<path d="M838.7,760.0 L767.9,851.7 L836.4,758.3 Z" fill="url(#s2g)" opacity="0.27"/>
<path d="M888.2,760.7 L949.1,856.2 L887.4,761.3 Z" fill="url(#s2g)" opacity="0.32"/>
<path d="M897.6,752.4 L987.0,834.3 L895.9,754.3 Z" fill="url(#s2g)" opacity="0.42"/>
<path d="M840.7,761.3 L767.1,871.4 L839.0,760.2 Z" fill="url(#s2g)" opacity="0.21"/>
<path d="M850.9,682.0 L836.0,621.9 L853.8,681.2 Z" fill="url(#s2g)" opacity="0.43"/>
<path d="M907.9,726.1 L1027.8,735.3 L907.8,728.0 Z" fill="url(#s2g)" opacity="0.14"/>
<path d="M820.7,731.9 L713.6,749.9 L820.6,731.0 Z" fill="url(#s2g)" opacity="0.18"/>
<path d="M867.2,680.1 L875.7,613.4 L870.0,680.4 Z" fill="url(#s2g)" opacity="0.27"/>
<path d="M839.9,687.2 L796.6,618.7 L840.7,686.7 Z" fill="url(#s2g)" opacity="0.38"/>
<path d="M854.1,766.9 L826.6,867.1 L851.7,766.2 Z" fill="url(#s2g)" opacity="0.33"/>
<path d="M881.7,764.3 L901.0,816.1 L879.1,765.3 Z" fill="url(#s2g)" opacity="0.46"/>
<path d="M842.6,762.4 L783.9,857.1 L840.0,760.9 Z" fill="url(#s2g)" opacity="0.18"/>
<path d="M820.0,723.6 L688.0,717.7 L820.1,721.3 Z" fill="url(#s2g)" opacity="0.34"/>
<path d="M874.5,681.3 L895.8,603.2 L875.9,681.6 Z" fill="url(#s2g)" opacity="0.24"/>
<path d="M846.9,764.5 L810.4,846.4 L845.8,764.1 Z" fill="url(#s2g)" opacity="0.44"/>
<path d="M836.2,689.9 L762.6,592.8 L838.0,688.5 Z" fill="url(#s2g)" opacity="0.41"/>
<path d="M822.6,739.0 L758.7,760.5 L822.2,737.8 Z" fill="url(#s2g)" opacity="0.16"/>
<path d="M906.8,713.6 L1023.2,689.8 L907.2,715.9 Z" fill="url(#s2g)" opacity="0.35"/>
<path d="M824.2,742.7 L733.5,783.6 L823.8,741.8 Z" fill="url(#s2g)" opacity="0.38"/>
<path d="M825.2,744.7 L783.4,763.6 L823.9,742.1 Z" fill="url(#s2g)" opacity="0.32"/>
<path d="M907.9,727.6 L972.6,734.9 L907.7,729.2 Z" fill="url(#s2g)" opacity="0.31"/>
<path d="M908.0,723.0 L993.3,724.6 L908.0,725.4 Z" fill="url(#s2g)" opacity="0.37"/>
<path d="M840.9,761.5 L773.9,866.0 L839.9,760.8 Z" fill="url(#s2g)" opacity="0.14"/>
<path d="M907.8,728.4 L963.5,737.1 L907.4,731.1 Z" fill="url(#s2g)" opacity="0.24"/>
<path d="M899.9,698.5 L1004.9,630.3 L901.4,700.7 Z" fill="url(#s2g)" opacity="0.49"/>
<path d="M837.0,689.2 L768.5,592.7 L839.2,687.7 Z" fill="url(#s2g)" opacity="0.37"/>
<path d="M824.7,743.8 L717.3,795.8 L824.2,742.9 Z" fill="url(#s2g)" opacity="0.42"/>
<path d="M905.0,739.9 L1044.5,799.5 L904.1,742.1 Z" fill="url(#s2g)" opacity="0.48"/>
<path d="M835.0,690.9 L781.5,625.1 L836.6,689.6 Z" fill="url(#s2g)" opacity="0.29"/>
<path d="M901.0,747.9 L1015.4,825.0 L900.3,748.9 Z" fill="url(#s2g)" opacity="0.20"/>
<path d="M844.0,763.2 L786.0,869.1 L842.4,762.3 Z" fill="url(#s2g)" opacity="0.24"/>
<path d="M825.8,702.2 L762.5,664.2 L826.4,701.1 Z" fill="url(#s2g)" opacity="0.42"/>
<path d="M822.0,737.2 L706.9,771.5 L821.7,736.3 Z" fill="url(#s2g)" opacity="0.49"/>
<path d="M883.0,763.7 L925.5,857.3 L881.8,764.2 Z" fill="url(#s2g)" opacity="0.24"/>
<path d="M870.5,680.5 L890.1,583.3 L873.5,681.0 Z" fill="url(#s2g)" opacity="0.16"/>
<path d="M894.5,692.3 L998.9,588.7 L895.6,693.4 Z" fill="url(#s2g)" opacity="0.47"/>
<path d="M857.8,767.6 L837.6,888.1 L856.2,767.3 Z" fill="url(#s2g)" opacity="0.32"/>
<path d="M833.1,692.7 L737.1,590.6 L834.3,691.6 Z" fill="url(#s2g)" opacity="0.15"/>
<path d="M856.5,767.4 L831.9,891.4 L854.9,767.1 Z" fill="url(#s2g)" opacity="0.29"/>
<path d="M837.9,688.6 L790.5,617.4 L840.2,687.0 Z" fill="url(#s2g)" opacity="0.27"/>
<path d="M820.3,729.0 L678.2,743.3 L820.2,728.0 Z" fill="url(#s2g)" opacity="0.27"/>
<path d="M842.3,685.7 L787.7,582.8 L843.9,684.9 Z" fill="url(#s2g)" opacity="0.29"/>
<path d="M900.5,699.4 L1023.3,620.5 L901.3,700.6 Z" fill="url(#s2g)" opacity="0.29"/>
<path d="M908.0,725.7 L956.3,729.3 L907.9,727.3 Z" fill="url(#s2g)" opacity="0.26"/>
<path d="M849.9,682.3 L835.1,631.9 L851.7,681.7 Z" fill="url(#s2g)" opacity="0.44"/>
<path d="M896.5,753.6 L940.9,796.8 L895.4,754.8 Z" fill="url(#s2g)" opacity="0.34"/>
<path d="M904.7,707.3 L961.6,686.4 L905.4,709.1 Z" fill="url(#s2g)" opacity="0.35"/>
<path d="M881.9,683.8 L947.9,550.8 L884.5,685.0 Z" fill="url(#s2g)" opacity="0.18"/>
<path d="M842.2,762.2 L821.2,797.3 L841.4,761.7 Z" fill="url(#s2g)" opacity="0.27"/>
<path d="M824.1,742.5 L721.5,784.3 L822.9,739.8 Z" fill="url(#s2g)" opacity="0.16"/>
<path d="M906.9,714.1 L1026.6,688.8 L907.1,715.3 Z" fill="url(#s2g)" opacity="0.38"/>
<path d="M896.6,753.5 L927.7,784.9 L895.0,755.2 Z" fill="url(#s2g)" opacity="0.17"/>
<path d="M840.3,686.9 L796.1,611.1 L842.3,685.7 Z" fill="url(#s2g)" opacity="0.24"/>
<path d="M829.6,696.5 L794.7,664.9 L831.4,694.4 Z" fill="url(#s2g)" opacity="0.42"/>
<path d="M835.7,757.7 L760.1,844.6 L834.9,757.0 Z" fill="url(#s2g)" opacity="0.36"/>
<path d="M867.7,767.8 L878.2,921.1 L866.6,767.9 Z" fill="url(#s2g)" opacity="0.13"/>
<path d="M897.3,695.3 L990.6,620.4 L898.7,697.0 Z" fill="url(#s2g)" opacity="0.15"/>
<path d="M823.2,740.5 L706.4,785.4 L822.8,739.5 Z" fill="url(#s2g)" opacity="0.42"/>
<path d="M826.5,700.9 L784.7,672.6 L827.6,699.2 Z" fill="url(#s2g)" opacity="0.28"/>
<path d="M875.7,681.6 L907.9,581.8 L878.3,682.4 Z" fill="url(#s2g)" opacity="0.41"/>
<path d="M820.0,725.9 L760.3,724.9 L820.0,722.8 Z" fill="url(#s2g)" opacity="0.24"/>
<path d="M833.4,692.4 L739.1,591.4 L834.3,691.5 Z" fill="url(#s2g)" opacity="0.14"/>
<path d="M874.0,681.1 L904.6,559.6 L875.2,681.4 Z" fill="url(#s2g)" opacity="0.24"/>
<path d="M830.9,695.0 L755.0,622.6 L832.8,693.0 Z" fill="url(#s2g)" opacity="0.30"/>
<path d="M881.4,764.4 L929.2,884.7 L879.7,765.1 Z" fill="url(#s2g)" opacity="0.22"/>
<path d="M892.2,757.7 L933.5,809.3 L891.3,758.5 Z" fill="url(#s2g)" opacity="0.18"/>
<path d="M820.2,719.7 L771.7,713.7 L820.3,718.5 Z" fill="url(#s2g)" opacity="0.39"/>
<path d="M883.1,763.6 L937.3,879.9 L882.3,764.0 Z" fill="url(#s2g)" opacity="0.24"/>
<path d="M891.1,758.7 L951.0,840.9 L889.5,759.9 Z" fill="url(#s2g)" opacity="0.40"/>
<path d="M823.8,741.9 L694.9,796.9 L823.4,741.0 Z" fill="url(#s2g)" opacity="0.35"/>
<path d="M905.5,738.6 L976.9,768.0 L904.5,741.3 Z" fill="url(#s2g)" opacity="0.21"/>
<path d="M905.0,739.9 L1049.8,798.4 L904.7,740.8 Z" fill="url(#s2g)" opacity="0.35"/>
<path d="M891.2,758.6 L955.4,848.1 L889.0,760.2 Z" fill="url(#s2g)" opacity="0.17"/>
<path d="M902.2,702.2 L1006.4,645.3 L902.8,703.2 Z" fill="url(#s2g)" opacity="0.19"/>
<path d="M830.9,753.0 L727.9,835.6 L829.1,750.8 Z" fill="url(#s2g)" opacity="0.19"/>
<path d="M893.7,691.6 L970.0,610.9 L894.4,692.2 Z" fill="url(#s2g)" opacity="0.32"/>
<path d="M856.6,767.4 L834.7,870.5 L854.1,766.9 Z" fill="url(#s2g)" opacity="0.16"/>
<path d="M903.3,743.7 L940.3,764.5 L902.4,745.6 Z" fill="url(#s2g)" opacity="0.40"/>
<path d="M859.9,767.8 L842.9,890.9 L857.1,767.5 Z" fill="url(#s2g)" opacity="0.30"/>
<path d="M900.5,748.5 L930.5,769.9 L899.9,749.4 Z" fill="url(#s2g)" opacity="0.40"/>
<path d="M880.7,683.3 L896.3,650.6 L882.8,684.2 Z" fill="url(#s2g)" opacity="0.47"/>
<path d="M852.3,766.4 L806.1,912.7 L849.8,765.7 Z" fill="url(#s2g)" opacity="0.19"/>
<path d="M881.7,764.3 L934.6,892.6 L880.3,764.9 Z" fill="url(#s2g)" opacity="0.13"/>
<path d="M907.9,727.4 L1026.0,740.9 L907.6,729.7 Z" fill="url(#s2g)" opacity="0.19"/>
<path d="M900.4,699.3 L966.5,657.0 L901.2,700.5 Z" fill="url(#s2g)" opacity="0.21"/>
<path d="M837.4,688.9 L763.8,582.7 L839.7,687.3 Z" fill="url(#s2g)" opacity="0.15"/>
<path d="M833.9,691.9 L783.6,636.1 L834.7,691.2 Z" fill="url(#s2g)" opacity="0.37"/>
<path d="M886.4,761.8 L907.1,802.7 L883.8,763.3 Z" fill="url(#s2g)" opacity="0.14"/>
<path d="M820.3,728.8 L737.2,736.1 L820.1,727.5 Z" fill="url(#s2g)" opacity="0.49"/>
<path d="M904.7,740.7 L943.5,758.4 L904.1,742.2 Z" fill="url(#s2g)" opacity="0.34"/>
<path d="M822.8,708.6 L709.5,662.0 L823.6,706.6 Z" fill="url(#s2g)" opacity="0.30"/>
<path d="M907.6,717.9 L956.1,713.2 L907.8,719.8 Z" fill="url(#s2g)" opacity="0.24"/>
<path d="M907.5,717.1 L1002.8,705.2 L907.7,719.1 Z" fill="url(#s2g)" opacity="0.42"/>
<path d="M907.8,720.2 L1025.2,712.0 L907.9,721.2 Z" fill="url(#s2g)" opacity="0.18"/>
<path d="M894.8,755.4 L923.3,785.6 L894.2,756.0 Z" fill="url(#s2g)" opacity="0.48"/>
<path d="M827.4,748.5 L720.1,816.9 L826.6,747.2 Z" fill="url(#s2g)" opacity="0.20"/>
<path d="M907.6,718.3 L953.4,715.1 L907.9,721.0 Z" fill="url(#s2g)" opacity="0.14"/>
<path d="M820.6,731.1 L731.5,742.3 L820.3,729.0 Z" fill="url(#s2g)" opacity="0.35"/>
<path d="M895.3,754.9 L994.4,856.8 L894.4,755.9 Z" fill="url(#s2g)" opacity="0.22"/>
<path d="M906.1,736.9 L965.1,757.7 L905.4,738.9 Z" fill="url(#s2g)" opacity="0.30"/>
<path d="M905.9,710.6 L1036.8,672.4 L906.4,712.2 Z" fill="url(#s2g)" opacity="0.24"/>
<path d="M820.0,723.9 L750.9,721.6 L820.0,722.2 Z" fill="url(#s2g)" opacity="0.37"/>
<path d="M872.3,767.2 L894.9,917.4 L869.5,767.6 Z" fill="url(#s2g)" opacity="0.38"/>
<path d="M854.8,681.0 L826.1,525.6 L856.7,680.6 Z" fill="url(#s2g)" opacity="0.28"/>
<path d="M837.2,689.1 L760.4,583.1 L838.7,688.0 Z" fill="url(#s2g)" opacity="0.20"/>
<path d="M907.9,721.9 L1031.4,720.4 L908.0,724.2 Z" fill="url(#s2g)" opacity="0.15"/>
<path d="M827.8,749.0 L733.2,808.2 L826.3,746.6 Z" fill="url(#s2g)" opacity="0.24"/>
<path d="M902.2,745.8 L1007.2,812.0 L900.8,748.2 Z" fill="url(#s2g)" opacity="0.33"/>
<path d="M853.1,681.4 L836.4,607.3 L854.7,681.0 Z" fill="url(#s2g)" opacity="0.16"/>
<path d="M899.9,749.5 L1005.0,830.8 L898.2,751.6 Z" fill="url(#s2g)" opacity="0.34"/>
<path d="M821.5,712.7 L727.3,683.1 L822.2,710.1 Z" fill="url(#s2g)" opacity="0.15"/>
<path d="M874.7,766.7 L884.5,819.6 L871.7,767.3 Z" fill="url(#s2g)" opacity="0.31"/>
<path d="M850.8,682.0 L832.4,611.4 L853.4,681.3 Z" fill="url(#s2g)" opacity="0.42"/>
<path d="M830.1,752.0 L703.7,847.1 L828.2,749.6 Z" fill="url(#s2g)" opacity="0.41"/>
<path d="M841.4,761.8 L757.9,888.6 L838.9,760.1 Z" fill="url(#s2g)" opacity="0.34"/>
<path d="M836.4,758.3 L763.7,843.9 L835.2,757.2 Z" fill="url(#s2g)" opacity="0.16"/>
<path d="M850.4,765.8 L822.3,843.5 L848.6,765.2 Z" fill="url(#s2g)" opacity="0.32"/>
<path d="M903.0,703.6 L1006.3,653.4 L903.8,705.3 Z" fill="url(#s2g)" opacity="0.30"/>
<path d="M875.0,681.4 L906.4,572.5 L876.7,681.9 Z" fill="url(#s2g)" opacity="0.26"/>
<path d="M860.6,680.1 L854.7,564.7 L862.3,680.0 Z" fill="url(#s2g)" opacity="0.18"/>
<path d="M886.7,761.7 L904.7,796.1 L884.5,762.9 Z" fill="url(#s2g)" opacity="0.44"/>
<path d="M823.9,705.9 L789.1,688.5 L824.6,704.4 Z" fill="url(#s2g)" opacity="0.21"/>
<path d="M900.8,748.1 L990.7,812.6 L899.2,750.3 Z" fill="url(#s2g)" opacity="0.44"/>
<path d="M879.3,682.8 L905.3,621.8 L881.6,683.7 Z" fill="url(#s2g)" opacity="0.23"/>
<path d="M839.2,760.3 L764.4,866.7 L838.4,759.8 Z" fill="url(#s2g)" opacity="0.35"/>
<path d="M846.5,764.4 L807.5,849.2 L845.3,763.8 Z" fill="url(#s2g)" opacity="0.20"/>
<path d="M906.8,713.6 L997.0,693.8 L907.0,714.9 Z" fill="url(#s2g)" opacity="0.37"/>
<path d="M895.6,693.4 L967.1,629.0 L897.1,695.0 Z" fill="url(#s2g)" opacity="0.43"/>
<path d="M896.1,693.9 L965.9,632.9 L897.5,695.5 Z" fill="url(#s2g)" opacity="0.18"/>
<path d="M889.2,760.1 L974.8,888.0 L888.1,760.8 Z" fill="url(#s2g)" opacity="0.33"/>
<path d="M873.5,767.0 L882.4,814.8 L872.0,767.3 Z" fill="url(#s2g)" opacity="0.28"/>
<path d="M866.1,767.9 L869.9,916.4 L864.6,768.0 Z" fill="url(#s2g)" opacity="0.47"/>
<path d="M839.2,687.7 L759.9,564.3 L840.8,686.6 Z" fill="url(#s2g)" opacity="0.13"/>
<path d="M890.2,759.4 L915.9,796.1 L889.2,760.1 Z" fill="url(#s2g)" opacity="0.14"/>
<path d="M867.0,767.9 L870.0,863.7 L864.7,768.0 Z" fill="url(#s2g)" opacity="0.19"/>
<path d="M827.0,747.8 L719.8,814.3 L826.4,746.9 Z" fill="url(#s2g)" opacity="0.39"/>
<path d="M902.4,745.4 L933.4,765.4 L901.1,747.6 Z" fill="url(#s2g)" opacity="0.32"/>
<path d="M828.4,698.2 L771.8,655.1 L829.1,697.2 Z" fill="url(#s2g)" opacity="0.34"/>
<path d="M849.8,765.6 L793.4,912.1 L847.3,764.7 Z" fill="url(#s2g)" opacity="0.46"/>
<path d="M883.8,763.3 L918.2,836.8 L882.3,764.0 Z" fill="url(#s2g)" opacity="0.17"/>
<path d="M820.4,730.2 L711.7,743.1 L820.3,728.7 Z" fill="url(#s2g)" opacity="0.19"/>
<path d="M907.5,730.6 L970.1,742.6 L907.2,732.6 Z" fill="url(#s2g)" opacity="0.50"/>
<path d="M853.2,681.3 L838.9,616.9 L854.7,681.0 Z" fill="url(#s2g)" opacity="0.20"/>
<path d="M894.2,692.0 L920.8,667.7 L896.3,694.1 Z" fill="url(#s2g)" opacity="0.41"/>
<path d="M851.5,766.2 L820.0,865.3 L850.4,765.8 Z" fill="url(#s2g)" opacity="0.39"/>
<path d="M899.4,750.2 L1021.1,845.4 L898.3,751.6 Z" fill="url(#s2g)" opacity="0.36"/>
<path d="M906.6,712.9 L1049.4,681.8 L907.2,715.6 Z" fill="url(#s2g)" opacity="0.35"/>
<path d="M834.0,756.2 L762.5,826.8 L832.2,754.4 Z" fill="url(#s2g)" opacity="0.24"/>
<path d="M904.4,706.6 L1008.4,667.4 L905.5,709.3 Z" fill="url(#s2g)" opacity="0.18"/>
<path d="M820.0,725.9 L722.0,727.7 L820.0,724.4 Z" fill="url(#s2g)" opacity="0.33"/>
<path d="M820.0,725.1 L740.0,725.1 L820.0,723.7 Z" fill="url(#s2g)" opacity="0.32"/>
<path d="M830.3,752.2 L778.9,793.7 L829.6,751.5 Z" fill="url(#s2g)" opacity="0.29"/>
<path d="M842.9,685.4 L820.9,638.8 L845.4,684.1 Z" fill="url(#s2g)" opacity="0.17"/>
<path d="M899.5,750.0 L931.1,776.3 L897.9,752.1 Z" fill="url(#s2g)" opacity="0.19"/>
<path d="M905.0,740.0 L1016.3,786.1 L904.5,741.3 Z" fill="url(#s2g)" opacity="0.25"/>
<path d="M823.9,705.8 L761.4,673.4 L825.2,703.3 Z" fill="url(#s2g)" opacity="0.28"/>
<path d="M833.6,692.2 L755.7,604.9 L835.2,690.8 Z" fill="url(#s2g)" opacity="0.40"/>
<path d="M851.6,766.2 L833.8,819.3 L849.8,765.7 Z" fill="url(#s2g)" opacity="0.44"/>
<path d="M820.7,731.9 L727.8,744.3 L820.3,729.1 Z" fill="url(#s2g)" opacity="0.44"/>
<path d="M905.5,709.3 L1023.0,672.4 L906.2,711.6 Z" fill="url(#s2g)" opacity="0.28"/>
<path d="M869.3,767.7 L881.3,908.3 L867.0,767.9 Z" fill="url(#s2g)" opacity="0.49"/>
<path d="M867.5,767.9 L876.6,916.5 L866.2,767.9 Z" fill="url(#s2g)" opacity="0.40"/>
<path d="M823.9,742.1 L696.4,794.4 L823.0,740.0 Z" fill="url(#s2g)" opacity="0.23"/>
<path d="M877.8,682.2 L899.0,627.4 L880.1,683.1 Z" fill="url(#s2g)" opacity="0.36"/>
<path d="M861.9,680.1 L857.4,538.3 L863.0,680.0 Z" fill="url(#s2g)" opacity="0.45"/>
<path d="M863.7,680.0 L868.7,546.3 L866.7,680.1 Z" fill="url(#s2g)" opacity="0.34"/>
<path d="M870.7,680.5 L889.8,586.5 L873.6,681.1 Z" fill="url(#s2g)" opacity="0.31"/>
<path d="M820.9,715.3 L784.6,706.4 L821.2,713.6 Z" fill="url(#s2g)" opacity="0.17"/>
<path d="M908.0,725.7 L1007.4,731.2 L907.9,726.7 Z" fill="url(#s2g)" opacity="0.16"/>
<path d="M906.8,713.9 L967.2,701.6 L907.2,715.4 Z" fill="url(#s2g)" opacity="0.40"/>
<path d="M907.1,732.8 L1044.7,765.2 L906.7,734.7 Z" fill="url(#s2g)" opacity="0.15"/>
<path d="M900.8,748.1 L961.2,791.5 L899.5,750.1 Z" fill="url(#s2g)" opacity="0.32"/>
<path d="M849.7,765.6 L833.1,806.1 L847.4,764.7 Z" fill="url(#s2g)" opacity="0.21"/>
<path d="M822.2,737.8 L738.8,762.1 L821.6,735.8 Z" fill="url(#s2g)" opacity="0.48"/>
<path d="M876.6,681.9 L921.2,544.4 L878.1,682.3 Z" fill="url(#s2g)" opacity="0.36"/>
<path d="M843.2,685.2 L785.6,570.3 L844.8,684.4 Z" fill="url(#s2g)" opacity="0.47"/>
<path d="M820.4,730.1 L677.7,746.0 L820.2,728.2 Z" fill="url(#s2g)" opacity="0.39"/>
<path d="M872.9,767.1 L883.2,829.7 L870.9,767.5 Z" fill="url(#s2g)" opacity="0.36"/>
<path d="M820.0,723.8 L680.9,717.6 L820.1,721.1 Z" fill="url(#s2g)" opacity="0.28"/>
<path d="M903.6,743.1 L975.7,779.9 L903.1,744.2 Z" fill="url(#s2g)" opacity="0.43"/>
<path d="M859.9,767.8 L844.4,885.0 L857.5,767.5 Z" fill="url(#s2g)" opacity="0.30"/>
<path d="M895.5,693.3 L955.4,638.8 L896.8,694.7 Z" fill="url(#s2g)" opacity="0.48"/>
<path d="M879.9,765.0 L921.7,877.8 L879.0,765.4 Z" fill="url(#s2g)" opacity="0.21"/>
<path d="M820.2,728.4 L671.1,737.3 L820.0,725.6 Z" fill="url(#s2g)" opacity="0.42"/>
<path d="M893.4,756.8 L962.5,837.8 L892.2,757.8 Z" fill="url(#s2g)" opacity="0.16"/>
<path d="M860.1,680.2 L851.7,544.4 L861.9,680.0 Z" fill="url(#s2g)" opacity="0.34"/>
<path d="M839.4,760.5 L795.1,823.5 L838.5,759.9 Z" fill="url(#s2g)" opacity="0.40"/>
<path d="M855.6,680.8 L844.0,610.4 L857.1,680.5 Z" fill="url(#s2g)" opacity="0.50"/>
<path d="M873.5,767.0 L893.1,863.0 L872.5,767.2 Z" fill="url(#s2g)" opacity="0.47"/>
<path d="M865.2,680.0 L870.9,579.5 L866.9,680.1 Z" fill="url(#s2g)" opacity="0.18"/>
<path d="M887.3,761.3 L945.7,861.1 L885.7,762.3 Z" fill="url(#s2g)" opacity="0.26"/>
<path d="M821.0,714.6 L761.8,698.3 L821.7,712.0 Z" fill="url(#s2g)" opacity="0.35"/>
<path d="M894.4,755.8 L947.9,814.2 L893.6,756.6 Z" fill="url(#s2g)" opacity="0.31"/>
<path d="M822.8,739.4 L764.6,757.2 L821.8,736.5 Z" fill="url(#s2g)" opacity="0.39"/>
<path d="M833.7,755.9 L754.3,833.8 L832.1,754.3 Z" fill="url(#s2g)" opacity="0.15"/>
<path d="M820.1,720.4 L712.3,709.0 L820.3,718.9 Z" fill="url(#s2g)" opacity="0.26"/>
<path d="M837.2,689.1 L771.5,595.3 L839.5,687.5 Z" fill="url(#s2g)" opacity="0.19"/>
<path d="M835.9,757.8 L742.9,866.2 L835.1,757.1 Z" fill="url(#s2g)" opacity="0.15"/>
<path d="M904.7,740.7 L968.0,768.5 L904.2,741.9 Z" fill="url(#s2g)" opacity="0.26"/>
<path d="M820.2,727.8 L754.7,730.8 L820.0,725.7 Z" fill="url(#s2g)" opacity="0.39"/>
<path d="M846.9,764.6 L823.4,811.9 L844.2,763.3 Z" fill="url(#s2g)" opacity="0.28"/>
<path d="M903.3,743.9 L945.7,768.3 L902.1,746.0 Z" fill="url(#s2g)" opacity="0.29"/>
<path d="M904.4,706.6 L1022.1,658.3 L904.8,707.6 Z" fill="url(#s2g)" opacity="0.41"/>
<path d="M906.6,713.1 L1061.4,679.9 L907.2,715.8 Z" fill="url(#s2g)" opacity="0.36"/>
<path d="M902.3,702.4 L1020.1,640.1 L903.2,704.0 Z" fill="url(#s2g)" opacity="0.23"/>
<path d="M907.9,726.9 L953.6,731.6 L907.8,728.6 Z" fill="url(#s2g)" opacity="0.15"/>
<path d="M894.3,755.9 L955.3,823.3 L893.2,756.9 Z" fill="url(#s2g)" opacity="0.49"/>
<path d="M882.3,764.0 L922.2,859.8 L880.4,764.8 Z" fill="url(#s2g)" opacity="0.27"/>
<path d="M873.6,681.1 L913.0,533.6 L876.3,681.7 Z" fill="url(#s2g)" opacity="0.14"/>
<path d="M838.3,759.7 L784.4,827.5 L836.1,758.0 Z" fill="url(#s2g)" opacity="0.38"/>
<path d="M834.5,756.7 L747.7,844.4 L832.4,754.6 Z" fill="url(#s2g)" opacity="0.15"/>
<path d="M907.3,716.1 L954.3,708.5 L907.4,717.0 Z" fill="url(#s2g)" opacity="0.14"/>
<path d="M891.4,689.6 L940.0,634.6 L893.6,691.4 Z" fill="url(#s2g)" opacity="0.35"/>
<path d="M906.0,737.2 L1052.2,786.3 L905.6,738.4 Z" fill="url(#s2g)" opacity="0.48"/>
<path d="M897.6,695.6 L976.8,630.8 L898.2,696.4 Z" fill="url(#s2g)" opacity="0.15"/>
<path d="M870.0,767.6 L875.2,827.1 L867.5,767.9 Z" fill="url(#s2g)" opacity="0.20"/>
<path d="M824.0,742.2 L780.5,759.0 L822.9,739.7 Z" fill="url(#s2g)" opacity="0.25"/>
<path d="M907.6,729.8 L1031.1,750.7 L907.2,732.1 Z" fill="url(#s2g)" opacity="0.31"/>
<path d="M864.7,680.0 L869.4,604.7 L867.3,680.1 Z" fill="url(#s2g)" opacity="0.43"/>
<path d="M820.9,732.6 L694.2,754.8 L820.6,731.1 Z" fill="url(#s2g)" opacity="0.33"/>
<path d="M831.7,694.1 L802.2,664.0 L833.2,692.6 Z" fill="url(#s2g)" opacity="0.43"/>
<path d="M907.6,718.1 L1065.0,700.8 L907.8,719.8 Z" fill="url(#s2g)" opacity="0.35"/>
<path d="M899.6,749.8 L1024.5,843.2 L899.0,750.6 Z" fill="url(#s2g)" opacity="0.36"/>
<path d="M822.5,738.7 L693.4,778.2 L821.6,735.9 Z" fill="url(#s2g)" opacity="0.47"/>
<path d="M907.3,716.3 L1052.7,692.4 L907.5,717.2 Z" fill="url(#s2g)" opacity="0.16"/>
<path d="M820.5,730.7 L703.9,743.4 L820.2,727.9 Z" fill="url(#s2g)" opacity="0.43"/>
<path d="M863.6,680.0 L864.7,586.4 L864.9,680.0 Z" fill="url(#s2g)" opacity="0.20"/>
<path d="M864.0,680.0 L865.5,605.1 L865.1,680.0 Z" fill="url(#s2g)" opacity="0.38"/>
<path d="M825.0,703.5 L721.2,645.0 L826.0,701.9 Z" fill="url(#s2g)" opacity="0.21"/>
<path d="M907.1,715.3 L1003.0,699.4 L907.5,717.4 Z" fill="url(#s2g)" opacity="0.37"/>
<path d="M908.0,726.0 L964.7,730.5 L907.8,727.6 Z" fill="url(#s2g)" opacity="0.48"/>
<path d="M906.7,734.6 L1052.8,776.0 L906.1,736.7 Z" fill="url(#s2g)" opacity="0.28"/>
<path d="M859.9,680.2 L851.9,537.2 L862.4,680.0 Z" fill="url(#s2g)" opacity="0.13"/>
<path d="M891.4,689.6 L943.9,630.0 L893.5,691.4 Z" fill="url(#s2g)" opacity="0.31"/>
<path d="M891.5,689.7 L920.3,656.9 L893.0,690.9 Z" fill="url(#s2g)" opacity="0.44"/>
<path d="M846.7,764.5 L790.4,889.8 L845.6,764.0 Z" fill="url(#s2g)" opacity="0.33"/>
<path d="M907.7,729.1 L1033.1,746.5 L907.5,730.5 Z" fill="url(#s2g)" opacity="0.38"/>
<path d="M902.0,746.1 L976.4,793.0 L900.9,747.9 Z" fill="url(#s2g)" opacity="0.18"/>
<path d="M851.5,766.2 L813.9,879.7 L849.5,765.5 Z" fill="url(#s2g)" opacity="0.35"/>
<path d="M906.5,735.3 L1028.9,771.8 L906.0,737.2 Z" fill="url(#s2g)" opacity="0.35"/>
<path d="M907.5,730.9 L1052.7,755.9 L907.3,731.8 Z" fill="url(#s2g)" opacity="0.32"/>
<path d="M826.3,746.6 L766.9,780.5 L825.7,745.7 Z" fill="url(#s2g)" opacity="0.21"/>
<path d="M879.7,682.9 L901.2,632.0 L881.3,683.6 Z" fill="url(#s2g)" opacity="0.46"/>
<path d="M852.6,766.5 L814.3,900.8 L851.5,766.2 Z" fill="url(#s2g)" opacity="0.25"/>
<path d="M833.0,755.2 L802.2,784.4 L832.1,754.3 Z" fill="url(#s2g)" opacity="0.34"/>
<path d="M830.0,751.9 L801.7,773.3 L829.1,750.8 Z" fill="url(#s2g)" opacity="0.22"/>
<path d="M826.8,747.6 L737.7,800.5 L825.9,746.0 Z" fill="url(#s2g)" opacity="0.44"/>
<path d="M887.3,686.7 L955.0,584.9 L888.9,687.7 Z" fill="url(#s2g)" opacity="0.47"/>
<path d="M853.5,766.7 L831.2,850.5 L852.4,766.5 Z" fill="url(#s2g)" opacity="0.28"/>
<path d="M908.0,721.9 L1064.0,718.2 L908.0,723.5 Z" fill="url(#s2g)" opacity="0.29"/>
<path d="M867.2,767.9 L870.0,861.3 L864.6,768.0 Z" fill="url(#s2g)" opacity="0.23"/>
<path d="M907.9,720.8 L1065.5,715.3 L908.0,723.4 Z" fill="url(#s2g)" opacity="0.17"/>
<path d="M904.6,741.0 L1044.5,807.0 L903.3,743.7 Z" fill="url(#s2g)" opacity="0.36"/>
<path d="M862.0,768.0 L855.6,834.0 L859.3,767.7 Z" fill="url(#s2g)" opacity="0.18"/>
<path d="M820.0,723.5 L764.2,721.4 L820.0,722.2 Z" fill="url(#s2g)" opacity="0.46"/>
<path d="M898.2,696.3 L985.4,629.5 L899.2,697.6 Z" fill="url(#s2g)" opacity="0.20"/>
<path d="M902.2,745.8 L945.2,772.1 L901.5,747.1 Z" fill="url(#s2g)" opacity="0.14"/>
<path d="M853.2,766.6 L837.5,817.8 L850.9,766.0 Z" fill="url(#s2g)" opacity="0.39"/>
<path d="M906.3,712.0 L960.2,699.9 L907.0,714.6 Z" fill="url(#s2g)" opacity="0.43"/>
<path d="M897.4,695.4 L989.6,623.0 L899.1,697.5 Z" fill="url(#s2g)" opacity="0.44"/>
<path d="M906.2,736.6 L1026.9,778.2 L905.3,739.2 Z" fill="url(#s2g)" opacity="0.48"/>
<path d="M833.9,691.9 L773.7,623.6 L835.2,690.7 Z" fill="url(#s2g)" opacity="0.33"/>
<path d="M830.7,752.7 L762.9,806.0 L829.0,750.6 Z" fill="url(#s2g)" opacity="0.39"/>
<path d="M823.2,740.5 L709.2,784.4 L822.8,739.5 Z" fill="url(#s2g)" opacity="0.41"/>
<path d="M820.3,729.1 L739.8,734.1 L820.0,726.0 Z" fill="url(#s2g)" opacity="0.21"/>
<path d="M870.7,767.5 L888.8,922.5 L868.2,767.8 Z" fill="url(#s2g)" opacity="0.22"/>
<path d="M856.9,680.6 L838.1,536.4 L859.1,680.3 Z" fill="url(#s2g)" opacity="0.22"/>
<path d="M858.7,767.7 L844.0,865.5 L856.9,767.4 Z" fill="url(#s2g)" opacity="0.50"/>
<path d="M833.0,755.2 L743.7,840.9 L831.9,754.1 Z" fill="url(#s2g)" opacity="0.13"/>
<path d="M904.5,741.2 L1043.1,804.5 L903.8,742.9 Z" fill="url(#s2g)" opacity="0.39"/>
<path d="M833.2,755.4 L791.4,795.4 L832.0,754.3 Z" fill="url(#s2g)" opacity="0.36"/>
<path d="M820.8,715.5 L732.3,695.0 L821.3,713.6 Z" fill="url(#s2g)" opacity="0.28"/>
<path d="M890.9,689.2 L924.1,649.0 L892.1,690.1 Z" fill="url(#s2g)" opacity="0.14"/>
<path d="M893.9,691.7 L946.9,639.4 L895.7,693.5 Z" fill="url(#s2g)" opacity="0.13"/>
<path d="M863.0,680.0 L863.6,631.1 L864.6,680.0 Z" fill="url(#s2g)" opacity="0.26"/>
<path d="M821.4,713.1 L691.5,673.7 L822.2,710.3 Z" fill="url(#s2g)" opacity="0.40"/>
<path d="M837.6,688.8 L752.0,568.2 L839.0,687.8 Z" fill="url(#s2g)" opacity="0.25"/>
<path d="M904.7,740.6 L993.5,781.3 L903.7,743.0 Z" fill="url(#s2g)" opacity="0.15"/>
<path d="M820.5,717.5 L704.6,696.7 L820.8,715.6 Z" fill="url(#s2g)" opacity="0.22"/>
<path d="M903.7,705.0 L1022.1,650.2 L904.1,705.8 Z" fill="url(#s2g)" opacity="0.22"/>
<path d="M820.1,727.6 L734.9,731.2 L820.0,725.3 Z" fill="url(#s2g)" opacity="0.24"/>
<path d="M865.6,768.0 L865.7,829.8 L863.8,768.0 Z" fill="url(#s2g)" opacity="0.45"/>
<path d="M820.5,717.6 L759.4,706.4 L820.8,715.7 Z" fill="url(#s2g)" opacity="0.18"/>
<path d="M877.7,765.8 L905.5,865.4 L875.0,766.6 Z" fill="url(#s2g)" opacity="0.44"/>
<path d="M904.3,706.3 L1040.7,650.1 L904.9,707.7 Z" fill="url(#s2g)" opacity="0.13"/>
<path d="M898.4,696.5 L1013.9,607.2 L899.0,697.4 Z" fill="url(#s2g)" opacity="0.20"/>
<path d="M858.1,767.6 L837.3,899.4 L856.7,767.4 Z" fill="url(#s2g)" opacity="0.17"/>
<path d="M906.1,711.3 L959.2,698.4 L906.8,713.9 Z" fill="url(#s2g)" opacity="0.48"/>
<path d="M827.3,748.2 L759.7,790.9 L826.7,747.3 Z" fill="url(#s2g)" opacity="0.27"/>
<path d="M865.9,680.0 L870.2,615.5 L867.1,680.1 Z" fill="url(#s2g)" opacity="0.38"/>
<path d="M872.1,680.7 L886.3,620.6 L874.5,681.3 Z" fill="url(#s2g)" opacity="0.28"/>
<path d="M826.9,747.7 L758.5,789.3 L826.2,746.5 Z" fill="url(#s2g)" opacity="0.49"/>
<path d="M829.7,696.4 L743.4,620.1 L831.6,694.2 Z" fill="url(#s2g)" opacity="0.37"/>
<path d="M905.1,739.7 L963.7,763.5 L904.7,740.7 Z" fill="url(#s2g)" opacity="0.13"/>
<path d="M899.3,750.2 L992.0,824.3 L897.9,752.0 Z" fill="url(#s2g)" opacity="0.25"/>
<path d="M904.1,705.9 L942.2,690.7 L904.9,707.7 Z" fill="url(#s2g)" opacity="0.49"/>
<path d="M900.4,699.3 L1018.7,625.0 L901.7,701.3 Z" fill="url(#s2g)" opacity="0.38"/>
<path d="M888.7,687.6 L916.7,649.9 L890.3,688.7 Z" fill="url(#s2g)" opacity="0.28"/>
<path d="M900.1,698.9 L1030.1,616.5 L901.7,701.3 Z" fill="url(#s2g)" opacity="0.41"/>
<path d="M874.9,766.6 L887.9,827.5 L872.9,767.1 Z" fill="url(#s2g)" opacity="0.13"/>
<path d="M907.3,731.8 L1057.0,762.3 L907.0,733.3 Z" fill="url(#s2g)" opacity="0.31"/>
<path d="M905.5,709.3 L960.9,692.7 L906.2,711.7 Z" fill="url(#s2g)" opacity="0.33"/>
<path d="M850.5,682.1 L815.6,556.7 L853.1,681.4 Z" fill="url(#s2g)" opacity="0.39"/>
<path d="M865.8,768.0 L869.6,926.0 L864.6,768.0 Z" fill="url(#s2g)" opacity="0.29"/>
<path d="M903.4,704.4 L1032.6,644.0 L904.1,705.9 Z" fill="url(#s2g)" opacity="0.19"/>
<path d="M888.1,760.8 L960.3,881.9 L885.7,762.3 Z" fill="url(#s2g)" opacity="0.48"/>
<path d="M836.7,758.5 L753.7,857.4 L835.2,757.3 Z" fill="url(#s2g)" opacity="0.32"/>
<path d="M897.4,752.7 L983.9,830.4 L896.4,753.7 Z" fill="url(#s2g)" opacity="0.46"/>
<path d="M858.0,767.6 L838.6,895.3 L857.1,767.5 Z" fill="url(#s2g)" opacity="0.42"/>
<path d="M902.3,702.3 L1002.4,651.3 L903.6,704.8 Z" fill="url(#s2g)" opacity="0.30"/>
<path d="M820.2,728.5 L669.0,741.3 L820.1,727.2 Z" fill="url(#s2g)" opacity="0.16"/>
<path d="M875.6,681.5 L894.0,626.3 L878.2,682.4 Z" fill="url(#s2g)" opacity="0.36"/>
<path d="M889.0,687.8 L965.2,584.4 L890.7,689.0 Z" fill="url(#s2g)" opacity="0.36"/>
<path d="M854.0,681.2 L829.0,565.0 L855.1,680.9 Z" fill="url(#s2g)" opacity="0.20"/>
<path d="M829.7,751.5 L729.6,827.8 L828.7,750.2 Z" fill="url(#s2g)" opacity="0.25"/>
<path d="M820.5,717.1 L757.2,705.9 L820.7,716.2 Z" fill="url(#s2g)" opacity="0.12"/>
<path d="M858.4,767.6 L841.7,871.1 L856.4,767.3 Z" fill="url(#s2g)" opacity="0.23"/>
<path d="M904.4,741.4 L1000.0,787.2 L903.4,743.7 Z" fill="url(#s2g)" opacity="0.35"/>
<path d="M871.9,680.7 L880.3,639.8 L872.9,680.9 Z" fill="url(#s2g)" opacity="0.19"/>
<path d="M844.0,684.8 L799.9,590.3 L845.9,683.9 Z" fill="url(#s2g)" opacity="0.13"/>
<path d="M902.7,744.9 L957.6,776.7 L901.9,746.3 Z" fill="url(#s2g)" opacity="0.15"/>
<path d="M903.2,704.0 L1030.6,641.5 L903.6,704.9 Z" fill="url(#s2g)" opacity="0.45"/>
<path d="M840.0,687.1 L781.3,591.3 L841.5,686.2 Z" fill="url(#s2g)" opacity="0.17"/>
<path d="M877.5,682.1 L899.4,620.1 L878.9,682.6 Z" fill="url(#s2g)" opacity="0.17"/>
<path d="M877.5,765.9 L890.0,811.7 L875.4,766.5 Z" fill="url(#s2g)" opacity="0.14"/>
<path d="M891.2,689.4 L989.7,570.6 L892.6,690.6 Z" fill="url(#s2g)" opacity="0.16"/>
<path d="M832.4,693.3 L726.8,583.5 L834.1,691.7 Z" fill="url(#s2g)" opacity="0.26"/>
<path d="M832.6,693.1 L771.6,626.7 L834.8,691.1 Z" fill="url(#s2g)" opacity="0.13"/>
<path d="M900.7,699.7 L965.3,661.5 L902.1,702.1 Z" fill="url(#s2g)" opacity="0.22"/>
<path d="M837.2,689.1 L808.6,648.5 L838.7,688.0 Z" fill="url(#s2g)" opacity="0.30"/>
<path d="M839.5,760.6 L789.6,832.4 L838.7,760.0 Z" fill="url(#s2g)" opacity="0.44"/>
<path d="M868.6,680.2 L884.2,573.7 L871.1,680.6 Z" fill="url(#s2g)" opacity="0.28"/>
<path d="M825.7,702.3 L701.8,626.8 L826.8,700.5 Z" fill="url(#s2g)" opacity="0.13"/>
<path d="M890.0,759.5 L917.1,801.2 L887.8,761.0 Z" fill="url(#s2g)" opacity="0.27"/>
<path d="M822.2,737.7 L745.6,761.0 L821.8,736.6 Z" fill="url(#s2g)" opacity="0.26"/>
<path d="M835.2,690.8 L742.2,577.8 L836.5,689.6 Z" fill="url(#s2g)" opacity="0.46"/>
<path d="M827.1,748.0 L768.5,781.5 L825.5,745.4 Z" fill="url(#s2g)" opacity="0.20"/>
<path d="M884.4,685.0 L908.3,644.8 L886.5,686.2 Z" fill="url(#s2g)" opacity="0.31"/>
<path d="M899.5,698.1 L934.7,673.5 L900.1,698.8 Z" fill="url(#s2g)" opacity="0.35"/>
<path d="M904.9,740.3 L949.0,759.4 L904.4,741.5 Z" fill="url(#s2g)" opacity="0.43"/>
<path d="M897.9,752.0 L987.7,831.9 L896.4,753.8 Z" fill="url(#s2g)" opacity="0.39"/>
<path d="M820.0,724.4 L744.5,722.0 L820.0,722.2 Z" fill="url(#s2g)" opacity="0.23"/>
<path d="M906.9,714.1 L950.0,707.0 L907.4,716.9 Z" fill="url(#s2g)" opacity="0.25"/>
<path d="M877.7,682.2 L926.4,553.7 L880.6,683.2 Z" fill="url(#s2g)" opacity="0.12"/>
<path d="M898.9,750.8 L998.0,831.0 L897.9,752.1 Z" fill="url(#s2g)" opacity="0.42"/>
<path d="M849.2,682.6 L811.8,560.7 L852.0,681.7 Z" fill="url(#s2g)" opacity="0.13"/>
<path d="M903.5,743.4 L1039.0,816.1 L902.3,745.6 Z" fill="url(#s2g)" opacity="0.39"/>
<path d="M906.8,734.3 L1036.6,770.7 L906.1,736.7 Z" fill="url(#s2g)" opacity="0.30"/>
<path d="M904.1,705.9 L939.7,691.6 L904.8,707.5 Z" fill="url(#s2g)" opacity="0.41"/>
<path d="M824.7,743.7 L686.8,809.3 L824.1,742.4 Z" fill="url(#s2g)" opacity="0.45"/>
<path d="M835.2,690.8 L763.7,600.1 L837.5,688.9 Z" fill="url(#s2g)" opacity="0.47"/>
<path d="M883.4,763.5 L946.7,897.0 L882.5,763.9 Z" fill="url(#s2g)" opacity="0.36"/>
<path d="M903.3,743.8 L972.8,783.3 L901.9,746.3 Z" fill="url(#s2g)" opacity="0.39"/>
<path d="M851.9,681.7 L840.0,628.6 L854.7,681.0 Z" fill="url(#s2g)" opacity="0.40"/>
<path d="M853.4,681.3 L832.8,589.4 L854.8,681.0 Z" fill="url(#s2g)" opacity="0.37"/>
<path d="M821.5,712.8 L734.5,685.5 L822.2,710.2 Z" fill="url(#s2g)" opacity="0.27"/>
<path d="M827.8,698.9 L700.3,607.2 L828.6,697.9 Z" fill="url(#s2g)" opacity="0.27"/>
<path d="M907.5,730.9 L1054.0,756.2 L907.3,731.9 Z" fill="url(#s2g)" opacity="0.43"/>
<path d="M903.3,743.9 L935.2,762.6 L902.1,746.0 Z" fill="url(#s2g)" opacity="0.37"/>
<path d="M821.3,713.6 L730.3,689.4 L821.6,712.4 Z" fill="url(#s2g)" opacity="0.15"/>
<path d="M821.7,711.7 L708.1,675.4 L822.3,710.1 Z" fill="url(#s2g)" opacity="0.26"/>
<path d="M841.3,761.7 L810.4,808.0 L839.4,760.5 Z" fill="url(#s2g)" opacity="0.31"/>
<path d="M905.1,708.2 L1013.7,670.9 L905.8,710.3 Z" fill="url(#s2g)" opacity="0.20"/>
<path d="M890.2,759.4 L944.2,835.2 L889.3,760.0 Z" fill="url(#s2g)" opacity="0.12"/>
<path d="M827.6,748.7 L794.8,768.1 L826.2,746.5 Z" fill="url(#s2g)" opacity="0.42"/>
<path d="M829.6,696.6 L785.6,657.9 L831.2,694.7 Z" fill="url(#s2g)" opacity="0.31"/>
</g>
<radialGradient id="st2g" gradientUnits="userSpaceOnUse" cx="855" cy="730" r="235"><stop offset="0" stop-color="#111" stop-opacity="1"/><stop offset="0.5" stop-color="#222" stop-opacity="0.7"/><stop offset="1" stop-color="#555" stop-opacity="0"/></radialGradient>
<filter id="st2f" x="-50%" y="-50%" width="200%" height="200%"><feGaussianBlur stdDeviation="2.5"/></filter><g filter="url(#st2f)">
<path d="M885.3,781.8 L928.7,861.4 L883.4,782.9 Z" fill="url(#st2g)" opacity="0.23"/>
<path d="M878.0,785.4 L910.7,870.0 L876.3,786.1 Z" fill="url(#st2g)" opacity="0.25"/>
<path d="M877.9,785.4 L930.9,926.2 L875.3,786.4 Z" fill="url(#st2g)" opacity="0.11"/>
<path d="M853.9,790.0 L848.2,912.4 L851.7,789.9 Z" fill="url(#st2g)" opacity="0.30"/>
<path d="M881.4,783.9 L913.7,859.2 L878.2,785.3 Z" fill="url(#st2g)" opacity="0.17"/>
<path d="M874.6,786.7 L908.2,892.9 L872.6,787.3 Z" fill="url(#st2g)" opacity="0.29"/>
<path d="M874.2,786.9 L903.0,883.3 L871.7,787.6 Z" fill="url(#st2g)" opacity="0.20"/>
<path d="M828.5,783.8 L754.5,925.3 L826.6,782.9 Z" fill="url(#st2g)" opacity="0.12"/>
<path d="M834.9,786.5 L774.3,949.6 L833.7,786.1 Z" fill="url(#st2g)" opacity="0.24"/>
<path d="M833.2,785.9 L779.1,917.0 L831.6,785.3 Z" fill="url(#st2g)" opacity="0.26"/>
<path d="M842.0,788.6 L817.2,883.8 L839.4,787.9 Z" fill="url(#st2g)" opacity="0.13"/>
<path d="M883.6,782.7 L934.4,882.5 L881.8,783.7 Z" fill="url(#st2g)" opacity="0.17"/>
<path d="M847.6,789.5 L821.4,946.8 L844.1,789.0 Z" fill="url(#st2g)" opacity="0.29"/>
<path d="M826.2,782.6 L748.8,917.0 L824.5,781.7 Z" fill="url(#st2g)" opacity="0.12"/>
<path d="M848.6,789.7 L830.2,920.2 L845.9,789.3 Z" fill="url(#st2g)" opacity="0.10"/>
<path d="M875.2,786.5 L926.9,945.8 L872.7,787.3 Z" fill="url(#st2g)" opacity="0.23"/>
<path d="M881.2,784.0 L928.1,892.2 L878.1,785.4 Z" fill="url(#st2g)" opacity="0.22"/>
<path d="M826.5,782.8 L776.9,868.1 L824.5,781.6 Z" fill="url(#st2g)" opacity="0.26"/>
<path d="M859.7,789.8 L867.4,944.6 L857.2,790.0 Z" fill="url(#st2g)" opacity="0.11"/>
<path d="M880.1,784.5 L950.2,943.1 L878.8,785.1 Z" fill="url(#st2g)" opacity="0.12"/>
<path d="M866.9,788.8 L890.7,934.7 L863.7,789.4 Z" fill="url(#st2g)" opacity="0.18"/>
<path d="M856.0,790.0 L855.4,944.9 L854.2,790.0 Z" fill="url(#st2g)" opacity="0.16"/>
<path d="M848.6,789.7 L831.4,929.0 L847.3,789.5 Z" fill="url(#st2g)" opacity="0.10"/>
<path d="M878.5,785.2 L932.3,924.1 L875.9,786.3 Z" fill="url(#st2g)" opacity="0.29"/>
<path d="M839.9,788.1 L809.6,887.8 L837.0,787.2 Z" fill="url(#st2g)" opacity="0.30"/>
<path d="M865.5,789.1 L877.3,869.3 L863.4,789.4 Z" fill="url(#st2g)" opacity="0.14"/>
<path d="M875.7,786.3 L903.0,866.1 L874.3,786.8 Z" fill="url(#st2g)" opacity="0.27"/>
<path d="M883.0,783.1 L945.0,906.7 L881.5,783.8 Z" fill="url(#st2g)" opacity="0.12"/>
<path d="M836.0,786.9 L799.5,889.0 L834.5,786.4 Z" fill="url(#st2g)" opacity="0.18"/>
<path d="M844.4,789.1 L816.5,915.9 L841.2,788.4 Z" fill="url(#st2g)" opacity="0.17"/>
<path d="M854.6,790.0 L849.8,938.1 L852.3,789.9 Z" fill="url(#st2g)" opacity="0.24"/>
<path d="M857.8,789.9 L860.3,882.6 L856.3,790.0 Z" fill="url(#st2g)" opacity="0.25"/>
<path d="M841.2,788.4 L796.8,952.1 L838.4,787.7 Z" fill="url(#st2g)" opacity="0.21"/>
<path d="M876.2,786.1 L930.7,937.7 L874.9,786.6 Z" fill="url(#st2g)" opacity="0.17"/>
<path d="M877.9,785.4 L919.7,893.8 L876.1,786.1 Z" fill="url(#st2g)" opacity="0.17"/>
<path d="M842.7,788.7 L813.0,916.8 L841.0,788.3 Z" fill="url(#st2g)" opacity="0.25"/>
<path d="M841.0,788.3 L801.7,942.0 L839.8,788.0 Z" fill="url(#st2g)" opacity="0.22"/>
<path d="M831.6,785.3 L788.8,880.7 L830.1,784.6 Z" fill="url(#st2g)" opacity="0.26"/>
<path d="M865.1,789.1 L880.3,906.3 L862.0,789.6 Z" fill="url(#st2g)" opacity="0.16"/>
<path d="M874.6,786.7 L904.8,882.4 L872.7,787.3 Z" fill="url(#st2g)" opacity="0.23"/>
<path d="M863.9,789.3 L884.3,941.2 L862.6,789.5 Z" fill="url(#st2g)" opacity="0.13"/>
<path d="M848.4,789.6 L830.8,914.0 L846.0,789.3 Z" fill="url(#st2g)" opacity="0.29"/>
<path d="M869.5,788.2 L891.3,883.0 L868.2,788.5 Z" fill="url(#st2g)" opacity="0.19"/>
<path d="M868.2,788.5 L894.0,910.9 L867.1,788.8 Z" fill="url(#st2g)" opacity="0.08"/>
<path d="M863.5,789.4 L881.6,940.3 L861.6,789.6 Z" fill="url(#st2g)" opacity="0.28"/>
<path d="M851.5,789.9 L840.2,907.7 L848.5,789.6 Z" fill="url(#st2g)" opacity="0.13"/>
<path d="M849.6,789.8 L830.8,949.1 L847.2,789.5 Z" fill="url(#st2g)" opacity="0.15"/>
<path d="M880.4,784.4 L934.9,907.4 L878.9,785.0 Z" fill="url(#st2g)" opacity="0.16"/>
<path d="M853.7,790.0 L844.8,959.2 L850.9,789.9 Z" fill="url(#st2g)" opacity="0.19"/>
<path d="M834.0,786.2 L792.9,887.5 L832.0,785.4 Z" fill="url(#st2g)" opacity="0.23"/>
<path d="M852.7,790.0 L845.9,890.8 L850.5,789.8 Z" fill="url(#st2g)" opacity="0.26"/>
<path d="M871.6,787.6 L910.2,929.6 L870.4,788.0 Z" fill="url(#st2g)" opacity="0.29"/>
<path d="M845.3,789.2 L822.3,897.6 L841.8,788.5 Z" fill="url(#st2g)" opacity="0.26"/>
<path d="M882.6,783.3 L927.5,876.7 L880.5,784.3 Z" fill="url(#st2g)" opacity="0.30"/>
<path d="M878.0,785.4 L908.1,864.4 L876.1,786.2 Z" fill="url(#st2g)" opacity="0.09"/>
<path d="M861.8,789.6 L873.2,920.3 L859.6,789.8 Z" fill="url(#st2g)" opacity="0.11"/>
<path d="M884.7,782.1 L958.6,919.9 L882.7,783.2 Z" fill="url(#st2g)" opacity="0.19"/>
<path d="M858.1,789.9 L859.7,935.1 L854.7,790.0 Z" fill="url(#st2g)" opacity="0.26"/>
<path d="M841.6,788.5 L814.4,897.3 L840.1,788.1 Z" fill="url(#st2g)" opacity="0.10"/>
<path d="M834.2,786.3 L801.6,865.2 L831.8,785.3 Z" fill="url(#st2g)" opacity="0.28"/>
<path d="M867.2,788.7 L887.8,903.9 L865.0,789.2 Z" fill="url(#st2g)" opacity="0.29"/>
<path d="M844.1,789.0 L812.9,945.6 L842.9,788.8 Z" fill="url(#st2g)" opacity="0.24"/>
<path d="M859.7,789.8 L864.1,907.9 L856.5,790.0 Z" fill="url(#st2g)" opacity="0.24"/>
<path d="M831.5,785.2 L767.4,921.0 L828.5,783.8 Z" fill="url(#st2g)" opacity="0.17"/>
<path d="M852.6,790.0 L842.4,944.2 L850.3,789.8 Z" fill="url(#st2g)" opacity="0.11"/>
<path d="M851.3,789.9 L835.1,951.9 L848.0,789.6 Z" fill="url(#st2g)" opacity="0.11"/>
<path d="M863.5,789.4 L875.1,890.5 L861.5,789.7 Z" fill="url(#st2g)" opacity="0.29"/>
<path d="M860.9,789.7 L869.0,899.2 L859.0,789.9 Z" fill="url(#st2g)" opacity="0.18"/>
<path d="M845.2,789.2 L824.5,899.8 L843.6,788.9 Z" fill="url(#st2g)" opacity="0.13"/>
<path d="M870.7,787.9 L911.2,949.0 L869.1,788.3 Z" fill="url(#st2g)" opacity="0.25"/>
<path d="M879.8,784.6 L940.6,926.8 L878.1,785.4 Z" fill="url(#st2g)" opacity="0.25"/>
<path d="M860.0,789.8 L865.5,877.1 L858.6,789.9 Z" fill="url(#st2g)" opacity="0.26"/>
<path d="M853.4,790.0 L846.8,916.0 L851.3,789.9 Z" fill="url(#st2g)" opacity="0.23"/>
<path d="M857.4,790.0 L857.7,875.9 L854.8,790.0 Z" fill="url(#st2g)" opacity="0.15"/>
<path d="M835.1,786.6 L786.8,909.6 L832.3,785.5 Z" fill="url(#st2g)" opacity="0.11"/>
<path d="M843.7,788.9 L812.4,923.4 L840.5,788.2 Z" fill="url(#st2g)" opacity="0.27"/>
<path d="M853.3,790.0 L844.4,926.0 L850.3,789.8 Z" fill="url(#st2g)" opacity="0.14"/>
<path d="M853.5,790.0 L844.9,944.5 L850.9,789.9 Z" fill="url(#st2g)" opacity="0.20"/>
<path d="M834.0,786.2 L770.3,946.7 L832.3,785.5 Z" fill="url(#st2g)" opacity="0.10"/>
<path d="M849.6,789.8 L836.7,883.0 L846.1,789.3 Z" fill="url(#st2g)" opacity="0.18"/>
<path d="M854.5,790.0 L847.2,947.5 L851.2,789.9 Z" fill="url(#st2g)" opacity="0.11"/>
<path d="M859.1,789.9 L862.7,887.0 L856.8,790.0 Z" fill="url(#st2g)" opacity="0.11"/>
<path d="M832.9,785.8 L788.2,890.4 L830.9,785.0 Z" fill="url(#st2g)" opacity="0.28"/>
<path d="M836.2,787.0 L797.9,892.2 L833.9,786.2 Z" fill="url(#st2g)" opacity="0.23"/>
<path d="M875.8,786.3 L904.1,874.8 L872.7,787.3 Z" fill="url(#st2g)" opacity="0.12"/>
<path d="M843.3,788.9 L809.6,935.2 L840.8,788.3 Z" fill="url(#st2g)" opacity="0.16"/>
<path d="M833.7,786.1 L776.4,929.8 L832.4,785.6 Z" fill="url(#st2g)" opacity="0.28"/>
<path d="M847.2,789.5 L831.1,895.8 L845.7,789.3 Z" fill="url(#st2g)" opacity="0.10"/>
<path d="M836.7,787.2 L784.4,938.9 L834.8,786.5 Z" fill="url(#st2g)" opacity="0.12"/>
<path d="M881.8,783.7 L932.5,891.7 L880.1,784.5 Z" fill="url(#st2g)" opacity="0.09"/>
</g>
<radialGradient id="f2r" gradientUnits="objectBoundingBox" cx="0.5" cy="0.5" r="0.5"><stop offset="0" stop-color="#e0662a"/><stop offset="0.4" stop-color="#cc4422"/><stop offset="0.68" stop-color="#9a2e18" stop-opacity="0.9"/><stop offset="0.86" stop-color="#2a120c" stop-opacity="0.75"/><stop offset="1" stop-color="#141010" stop-opacity="0"/></radialGradient>
<radialGradient id="f2b" gradientUnits="objectBoundingBox" cx="0.5" cy="0.5" r="0.5"><stop offset="0" stop-color="#fff6e0" stop-opacity="1"/><stop offset="0.5" stop-color="#ffe0a0" stop-opacity="0.8"/><stop offset="1" stop-color="#ffd080" stop-opacity="0"/></radialGradient>
<radialGradient id="f2y" gradientUnits="objectBoundingBox" cx="0.5" cy="0.5" r="0.5"><stop offset="0" stop-color="#f6b830" stop-opacity="1"/><stop offset="0.6" stop-color="#f0a030" stop-opacity="0.8"/><stop offset="1" stop-color="#e07028" stop-opacity="0"/></radialGradient>
<radialGradient id="f2d" gradientUnits="objectBoundingBox" cx="0.5" cy="0.5" r="0.5"><stop offset="0" stop-color="#c82a1a" stop-opacity="0.9"/><stop offset="0.6" stop-color="#b82818" stop-opacity="0.6"/><stop offset="1" stop-color="#802010" stop-opacity="0"/></radialGradient>
<radialGradient id="f2k" gradientUnits="objectBoundingBox" cx="0.5" cy="0.5" r="0.5"><stop offset="0" stop-color="#6a2414" stop-opacity="0.85"/><stop offset="0.6" stop-color="#4a1a10" stop-opacity="0.5"/><stop offset="1" stop-color="#2a1008" stop-opacity="0"/></radialGradient>
<filter id="f2f" x="-50%" y="-50%" width="200%" height="200%"><feTurbulence type="fractalNoise" baseFrequency="0.09" numOctaves="2" seed="7" result="n"/><feDisplacementMap in="SourceGraphic" in2="n" scale="11" xChannelSelector="R" yChannelSelector="G" result="d"/><feGaussianBlur in="d" stdDeviation="0.9"/></filter>
<g filter="url(#f2f)"><ellipse cx="846" cy="722" rx="60" ry="55" fill="url(#f2r)"/>
<circle cx="890" cy="720" r="22" fill="url(#f2k)"/>
<circle cx="878" cy="755" r="18" fill="url(#f2k)"/>
<circle cx="835" cy="758" r="22" fill="url(#f2d)"/>
<circle cx="860" cy="765" r="16" fill="url(#f2d)"/>
<circle cx="838" cy="718" r="32" fill="url(#f2y)"/>
<circle cx="816" cy="704" r="28" fill="url(#f2b)"/>
<circle cx="842" cy="694" r="22" fill="url(#f2b)"/>
<circle cx="812" cy="730" r="16" fill="url(#f2y)"/>
<circle cx="862" cy="712" r="18" fill="url(#f2y)"/>
</g>
<rect x="627" y="535" width="153" height="51" fill="#434a4e"/>
<rect x="627" y="698" width="153" height="46.5" fill="#434a4e"/>
<path d="M624.5,144.5 L779.7,144.5 L779.7,535.7 C775,537 770,539.6 760,539.8 L624.5,539.8 L624.5,415.3 L700,415.3 C740,415 773.1,405 773.1,397.6 C773.1,390 740,379 700,378.5 L624.5,378.5 Z" fill="#d6e0e6" stroke="#4e4a47" stroke-width="1.2" stroke-linejoin="miter"/>
<path d="M624.5,579.3 L740,579.3 C765,579.6 772,581 779.7,585.3 L779.7,699.1 L624.5,699.1 Z" fill="#d6e0e6" stroke="#4e4a47" stroke-width="1.2"/>
<path d="M624.5,738.2 L740,738.2 C760,738.3 770,739.5 779.7,743.9 L779.7,878.4 L624.5,878.4 Z" fill="#d6e0e6" stroke="#4e4a47" stroke-width="1.2"/>
<path d="M622.0,384.3 L623.7,384.0 L625.4,383.9 L627.1,384.0 L628.8,384.4 L630.4,384.8 L632.1,385.2 L633.8,385.4 L635.5,385.6 L637.2,385.6 L638.9,385.5 L640.6,385.6 L642.2,385.7 L643.9,386.1 L645.6,386.6 L647.3,387.2 L649.0,387.7 L650.7,388.0 L652.4,388.0 L654.1,387.8 L655.8,387.5 L657.4,387.1 L659.1,386.7 L660.8,386.5 L662.5,386.5 L664.2,386.7 L665.9,387.0 L667.6,387.2 L669.2,387.4 L670.9,387.4 L672.6,387.4 L674.3,387.3 L676.0,387.2 L677.7,387.3 L679.4,387.6 L681.1,388.1 L682.8,388.7 L684.4,389.2 L686.1,389.7 L687.8,390.0 L689.5,390.1 L691.2,390.0 L692.9,389.8 L694.6,389.6 L696.2,389.4 L697.9,389.5 L699.6,389.6 L701.3,389.8 L703.0,390.0 L704.7,390.1 L706.4,390.1 L708.1,390.1 L709.8,389.9 L711.4,389.8 L713.1,389.8 L714.8,390.0 L716.5,390.3 L718.2,390.8 L719.9,391.3 L721.6,391.8 L723.2,392.2 L724.9,392.5 L726.6,392.6 L728.3,392.6 L730.0,392.7 L731.7,392.7 L733.4,392.8 L735.1,393.1 L736.8,393.3 L738.4,393.6 L740.1,393.8 L741.8,394.0 L743.5,394.1 L745.2,394.1 L746.9,394.2 L748.6,394.3 L750.2,394.6 L751.9,395.0 L753.6,395.6 L755.3,396.2 L757.0,397.2 L757.0,397.8 L755.3,398.8 L753.6,399.4 L751.9,399.9 L750.2,400.4 L748.6,400.7 L746.9,400.9 L745.2,401.0 L743.5,401.0 L741.8,401.1 L740.1,401.1 L738.4,401.2 L736.8,401.4 L735.1,401.6 L733.4,401.9 L731.7,402.2 L730.0,402.5 L728.3,402.7 L726.6,402.8 L724.9,402.9 L723.2,403.0 L721.6,403.1 L719.9,403.3 L718.2,403.5 L716.5,403.9 L714.8,404.3 L713.1,404.7 L711.4,405.2 L709.8,405.5 L708.1,405.7 L706.4,405.8 L704.7,405.7 L703.0,405.5 L701.3,405.3 L699.6,405.2 L697.9,405.1 L696.2,405.1 L694.6,405.2 L692.9,405.4 L691.2,405.6 L689.5,405.8 L687.8,405.9 L686.1,406.0 L684.4,405.9 L682.8,405.9 L681.1,405.8 L679.4,405.8 L677.7,406.0 L676.0,406.3 L674.3,406.8 L672.6,407.3 L670.9,407.8 L669.2,408.3 L667.6,408.7 L665.9,408.9 L664.2,408.9 L662.5,408.7 L660.8,408.5 L659.1,408.3 L657.4,408.1 L655.8,408.0 L654.1,408.0 L652.4,408.2 L650.7,408.4 L649.0,408.5 L647.3,408.6 L645.6,408.6 L643.9,408.5 L642.2,408.3 L640.6,408.0 L638.9,407.9 L637.2,407.9 L635.5,408.1 L633.8,408.4 L632.1,408.9 L630.4,409.6 L628.8,410.2 L627.1,410.7 L625.4,411.0 L623.7,411.2 L622.0,411.2Z" fill="#a85a28" opacity="0.85"/>
<path d="M622.0,387.5 L623.6,387.8 L625.2,388.2 L626.9,388.5 L628.5,388.7 L630.1,388.8 L631.8,388.8 L633.4,388.7 L635.0,388.8 L636.6,388.9 L638.2,389.3 L639.9,389.7 L641.5,390.2 L643.1,390.6 L644.8,390.9 L646.4,390.9 L648.0,390.7 L649.6,390.3 L651.2,390.0 L652.9,389.6 L654.5,389.5 L656.1,389.5 L657.8,389.6 L659.4,389.9 L661.0,390.1 L662.6,390.2 L664.2,390.2 L665.9,390.1 L667.5,390.0 L669.1,390.0 L670.8,390.1 L672.4,390.3 L674.0,390.7 L675.6,391.3 L677.2,391.7 L678.9,392.1 L680.5,392.3 L682.1,392.4 L683.8,392.3 L685.4,392.0 L687.0,391.9 L688.6,391.7 L690.2,391.7 L691.9,391.9 L693.5,392.0 L695.1,392.2 L696.8,392.3 L698.4,392.2 L700.0,392.1 L701.6,392.0 L703.2,391.9 L704.9,391.8 L706.5,392.0 L708.1,392.3 L709.8,392.7 L711.4,393.1 L713.0,393.5 L714.6,393.9 L716.2,394.0 L717.9,394.1 L719.5,394.1 L721.1,394.1 L722.8,394.1 L724.4,394.2 L726.0,394.3 L727.6,394.5 L729.2,394.7 L730.9,394.9 L732.5,394.9 L734.1,394.9 L735.8,394.9 L737.4,394.8 L739.0,394.9 L740.6,395.0 L742.2,395.2 L743.9,395.5 L745.5,395.9 L747.1,396.3 L748.8,396.7 L750.4,397.0 L752.0,397.3 L752.0,397.9 L750.4,398.2 L748.8,398.6 L747.1,399.0 L745.5,399.3 L743.9,399.7 L742.2,400.0 L740.6,400.2 L739.0,400.3 L737.4,400.4 L735.8,400.4 L734.1,400.3 L732.5,400.3 L730.9,400.3 L729.2,400.4 L727.6,400.5 L726.0,400.7 L724.4,400.9 L722.8,401.1 L721.1,401.2 L719.5,401.3 L717.9,401.4 L716.2,401.4 L714.6,401.4 L713.0,401.5 L711.4,401.7 L709.8,401.9 L708.1,402.2 L706.5,402.6 L704.9,403.0 L703.2,403.3 L701.6,403.6 L700.0,403.8 L698.4,403.8 L696.8,403.7 L695.1,403.5 L693.5,403.3 L691.9,403.1 L690.2,403.1 L688.6,403.1 L687.0,403.2 L685.4,403.4 L683.8,403.5 L682.1,403.7 L680.5,403.7 L678.9,403.7 L677.2,403.6 L675.6,403.5 L674.0,403.4 L672.4,403.4 L670.8,403.6 L669.1,403.9 L667.5,404.3 L665.9,404.8 L664.2,405.3 L662.6,405.7 L661.0,405.9 L659.4,406.1 L657.8,406.0 L656.1,405.9 L654.5,405.7 L652.9,405.5 L651.2,405.4 L649.6,405.3 L648.0,405.4 L646.4,405.5 L644.8,405.7 L643.1,405.8 L641.5,405.8 L639.9,405.7 L638.2,405.5 L636.6,405.3 L635.0,405.1 L633.4,404.9 L631.8,404.9 L630.1,405.1 L628.5,405.5 L626.9,406.0 L625.2,406.5 L623.6,407.0 L622.0,407.4Z" fill="#d08a3c" opacity="0.95"/>
<path d="M622.0,392.6 L623.5,392.6 L625.1,392.6 L626.6,392.6 L628.1,392.6 L629.7,392.7 L631.2,392.9 L632.8,393.2 L634.3,393.6 L635.8,393.9 L637.4,394.1 L638.9,394.1 L640.5,394.0 L642.0,393.7 L643.5,393.4 L645.1,393.2 L646.6,393.0 L648.1,393.0 L649.7,393.1 L651.2,393.3 L652.8,393.4 L654.3,393.5 L655.8,393.5 L657.4,393.4 L658.9,393.3 L660.4,393.3 L662.0,393.3 L663.5,393.5 L665.0,393.8 L666.6,394.2 L668.1,394.5 L669.7,394.8 L671.2,395.0 L672.7,395.0 L674.3,394.9 L675.8,394.7 L677.4,394.6 L678.9,394.5 L680.4,394.5 L682.0,394.5 L683.5,394.6 L685.0,394.7 L686.6,394.8 L688.1,394.7 L689.6,394.7 L691.2,394.5 L692.7,394.4 L694.3,394.4 L695.8,394.4 L697.3,394.6 L698.9,394.9 L700.4,395.2 L702.0,395.5 L703.5,395.7 L705.0,395.9 L706.6,395.9 L708.1,395.9 L709.6,395.8 L711.2,395.8 L712.7,395.8 L714.2,395.9 L715.8,396.1 L717.3,396.2 L718.9,396.3 L720.4,396.3 L721.9,396.2 L723.5,396.1 L725.0,396.0 L726.5,396.0 L728.1,396.0 L729.6,396.1 L731.2,396.3 L732.7,396.5 L734.2,396.7 L735.8,396.9 L737.3,397.1 L738.9,397.2 L740.4,397.3 L741.9,397.4 L743.5,397.4 L745.0,397.4 L745.0,398.0 L743.5,398.0 L741.9,398.0 L740.4,398.1 L738.9,398.2 L737.3,398.4 L735.8,398.6 L734.2,398.8 L732.7,399.0 L731.2,399.2 L729.6,399.3 L728.1,399.4 L726.5,399.4 L725.0,399.4 L723.5,399.3 L721.9,399.2 L720.4,399.2 L718.9,399.2 L717.3,399.2 L715.8,399.3 L714.2,399.4 L712.7,399.5 L711.2,399.6 L709.6,399.7 L708.1,399.7 L706.6,399.7 L705.0,399.6 L703.5,399.6 L702.0,399.7 L700.4,399.8 L698.9,400.0 L697.3,400.3 L695.8,400.6 L694.3,400.8 L692.7,401.1 L691.2,401.2 L689.6,401.2 L688.1,401.2 L686.6,401.1 L685.0,400.9 L683.5,400.8 L682.0,400.7 L680.4,400.7 L678.9,400.8 L677.4,400.9 L675.8,401.0 L674.3,401.1 L672.7,401.1 L671.2,401.0 L669.7,400.9 L668.1,400.8 L666.6,400.7 L665.0,400.7 L663.5,400.8 L662.0,400.9 L660.4,401.2 L658.9,401.5 L657.4,401.8 L655.8,402.2 L654.3,402.4 L652.8,402.5 L651.2,402.6 L649.7,402.5 L648.1,402.4 L646.6,402.2 L645.1,402.2 L643.5,402.1 L642.0,402.2 L640.5,402.3 L638.9,402.4 L637.4,402.4 L635.8,402.5 L634.3,402.4 L632.8,402.3 L631.2,402.1 L629.7,401.9 L628.1,401.7 L626.6,401.6 L625.1,401.7 L623.5,401.9 L622.0,402.2Z" fill="#e8b060" opacity="0.9"/>
<path d="M622,395.2 L755,397.5 L622,400.0 Z" fill="#f6dcb4"/>
<path d="M622,396.5 L720,397.5 L622,398.6 Z" fill="#fff6e8"/>
<path d="M669.9,544.65 L755.8,544.65 C776.1999999999999,545.264 788.4399999999999,555.088 789.8,560 C788.4399999999999,564.912 776.1999999999999,574.736 755.8,575.35 L669.9,575.35 Z" fill="url(#brass)" stroke="#3b3026" stroke-width="1.2"/>
<path d="M600,545 L670,545.8 L670,548 Z" fill="#c0a470" opacity="0.8"/>
<path d="M600,573.5 L670,572.2 L670,574.6 Z" fill="#c0a470" opacity="0.8"/>
<line x1="815.4" y1="633.4" x2="836.1" y2="705.3" stroke="#e3161c" stroke-width="1.25"/>
<line x1="846.5" y1="645.8" x2="854.1" y2="686.3" stroke="#e3161c" stroke-width="1.25"/>
<line x1="912.2" y1="642" x2="872.5" y2="695" stroke="#e3161c" stroke-width="1.25"/>
<line x1="947.9" y1="693.9" x2="887.3" y2="711.2" stroke="#e3161c" stroke-width="1.25"/>
<line x1="904.3" y1="727.5" x2="860.3" y2="729.5" stroke="#e3161c" stroke-width="1.25"/>
<line x1="780.8" y1="671.4" x2="822.3" y2="714" stroke="#e3161c" stroke-width="1.25"/>
<line x1="893.2" y1="781.5" x2="855.2" y2="740" stroke="#e3161c" stroke-width="1.25"/>
<line x1="887" y1="817" x2="858.6" y2="762.4" stroke="#e3161c" stroke-width="1.25"/>
<line x1="814.7" y1="811.5" x2="825.7" y2="753.8" stroke="#e3161c" stroke-width="1.25"/>
<line x1="843" y1="781.5" x2="837.9" y2="757.2" stroke="#e3161c" stroke-width="1.25"/>
<line x1="838.9" y1="671.4" x2="848.2" y2="710.5" stroke="#eeeae2" stroke-width="1.25"/>
<line x1="817" y1="697.7" x2="829.2" y2="717.4" stroke="#eeeae2" stroke-width="1.25"/>
<line x1="885.6" y1="717.4" x2="858.6" y2="722.6" stroke="#eeeae2" stroke-width="1.25"/>
<line x1="779" y1="743.4" x2="822.3" y2="729.5" stroke="#eeeae2" stroke-width="1.25"/>
<line x1="820.6" y1="762.4" x2="832.7" y2="729.5" stroke="#eeeae2" stroke-width="1.25"/>
<line x1="862.1" y1="801.5" x2="844.8" y2="741.7" stroke="#eeeae2" stroke-width="1.25"/>
<line x1="813.6" y1="672.5" x2="827.5" y2="701.9" stroke="#e08a2a" stroke-width="1.25"/>
<line x1="895" y1="690.8" x2="867.3" y2="712.2" stroke="#e08a2a" stroke-width="1.25"/>
<line x1="806.7" y1="755.5" x2="822.3" y2="736.5" stroke="#e08a2a" stroke-width="1.25"/>
<line x1="123.7" y1="192.8" x2="123.7" y2="237.2" stroke="#222" stroke-width="1.6"/>
<line x1="306.6" y1="192.8" x2="306.6" y2="237.2" stroke="#222" stroke-width="1.6"/>
<line x1="425.5" y1="192.8" x2="425.5" y2="237.2" stroke="#222" stroke-width="1.6"/>
<circle cx="33.5" cy="181.3" r="18.2" fill="#ff0000"/><path d="M37.10,171.10 L37.10,191.10 L32.80,191.10 L32.80,176.40 L27.40,178.20 L27.40,174.70 L33.70,171.10Z" fill="#fff"/>
<circle cx="164.1" cy="358" r="18.2" fill="#ff0000"/><text x="164.1" y="367.4" text-anchor="middle" class="bd" fill="#fff">2</text>
<circle cx="445.3" cy="518.4" r="18.2" fill="#ff0000"/><text x="445.3" y="527.8" text-anchor="middle" class="bd" fill="#fff">3</text>
<circle cx="781.7" cy="710.1" r="18.2" fill="#ff0000"/><text x="781.7" y="719.5" text-anchor="middle" class="bd" fill="#fff">4</text>
<circle cx="31.5" cy="501.5" r="18.2" fill="#ff0000"/><path d="M35.10,491.30 L35.10,511.30 L30.80,511.30 L30.80,496.60 L25.40,498.40 L25.40,494.90 L31.70,491.30Z" fill="#fff"/>
<circle cx="31.5" cy="599.2" r="18.2" fill="#ff0000"/><text x="31.5" y="608.6" text-anchor="middle" class="bd" fill="#fff">2</text>
<circle cx="31.6" cy="731.6" r="18.2" fill="#ff0000"/><text x="31.6" y="741.0" text-anchor="middle" class="bd" fill="#fff">3</text>
<circle cx="31.6" cy="828" r="18.2" fill="#ff0000"/><text x="31.6" y="837.4" text-anchor="middle" class="bd" fill="#fff">4</text>
</svg>
<div class="t" style="left:6.52px;top:27.17px;font-size:42.44px;line-height:42.44px;font-weight:bold;transform:scaleX(0.8966)">How it detonates</div>
<div class="t" style="left:77.30px;top:153.05px;font-size:31.83px;line-height:31.83px;font-weight:normal;transform:scaleX(0.9822)">Missile</div>
<div class="t" style="left:265.75px;top:152.85px;font-size:31.83px;line-height:31.83px;font-weight:normal;transform:scaleX(0.9641)">Bomb</div>
<div class="t" style="left:365.90px;top:152.85px;font-size:31.83px;line-height:31.83px;font-weight:normal;transform:scaleX(0.9421)">Precursor</div>
<div class="t" style="left:638.11px;top:153.35px;font-size:31.83px;line-height:31.83px;font-weight:normal;transform:scaleX(0.9334)">Concrete</div>
<div class="t" style="left:638.98px;top:188.85px;font-size:31.83px;line-height:31.83px;font-weight:normal;transform:scaleX(0.9669)">structure</div>
<div class="t" style="left:848.36px;top:153.25px;font-size:31.83px;line-height:31.83px;font-weight:normal;transform:scaleX(0.9577)">Inside</div>
<div class="t" style="left:843.93px;top:189.15px;font-size:31.83px;line-height:31.83px;font-weight:normal;transform:scaleX(0.9284)">bunker</div>
<div class="t" style="left:57.79px;top:487.05px;font-size:31.83px;line-height:31.83px;font-weight:normal;transform:scaleX(0.9478)">Contact sensor</div>
<div class="t" style="left:58.19px;top:526.85px;font-size:31.83px;line-height:31.83px;font-weight:normal;transform:scaleX(0.9537)">detects target</div>
<div class="t" style="left:57.88px;top:579.55px;font-size:31.83px;line-height:31.83px;font-weight:normal;transform:scaleX(0.9494)">Precursor blasts jet of</div>
<div class="t" style="left:58.49px;top:620.25px;font-size:31.83px;line-height:31.83px;font-weight:normal;transform:scaleX(0.9457)">hot metal, penetrating</div>
<div class="t" style="left:58.39px;top:660.85px;font-size:31.83px;line-height:31.83px;font-weight:normal;transform:scaleX(0.9487)">up to 5 metres of concrete</div>
<div class="t" style="left:57.98px;top:714.55px;font-size:31.83px;line-height:31.83px;font-weight:normal;transform:scaleX(0.9484)">Follow-through bomb separates from</div>
<div class="t" style="left:58.49px;top:755.25px;font-size:31.83px;line-height:31.83px;font-weight:normal;transform:scaleX(0.9485)">missile and penetrates the structure</div>
<div class="t" style="left:57.95px;top:808.55px;font-size:31.83px;line-height:31.83px;font-weight:normal;transform:scaleX(0.9241)">Bomb, delayed by a fuse, detonates</div>
<div class="t" style="left:59.50px;top:849.25px;font-size:31.83px;line-height:31.83px;font-weight:normal;transform:scaleX(0.9354)">within the bunker</div>
<div class="t" style="left:7.53px;top:933.48px;font-size:24.13px;line-height:24.13px;font-weight:normal;transform:scaleX(0.9731)">Graphic by The Times and Sunday Times</div>
</body></html>
